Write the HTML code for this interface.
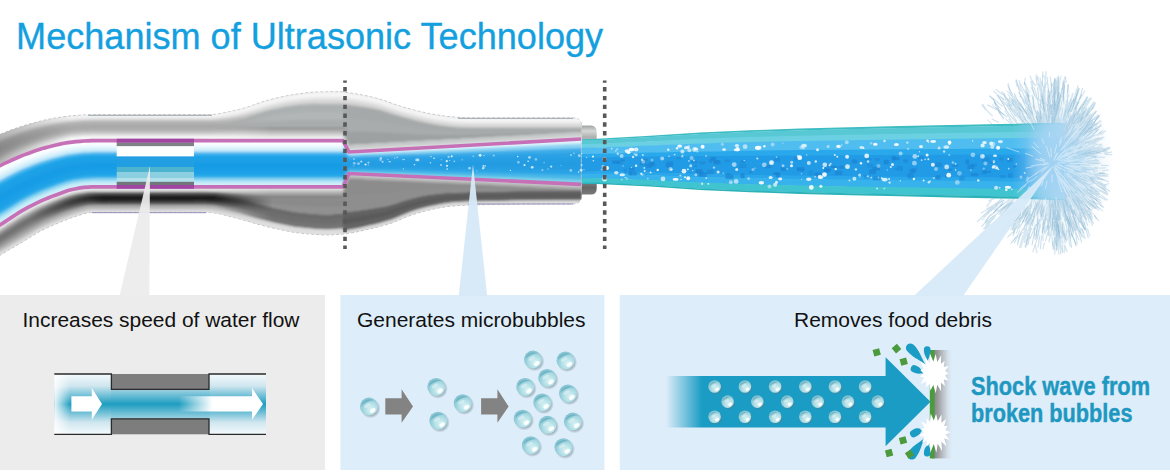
<!DOCTYPE html>
<html><head><meta charset="utf-8">
<style>
html,body{margin:0;padding:0;background:#fff;}
body{width:1170px;height:473px;overflow:hidden;position:relative;font-family:"Liberation Sans",sans-serif;}
svg{position:absolute;left:0;top:0;}
.t{font-family:"Liberation Sans",sans-serif;}
</style></head><body>
<svg width="1170" height="473" viewBox="0 0 1170 473">
<defs>
<filter id="bl" x="-5%" y="-5%" width="110%" height="110%"><feGaussianBlur stdDeviation="0.9"/></filter>
 <linearGradient id="sfg" gradientUnits="userSpaceOnUse" x1="213" y1="0" x2="272" y2="0"><stop offset="0" stop-color="#fff"/><stop offset="1" stop-color="#000"/></linearGradient>
<mask id="sfade" maskUnits="userSpaceOnUse" x="-10" y="60" width="320" height="220"><rect x="-10" y="60" width="320" height="220" fill="url(#sfg)"/></mask>
<linearGradient id="dfg" gradientUnits="userSpaceOnUse" x1="30" y1="0" x2="272" y2="0"><stop offset="0" stop-color="#000"/><stop offset="0.3" stop-color="#fff"/><stop offset="0.76" stop-color="#fff"/><stop offset="1" stop-color="#000"/></linearGradient>
<mask id="dfade" maskUnits="userSpaceOnUse" x="-10" y="60" width="320" height="220"><rect x="-10" y="60" width="320" height="220" fill="url(#dfg)"/></mask>
<linearGradient id="leftdark" gradientUnits="userSpaceOnUse" x1="0" y1="0" x2="72" y2="0"><stop offset="0" stop-color="#555" stop-opacity="0.4"/><stop offset="1" stop-color="#555" stop-opacity="0"/></linearGradient>
<filter id="bl2" x="-5%" y="-5%" width="110%" height="110%"><feGaussianBlur stdDeviation="0.6"/></filter>
<filter id="bl3" x="-5%" y="-5%" width="110%" height="110%"><feGaussianBlur stdDeviation="0.55"/></filter>
<linearGradient id="collar" x1="0" y1="0" x2="0" y2="1">
<stop offset="0" stop-color="#a2a4a4"/><stop offset="0.08" stop-color="#d6d8d8"/><stop offset="0.17" stop-color="#aeb0b0"/><stop offset="0.3" stop-color="#c9d3d6"/><stop offset="0.5" stop-color="#a9c9d2"/><stop offset="0.75" stop-color="#8a9a9e"/><stop offset="0.9" stop-color="#666"/><stop offset="1" stop-color="#7a7a7a"/>
</linearGradient>
<radialGradient id="bg" cx="0.62" cy="0.66" r="0.8">
<stop offset="0" stop-color="#dcf4f5"/><stop offset="0.45" stop-color="#aedde5"/><stop offset="0.8" stop-color="#86c5d2"/><stop offset="1" stop-color="#6fb3c4"/>
</radialGradient>
<radialGradient id="sh" cx="0.5" cy="0.5" r="0.5">
<stop offset="0.55" stop-color="#5f7480" stop-opacity="0.7"/><stop offset="1" stop-color="#5f7480" stop-opacity="0"/>
</radialGradient>
<g id="bub">
<circle cx="1.6" cy="1.9" r="10" fill="url(#sh)"/>
<circle cx="0" cy="0" r="9" fill="url(#bg)"/>
<path d="M-7.4,-0.5 C-6.6,-6.4 -0.5,-8.6 5,-6.2 C0.5,-6 -4.6,-3.8 -7.4,-0.5Z" fill="#5ea7bb" opacity="0.65"/>
<ellipse cx="3.8" cy="4" rx="3.1" ry="1.9" fill="#fff" opacity="0.95" transform="rotate(-38 3.8 4)"/>
<ellipse cx="-1.5" cy="-1" rx="3.6" ry="1.6" fill="#fff" opacity="0.35" transform="rotate(-30 -1.5 -1)"/>
</g>
<linearGradient id="fade3" gradientUnits="userSpaceOnUse" x1="666" y1="0" x2="702" y2="0">
<stop offset="0" stop-color="#1b9cc4" stop-opacity="0"/><stop offset="1" stop-color="#1b9cc4" stop-opacity="1"/>
</linearGradient>
<linearGradient id="wall3" x1="0" y1="0" x2="1" y2="0">
<stop offset="0" stop-color="#7c7c7c"/><stop offset="0.3" stop-color="#9c9ea0"/><stop offset="0.65" stop-color="#c4cbd2" stop-opacity="0.8"/><stop offset="1" stop-color="#dcebf7" stop-opacity="0"/>
</linearGradient>
<linearGradient id="wv" x1="0" y1="0" x2="0" y2="1">
<stop offset="0" stop-color="#f4fafc"/><stop offset="0.2" stop-color="#cfe6ef"/><stop offset="0.5" stop-color="#1d9dc0"/><stop offset="0.8" stop-color="#cfe6ef"/><stop offset="1" stop-color="#f4fafc"/>
</linearGradient>
<linearGradient id="wv2" x1="0" y1="0" x2="0" y2="1">
<stop offset="0" stop-color="#9fd2e2"/><stop offset="0.5" stop-color="#1d9dc0"/><stop offset="1" stop-color="#9fd2e2"/>
</linearGradient>
<linearGradient id="lf" x1="0" y1="0" x2="1" y2="0">
<stop offset="0" stop-color="#fff" stop-opacity="0.9"/><stop offset="1" stop-color="#fff" stop-opacity="0"/>
</linearGradient>
<linearGradient id="arr2" x1="0" y1="0" x2="1" y2="0">
<stop offset="0.03" stop-color="#fff" stop-opacity="0"/><stop offset="0.42" stop-color="#fff" stop-opacity="1"/><stop offset="1" stop-color="#fff"/>
</linearGradient>
<radialGradient id="sbase" cx="0.55" cy="0.5" r="0.5">
<stop offset="0" stop-color="#c4dff0" stop-opacity="0.8"/><stop offset="0.6" stop-color="#d8e9f3" stop-opacity="0.45"/><stop offset="1" stop-color="#e4f0f6" stop-opacity="0"/>
</radialGradient>
<radialGradient id="core" cx="0.5" cy="0.5" r="0.5">
<stop offset="0" stop-color="#9dd0f2" stop-opacity="0.9"/><stop offset="0.45" stop-color="#b0d8f3" stop-opacity="0.6"/><stop offset="1" stop-color="#d4e9f6" stop-opacity="0"/>
</radialGradient>
<linearGradient id="jetfade" x1="0" y1="0" x2="1" y2="0">
<stop offset="0" stop-color="#8fcaf2" stop-opacity="0"/><stop offset="0.55" stop-color="#8fcaf2" stop-opacity="0.8"/><stop offset="1" stop-color="#a5d4f3" stop-opacity="0.95"/>
</linearGradient>
</defs>

<!-- bottom boxes -->
<rect x="0" y="295" width="325" height="175" fill="#ececec"/>
<rect x="340.4" y="295" width="264" height="175" fill="#ddedf9"/>
<rect x="619.8" y="295" width="551" height="175" fill="#ddedf9"/>

<clipPath id="jetclip"><path d="M582,139.2 597,138.8 650,135.7 700,132.5 750,130.3 800,128.6 850,127.3 900,126.1 950,125.1 1000,124.1 1064,122.9 1064,199.7 1000,198.4 950,197.4 900,196.3 850,195.2 800,193.9 750,192.3 700,190.1 650,186.6 597,184 582,184.1 Z"/></clipPath>
<!-- splash -->
<g id="splash"><ellipse cx="1046" cy="163" rx="66" ry="84" fill="url(#sbase)"/><g filter="url(#bl3)"><path d="M1077.8,119.3L1084.6,106.8M1079.3,118.4L1084.4,113M1066.5,134.5L1073.3,119.8M1079.5,100.1L1082.6,88M1073.9,112.6L1077.7,102.4M1073.1,104.5L1078.2,92.8M1077.4,121.6L1084,111.9M1071.6,125.7L1080,113.1M1067.5,139.7L1070.7,135.1M1083,151.1L1094.6,146.7M1068.6,156.2L1076.3,151.6M1073.9,151.8L1078.5,150.9M1084.5,124.1L1090.2,116.2M1071.9,138.7L1075.2,134M1086,127.3L1091.8,121.9M1087,114.5L1089.1,108.3M1084.2,117L1087.9,111M1071.9,130.9L1078.2,119.9M1080.5,109L1087,100.3M1069.3,126.1L1072.4,121.6M1071.1,119.2L1074.9,112.8M1002.6,94.8L995.8,89.2M1008.7,106.8L1001.8,100.5M1095.5,180.7L1106.3,187.1M1084.9,176.7L1093.2,179.3M1090.3,178.3L1094.3,182.7M1074,238.6L1076,246.1M1066.7,210.1L1071.7,227M1059.4,195.3L1061.8,206.9M985.7,109.5L982.5,103.9M1093.3,173.1L1099.5,176M1092.5,174.4L1099.4,175.5M1080.3,168.1L1090.2,169.8M996.1,215L984.7,229.3M1008.5,203.5L997.7,211.4M1094.2,167.2L1098,169M1085.9,167.7L1093.8,169.6M1076,161.6L1082.7,162.7M1073.6,186.7L1083.9,196.7M1080.1,186.5L1086.4,194.2M1069.4,178.1L1076.3,184.1M1075.6,203.9L1083.4,217.5M1078.9,214.3L1085,230.6M1066.4,190.8L1071.7,200.1M1043.4,197.2L1038.8,211.4M1031.5,227.9L1027.2,241.5M1032.6,219L1029.5,231.2M1057.5,125.3L1058.9,116.3M1056.2,115.4L1056.4,106.6M1058.1,100.5L1058.6,93.4M1067.7,230.5L1070.5,235.8M1062.4,196.4L1064.7,207.9M1063.5,214.1L1067.1,228.7M1078.3,216.7L1084.9,230.2M1070.2,204.2L1073.3,214.3M1068,194.8L1074.4,207.3M1090.2,150.6L1101.8,147.7M1083.1,155L1093,151.1M1094.3,152.1L1104.8,148.7M1082.7,194L1093.1,202.9M1087.3,202.4L1094,207.1M1083.2,196.4L1090.4,206.4M1070,136.2L1073.1,129.6M1075.6,130.6L1082.4,120.2M1084.4,120.6L1088,113.9M1076,197.4L1084.8,208M1075.2,198.1L1079.3,201.5M1073,194.5L1080.2,204.3M1078,156.2L1082.7,156.3M1077.2,153.2L1084.9,150M1086,151.1L1094.6,147M1040.2,125.4L1039.4,116.5M1031.9,114.6L1024.7,98.2M1094.3,143.8L1102.4,136.9M1074.1,153.3L1084.4,149.7M1077.6,148.4L1088.5,141.3M1085.9,115.5L1093.9,101.9M1079.9,125.3L1089.4,114M1089.9,111.7L1094.5,103.9M1050.8,108L1047.6,91.2M1049.9,127.3L1047.9,121.4M1050.6,132.3L1049.1,123.1M1095.3,192.7L1100.4,195.1M1086.1,189.5L1091.8,195.3M1086.8,188.9L1096.6,193.6M990.2,209L977,222.2M990.3,215.3L981.6,227M1059.5,238.5L1062.5,252.7M1058.6,219.8L1062.4,237.6M1057.4,198.5L1060.7,211.9M1001.6,113.5L993.9,102.5M1003.9,119.3L997.7,110.2M1070.9,126L1073.2,118.1M1062.8,145.2L1068,137.1M1067.9,126L1069.8,118.1M1077.7,196.3L1085.7,208.9M1080.2,195.6L1088.7,204.3M1075.6,191.2L1083.1,199.3M1074.7,128.9L1079.3,121.3M1069,138.6L1075.3,128.4M1064.4,139.9L1068.5,133.5M1042.1,92.5L1038.7,83.1M1047.4,120.7L1044.7,102.6M1048.3,125L1045.9,114.3M1089.9,189.3L1097.2,196.3M1082.7,189L1090.5,194.2M1089.9,196.9L1097.1,204.6M1064.4,151.9L1075.2,143.5M1073.5,143.3L1078.9,140.2M1078.4,140L1084.9,134.1M1080.2,121L1086.6,107.5M1069.8,136.7L1072.9,133.4M1070.4,132.2L1076.2,124.4M1057.9,117.9L1060.3,107.1M1050.9,109L1048,92.9M1054.9,114.5L1054.9,101.5M1061.8,201L1064.6,211.8M1068,209.2L1071.8,225M1064.3,207.9L1066.6,221.2M1071.3,156.8L1076.9,155.7M1082.3,155.2L1088.5,151.7M1079.5,156.9L1087.1,154.9M1072.9,187.4L1076.9,190.6M1069,182.6L1077.8,195.2M1070.8,182L1081.3,191.1M1035.8,86.2L1031.6,80.8M1045.7,131.8L1043.2,114.6M1044.7,108L1042.1,99.4M1040.7,105.6L1040.4,99.3M1044.5,138.2L1041,125M1043,97.7L1044,86M1065.4,149.6L1072.7,142.1M1072.1,141.2L1078.4,133.2M1078.3,137.4L1085.9,127.4M997.2,110L987.3,104.7M990.8,221.3L985.3,224.5M1007.7,204.3L993.5,216.7M1043.2,110.3L1039.8,103.8M1044.3,121.8L1043.1,104.3M1045.3,129.4L1043.6,123M1092.2,176.9L1095.8,178.4M1081.9,171.8L1086.1,173.9M1088.9,177.7L1094.6,177.2M1080.3,199L1084.5,203M1076.2,195.3L1080.6,200.4M1071.8,187.1L1079.9,199.4M1087.4,161.1L1098.4,160.2M1073.6,163.6L1078,163.4M1085.8,162L1089.8,160.5M1076.1,190.3L1083.9,201.5M1077.4,186.9L1081.8,193M1067.7,178.2L1071,181.7M1054.5,99.9L1054.3,86.7M1054,122.1L1055.5,111M1058.3,109.7L1059.6,91.9M1034.5,125.2L1029,112.3M1083.5,205L1087.9,214.6M1090.5,219.3L1092.6,225.8M1074.1,195L1083.1,205.3M1083,178.4L1089.1,179.7M1092.2,177.3L1097.3,182M1081.4,174.1L1088.3,177.1M1074,167.9L1079.1,169.1M1082.8,167.4L1094.1,169.9M1093.2,176.6L1099,179M1078.5,180.9L1088.9,188.8M1073.3,178.2L1080,181.9M1074.2,178.5L1079.4,184M1094.9,159.5L1099,160.7M1089.4,153.9L1094.3,150.4M1092.9,157L1105,157.4M1043.1,206.1L1040.3,215.5M1039.7,235.9L1038.1,247.4M1044.7,205.8L1040.7,217.3M1015.8,116.4L1008.6,105.1M1087.1,148.1L1097.8,144M1085.7,155.2L1092.9,155.6M1085.8,150.9L1091,150.2M1040.8,224.7L1036,239.2M1045.5,185.6L1042.4,201M1043,209.2L1042,218.5M1060.8,236.4L1063.4,242.6M1058.5,225.9L1060.4,232.3M1056.4,202.4L1059.3,218.5M1055.5,232.5L1058.2,246.8M1055.5,215.8L1057.2,221.2M1056.8,207.5L1058.7,221.5M1020,106.7L1014.1,92.7M1028.1,124.1L1018.7,112.7M1021.6,112L1012.9,102.7M1019.9,108.4L1014,98.9M1025.4,118.6L1017.8,103.8M1045.1,131.5L1042.9,113.4M1042.7,135.8L1037.9,120.6M1039.7,124.4L1036.7,111.8M1048,213.6L1049.1,229.9M1051.2,186.7L1050.5,200.5M1051,214.6L1050.3,224M1052.9,122.1L1052.1,108.3M1052.9,132L1052.9,115M1052.2,97.8L1053.7,91.9M1063.8,134.8L1065.9,127.7M1066.5,127.1L1069.6,120.1M1058.6,148.2L1065.3,133.8M1046.7,148.5L1040.9,132.9M1046,147.5L1041.6,133.5M1060.5,136.8L1066,120.8M1065.2,114.4L1068.6,107.3M1063.9,114.8L1066.2,108.5M1048.8,109.5L1048.2,96.7M1052.7,121.7L1052.9,107.2M1053.2,121.3L1054.9,103M1088,132.7L1096.3,128.4M1093.9,139.6L1104.4,137.2M1082.5,142.6L1086.5,137.8M1059.6,189.9L1061.9,201.7M1059,184.7L1061.3,192.2M1059.4,193.5L1063.3,210.9M1033.7,118.6L1029.4,110.8M1033,124.9L1027.1,109.4M1010,199.1L994.7,210.6M1009.4,205.1L1001.5,216.8M1018.7,213.5L1006.8,228M1040.3,184.8L1031.7,200.5M1061.1,226.7L1065.4,243.8M1056.8,205.9L1059.9,221.8M1059,216.2L1059.8,235.2M998.9,202L989.1,210.5M1002.4,198.1L994.8,204.6M1097.3,185.4L1107.6,192.5M1076.9,171.6L1083.4,172.8M1099.1,181.4L1106.1,186.3M1075.4,192.7L1081.2,200.8M1073.1,190.3L1080.7,201.2M1067.6,179.4L1071.5,182.3M1009.9,115.6L1004.5,107.4M1029.9,236L1027.8,245.3M1034.3,231.5L1035.3,239.7M1037.9,223.1L1033.9,230.2M1082.4,131.7L1090.6,119.8M1084.8,130.4L1087.5,125.6M1071,145.3L1080,137.7M1014.6,230.7L1007.3,237.4M1027.7,216.6L1023.6,230.2M1028.5,210.4L1021.2,219.8M1105.2,154.5L1112.4,154.7M1092.7,154.8L1097.4,155.1M1089.9,160.7L1096.4,160.8M1056.2,229.3L1056.7,245.8M1050.5,213.6L1050.6,227.1M1052.6,212.8L1051.5,230.8M1068.3,214.8L1070.9,227.5M1057.4,181L1062.8,196.8M1063.9,199.9L1067.9,214.7M1092.9,149.1L1102.6,145.5M1077.3,158.5L1085.6,157.5M1075.4,154.8L1086.8,150.8M1088.2,123.1L1098.3,114.9M1085.2,129L1092.4,120.1M1076.5,141.6L1082.7,133.6M998.9,122.4L991.7,118.9M997.9,209.5L987.8,217.8M1058.8,228.1L1059.8,238.5M1062.1,223.5L1064.2,234.1M1058.7,208.7L1059,214.6M1067.4,113.3L1069.9,101.3M1056.6,148.6L1061.3,132.3M1059.7,141.1L1063.7,128.5M1026.3,211.5L1015.2,226.4M1031.5,201.7L1030,208.6M1015.3,219.9L1012.2,230.3M1020.5,220.6L1016.6,228.8M1017.9,225.4L1012.7,230.4M1054.5,237.1L1053.8,249.9M1054,221.8L1055.5,231.2M1052.1,194.7L1052.4,207.3M1086.4,101.7L1091.3,97.8M1084.2,102.1L1088.2,97.1M1069.2,136.7L1073.1,129.6M1049.6,219.6L1046.6,231.3M1050.3,199.3L1050.3,214.6M1049.9,201.8L1049,214.9M1059,213.3L1060.3,219.9M1054.3,181.4L1055.5,196.9M1054.9,188.4L1056.3,204.8M1064.6,245.2L1067.2,251.8M1056.7,197.9L1057.3,210.1M1057.8,230.8L1057.8,245.7M996.3,197.4L988.5,201M1009.1,105.9L1005.8,101.2M1014.8,111.9L1004.1,102.3M1033.9,93.3L1030.7,80.8M1039.3,126L1036.4,116.1M1036.8,116.4L1033.5,103.8M1086.9,128.6L1091.2,124.2M1077.2,139.4L1082,133.8M1080.2,139.4L1086.6,131.9M1016.5,108L1007.1,98.5M1027.7,125.8L1021.3,119.6M1013.6,112.4L1009.1,108.4M1058,190.9L1061.9,203.7M1060,198.8L1063.3,208M1056.5,190.8L1057.2,200.1M1034.7,110.1L1032,94.8M1035.7,123.2L1031.7,112.5M1006,207.5L996.8,213.2M1001.6,201.1L992.5,207.6M1088,193L1098.3,198.9M1074.8,176.7L1078.4,180.5M1080.8,180.4L1087.6,185.5M1018.8,125.2L1009.7,114.9M1034.1,120.2L1029.2,103.5M1030.6,106.6L1027.1,91.8M1052.7,102.9L1053.5,90M1051.8,134.1L1052.7,118M1049.6,99L1048.3,90.9M1099.3,190.1L1108.2,193.9M1074.1,174L1081.1,177.1M1082.4,177.4L1093.2,184M1078.3,230.6L1081.7,242.5M1069.9,217.8L1073.4,234.7M1068.8,209.6L1072.1,221.1M1091.7,142.7L1096,142.8M1086.3,140.4L1093.6,135.2M1072.7,154.4L1079.1,150M1093.5,192.5L1097.3,195.2M1071.7,176.6L1080.7,182.4M1066.3,173.6L1075.4,180.3M1059.7,241.2L1060.7,254.3M1054.5,199.2L1054.9,213.9M1055.4,235.6L1054.8,254.4M1004.6,199.9L995,205.9M1077.7,204.1L1085.7,212.9M1073.6,199.2L1081.1,214.1M1076.9,200.1L1082.3,211.8M1036.1,201.5L1031.4,218.8M1030.5,213.8L1029.5,219.9M1073.9,117.7L1076.9,107.7M1071.1,126.6L1078.2,112.8M1063.3,139.3L1067.8,128.6M1092.6,124.1L1099.5,115.5M1076.4,138.1L1082.5,130M1086.6,132.4L1093.5,123.9M1099.3,184L1110,191.5M1084.3,183.5L1092.8,187.8M1073.1,174.2L1082.3,180.4M1009.7,89.8L1008,83.1M1026.7,114.2L1018.5,103.5M1024.9,103.9L1020.2,95.7M1069.2,156L1079.2,153.5M1078.8,150.2L1086.5,147.8M1069,155.7L1075.8,154.1M1068.2,138.7L1076.3,126.9M1067.8,137.6L1073.2,126.3M1085.8,115.1L1090.1,112M1082.3,135.6L1089.8,127.8M1069.7,142.9L1076.2,135.7M1070.4,144.3L1077.7,138.9M1046.9,125L1046.2,112M1047.1,103.2L1048.4,89.2M1048.7,126.1L1048.8,115.9M1060.8,199.8L1062.3,207M1060.1,194L1064.1,208.5M1065.3,215.5L1068.7,225.5M1052.1,139.3L1051.7,122.8M1052.5,124.6L1051.7,108.2M1051,131.3L1048.6,114.9M1058.7,93.7L1059,85.8M1060.3,110.3L1062.2,99.5M1063.1,97.7L1063.8,91M1063.6,194.2L1068,205.7M1064.8,194.8L1070.7,207.8M1064.2,197.8L1068,205.5M1069.8,164.1L1081.2,164.3M1089.2,169.1L1096.7,168.7M1082.3,165L1090.6,166.1M1062.8,126.3L1066.6,109.7M1073.7,104.7L1076.9,97.8M1071.3,111.8L1074.6,103.6M1040.7,206.1L1036.9,215.4M1044.3,209.3L1043.1,217.2M1042.2,201L1041.5,210.7M1053.3,185.9L1053.6,201.7M1052.8,197.2L1053.7,208.4M1053,198.9L1054.2,208.6M994.9,204.9L987.3,213.9M1020.6,232.6L1017.4,245.2M1034.3,210.9L1029.9,217.1M1030.2,218.5L1025.4,224.8M1079.8,229.9L1082.3,237.5M1070.3,205.9L1075,221.1M1067.9,202.4L1071.8,209.5M1051.9,118.5L1052.4,104M1053.3,140.8L1054.7,126.5M1054.5,123.5L1054.3,111.9M1043.7,104L1041.2,95.4M1049.3,132.5L1049.7,123.2M1044.9,115.8L1043,97.6M1095.3,131.1L1101.2,123.8M1079.3,144.9L1085,139.1M1089.1,133L1099.5,126.7M1066.9,216.2L1069.3,229M1069.3,216.7L1073.4,225.9M1062.6,208.2L1065.5,221.8M1068.1,228.5L1070.7,238.3M1062,202.3L1063.3,212.6M1071.1,219.3L1076.3,230.5M1081.7,221.2L1086.1,230M1078.1,216.9L1084.2,229.2M1071.5,207.7L1074,213.9M1059.3,208.9L1061.1,219.9M1054.5,179.6L1055.7,192.2M1054.2,182.8L1055.7,201M1057.1,91.9L1057.9,80.3M1056.5,130.7L1056.8,119.8M1057.3,101.6L1058,90.1M1096.4,174.3L1108.3,176.3M1083.2,167.4L1094.8,169.6M1072.2,169.6L1081.7,172.3M1086.1,178.7L1095.3,183M1073.7,175.8L1078.7,177.2M1068.5,171.5L1077.8,175.3M1088.3,135.1L1097.3,125.6M1075.2,139.1L1083.6,129.6M1068.9,145.1L1077.7,134.9M1087.3,215.2L1089.5,222.6M1083.9,212.8L1088.5,216.7M1070,188.9L1077.9,198.1M1020.1,230.1L1014.3,243.3M1016.1,227L1013.8,233.8M1032.2,204.3L1025.4,215.5M1008.9,220L1002,226.9M1017.2,208.3L1010.4,213.5M1026.4,198.5L1015.4,211.5M1066.7,201.9L1068.4,207.1M1073.2,216.3L1078.8,233M1066.2,205.1L1070.2,219.2M1091.3,136.1L1099.1,129.2M1088.2,144.1L1098.7,139.1M1077.3,148.7L1082.5,147M1071,191.2L1078.3,201.2M1064.6,187.8L1071.5,199.8M1072.1,197.1L1074.9,204.5M1054.7,112.6L1054.6,96.4M1054.6,117.4L1054.9,100.8M1057.7,113.2L1061.2,95.4M1061.1,137.9L1067,124M1062.4,133L1065.3,126.6M1065.8,113.2L1071.4,97.9M1074,132.6L1078.8,122.9M1086.3,122.6L1092.1,115.2M1080.3,132.4L1084.1,128.3M1059.1,128.2L1061.2,121M1055.2,135.4L1056.6,118.3M1056.1,139.4L1059.4,121.8M1069.4,123.5L1071.3,115.4M1064.9,131.4L1069.9,122.6M1065.9,128.3L1068,122.5M1044.4,222.9L1043.2,229.2M1048.1,187.3L1046.7,204.6M1045,225.8L1044.5,232.7M1057.6,146.1L1060.2,137.3M1060.7,136.4L1064.2,127.9M1060.2,139.7L1064.5,127.7M1081.9,134.1L1087.8,130.7M1065.6,148.6L1074.6,138.7M1071.7,148.4L1078.4,141.7M1073.9,201.2L1079,210.9M1081.4,210.9L1087,220.3M1070.5,188.8L1077.5,197.3M1050.3,180.9L1049.8,192.5M1051.1,178.9L1051.1,191.1M1046.5,185.2L1044.9,193M1065.3,202.8L1069.2,211.7M1066.4,199.8L1073.6,213.6M1070.6,205L1075.8,216M1012.7,203.2L1006.3,206.2M1010.4,210.4L1005.2,214.9M1077.4,193.7L1083.1,203.1M1075.4,190.2L1081.5,198.6M1085.1,205.4L1091.9,210.5M1072.7,137.7L1076.8,135M1068.6,141.5L1076.3,133.8M1084.5,122.4L1090.2,116.6M1021.1,113.6L1012.5,104.4M1021,117.5L1014.4,111.6M1064.7,183.6L1072.6,197M1068.8,192L1071.3,196.6M1077.2,202.5L1082.5,210.4M1054.1,107.9L1053.5,102.1M1051.8,86.3L1055.1,80M1053.2,118.2L1052.4,111.9M1027.9,205.8L1019.7,220M1020.9,212.5L1019,220.2M1058.9,222.6L1060.6,228.6M1059.7,221.2L1062,230.8M1055.5,196.2L1057.3,204.6M1052.4,126.6L1052.5,115.1M1053.1,123.6L1054.4,117.9M1054.4,98.5L1053.2,83.9" stroke="#a4c9de" stroke-width="1.1" fill="none" opacity="0.55"/><path d="M1079.9,116.7L1086.6,109.6M1077.3,114.5L1082.3,107.1M1073.1,125.7L1078.6,114M1080.4,98.3L1085.1,90.5M1071.5,116.8L1075.5,109.1M1071.7,118.4L1076.1,109.9M1079.2,117.1L1083.9,111.7M1071.5,133.8L1076.6,123.8M1066.1,142L1073,130.3M1082.5,148.3L1093.8,142.3M1069.2,154.1L1075.4,152.4M1076.1,152.4L1087.2,149.6M1085.8,126.2L1090.8,117.4M1067.6,143.6L1075.4,133.9M1073.6,137.4L1078.7,132M1083.2,119.6L1090.2,110.2M1063.8,142.5L1071,129.7M1079,115.3L1082.6,110.9M1075.3,109.8L1081.4,93.9M1066.8,127.8L1071.9,115M1080.1,107.6L1083.1,103.5M1003.9,100.2L993.4,91M1023.6,121.5L1018.4,113.9M1099.8,184L1106,188.7M1074.7,169L1086.5,170.4M1072,170.7L1081.3,172.6M1072.2,235.3L1076.6,245.7M1063,205.5L1065.3,220.2M1071,218.6L1074.8,231.1M992.6,116.3L981.6,104.9M1089.3,173.1L1099.5,176.2M1079.7,174.4L1084.2,177.5M1091.5,173.5L1095.3,174.5M990.5,224.4L984.2,228.8M1086.7,162.5L1098.7,162M1080.3,168.5L1084.5,168M1069.4,162.9L1075.7,161.5M1090.7,197.4L1095.4,204.7M1071.6,181.4L1079.4,187.2M1080.3,185.4L1087.1,188.1M1087.4,228.3L1089.8,236.6M1076.5,209.7L1079.4,218.3M1079,211.4L1085,225.1M1026.7,228.8L1024.4,243.1M1041.6,193.6L1038.3,208.6M1041.3,210L1041.3,220.6M1055.6,109.1L1058.3,91.8M1055.9,116L1057.4,110.2M1055.7,127.2L1058.1,115.2M1067.7,229.1L1070,247.1M1068.6,218.1L1073.4,231.6M1070.9,234.4L1074.2,239.3M1079.4,230.7L1081.7,236.1M1074.1,210.6L1076.5,220.2M1075.7,213.1L1080.5,222.1M1098.7,148.7L1110.2,148.6M1094.4,150.6L1100,150.6M1093.4,151.9L1098.8,149.9M1091.2,201.8L1099.2,210.2M1082.9,191.1L1090,197.5M1078.6,187.2L1088.9,197M1085.2,117.2L1087.7,112.7M1080.2,128L1084.7,122.2M1080.6,120.1L1084.5,114.1M1078.7,200L1085.7,212.8M1071.6,189.9L1075.4,196.3M1072.5,188.4L1081.9,197.5M1093.5,152L1100,148.8M1072.1,154.9L1083.2,151.5M1080.5,154L1088.7,152.7M1020.8,91L1015.5,80.7M1028.5,110.9L1022.5,100.1M1026.5,102.2L1021.8,89.7M1098.4,139.5L1102.8,139M1092.8,144.1L1096.2,139.7M1073.2,151.7L1081.8,147.5M1085.6,114L1094.4,102.7M1082.2,118.7L1086.6,108.4M1070.3,137.9L1077.5,130.3M1048.9,104.8L1049.7,91.1M1046.6,106.3L1043.3,96.1M1049.5,111.9L1047.5,104.2M1089.6,189.9L1099.6,197.7M1077,181.3L1082.3,186.3M1089.5,192.6L1097.7,201.8M993.1,216.1L983.4,229.4M993.9,207.5L987,213M1055.9,203.5L1058.1,217M1058.4,205.7L1059.4,211.7M1057.1,208.7L1057.7,215.2M1013.1,123L1008.9,118.9M1074.4,125.1L1077.6,119.3M1070.7,130.3L1075,120.3M1066.5,140.4L1070.3,135.7M1088.5,207.9L1092.4,213.8M1068.3,184.4L1073.9,194M1073.3,189.5L1080.4,199.7M1077.4,119.6L1083.6,110.1M1067.4,137.2L1073.3,126.5M1072.7,128.4L1079.9,114.8M1033.3,83.4L1029.9,75.8M1042.5,96.6L1037.4,83.8M1041.9,94.2L1040,77.5M1095.1,199.1L1103.8,207.8M1095.9,198.9L1100.6,200M1090.8,195.8L1101.1,200.6M1092.5,126.7L1097.9,123.2M1082.6,133.4L1092,122M1089,130.4L1094.9,122.5M1083.7,110.6L1085.7,103.2M1071.1,133.4L1075.5,125.5M1081,116.9L1083.2,110.8M1057.5,93.5L1060.9,76M1054.7,96.4L1055.4,79.6M1055.3,123.6L1056.1,108.5M1072.9,222.4L1076.5,230.2M1061.3,192.1L1062.9,198.8M1065.1,201.7L1068.7,213.2M1093.5,154.6L1101.7,150.7M1079.6,158.8L1084,158.9M1087.4,154.4L1098.6,149.4M1094.4,215.7L1099,221.1M1085.9,199.2L1095.8,206.3M1087,199.7L1095.4,208.6M1044.9,87.9L1046,71.2M1041.1,95.2L1037.7,77M1044.6,92.1L1041.3,80.8M1044.4,102.5L1043,85.7M1041.8,103.8L1040.1,89.6M1045.2,116.1L1045.9,110.3M1076.2,131.2L1085.2,118.7M1082.8,128.4L1087.2,123.7M1075.2,134.9L1078.2,130.4M1004.7,105.6L997,94.9M1007.4,116.9L999.8,111.5M991.7,209.2L981.7,220.4M991.4,213.7L985.2,221.3M1047.6,146.6L1043.2,132.5M1045.6,123.2L1044.1,117.1M1046.1,128.9L1042,115.2M1075.9,172.9L1085,178.7M1065.2,167.3L1076.5,172M1072.1,172L1076.1,174.8M1059.8,173.2L1068.1,184.7M1061.7,173.2L1070.1,182M1061.9,175L1068.9,184.9M1081.2,166.5L1085.3,168.2M1078.2,166.7L1089.2,168.6M1074.3,163.1L1085.2,165M1073.8,185.1L1078.5,190.4M1071.3,181.4L1081.1,190M1078,189.2L1081.7,194.3M1054.1,123.4L1054.1,110.4M1054.9,114.6L1056.3,102M1057.6,115.9L1058.9,103.7M1087.8,213.9L1093.9,223.9M1080,199.7L1085.8,205.1M1064,181.3L1071.9,195.4M1090.8,179.2L1102.1,184.6M1075.8,173L1082.9,175.7M1074.4,170.3L1083.9,173.2M1094.1,178.6L1104.2,179.6M1079,169.3L1082.8,168.5M1078.1,166L1084.9,166.7M1087.6,184.2L1096.9,192.6M1076.4,177.4L1082.7,182.3M1080.6,184.1L1086.9,189.8M1103.3,151.9L1107.6,147.6M1076.4,158.5L1082,158.5M1089.3,157L1096.9,156.5M1044.5,242.4L1042.8,249.3M1044.3,207.7L1042.6,219.2M1047.5,224.6L1044.9,234.3M1003.2,106.8L989.4,95.9M1003.8,117.9L995.9,107.2M1091.9,150.2L1098.5,148.6M1080.3,154.4L1089.3,150.7M1077.8,155.8L1084.1,153.5M1031.8,219.3L1026.3,236.5M1038.1,218.9L1036.7,233M1029.5,224.9L1027.4,235.2M1059,234.2L1061.6,243.2M1057,213.6L1057.1,223.3M1057.7,202.4L1057.6,209.3M1054.5,240.1L1053.6,247.4M1051.7,229.3L1048.9,242.2M1055.3,224.1L1055.8,232.6M1021.3,106.4L1011.2,94.2M1023.3,123.7L1013.2,108.9M1018.9,115.2L1016.4,107.3M1021.7,119.2L1014.5,107.4M1042.6,127.8L1036,110.9M1042.2,131.1L1039.4,117.3M1040.4,120.8L1039.7,111.6M1050.1,225.3L1048.4,235.8M1052.3,197.8L1052.9,209.7M1050.1,207.2L1050.4,219.9M1056.5,92.1L1058.8,77.3M1054.4,102.4L1056.4,92M1053.1,137.9L1053.6,119.5M1065.4,134.5L1072.2,120.4M1057.3,147.8L1060.5,137.7M1061.1,138.6L1063.8,132.4M1035.1,112.2L1032.8,105.2M1038.3,122.5L1037.8,115.5M1068,93.2L1068.2,84.2M1057.9,133.4L1059.7,123.2M1069,104.3L1072.6,95.6M1053.4,100.5L1054.7,83.2M1053.1,127.6L1053,115.5M1053.4,133.2L1055.2,118.9M1101,135.1L1105.7,130.5M1099.1,132.5L1103.9,132.8M1088,142.5L1099.4,137.4M1063.2,211.4L1065.4,221.4M1059.9,193.1L1065.2,209.5M1064.5,205.3L1067.4,210.8M1030.9,104.8L1025.2,89.6M1030.9,111.6L1027.3,106.4M1041.1,134.8L1037.3,125.6M1013.4,202.1L999.7,214.8M1014.8,198.2L1002.9,208.3M1024.7,207.2L1022.3,213.4M1015.4,219.2L1009.4,224.2M1056.8,231L1059.1,245.7M1057.4,204.8L1059.3,223M1057.1,221.1L1057.8,239.8M991.6,200.3L986.4,206.8M1002.3,200.6L996.5,204.6M1099.6,175.7L1105.6,176.4M1089.7,175.9L1098.7,179.8M1097,181.9L1102.7,185.9M1068.5,181.5L1073.7,186.4M1072.2,185.6L1075.3,189.1M1071.6,187L1080.3,200.1M1018.4,117.8L1010.5,104.3M1031.1,228.2L1025.6,244.6M1040.2,218.4L1038.5,234.9M1028.8,235.5L1025.3,242.1M1084.3,138.4L1094.6,129.5M1069.7,146.8L1072.9,143.4M1067.9,150.4L1074.7,144.8M1022.8,228.4L1017.5,242.5M1025.4,212.9L1019.2,222.5M1023.9,213.5L1020.9,220.3M1091.2,154.6L1096.9,153.8M1080.8,154.5L1087.7,152.9M1102.7,150.2L1109.9,147.4M1052.9,216.2L1054.1,225.7M1049.8,194.2L1047.9,211.8M1053.7,213.6L1053.4,224.5M1069.6,206.7L1073.6,215.7M1061,185.1L1066,196.6M1064.6,195.5L1070.2,206.8M1091.7,152.8L1102.9,147.4M1072.9,158.9L1081.2,158.1M1095.9,153.3L1100,151.8M1097.2,123.6L1100.6,120.6M1075.6,140.4L1080.2,135.2M1082.6,134.2L1089.8,126.7M994.7,218.2L985.3,222.5M1011.9,201.8L1005.4,208.4M1057.1,208.4L1059.8,224.9M1058.1,224.2L1059.3,237.4M1057.1,222.1L1059.9,237.4M1064.3,116.5L1065.9,104M1063.7,121.2L1064.9,114.2M1065.7,117.5L1069.4,108.8M1029.9,206.7L1024.6,217.4M1035.5,197.9L1033.2,203.3M1020.8,213.3L1012.2,230.2M1018.9,216.4L1011.2,225.4M1032.1,199.8L1026.5,214.6M1057.3,237.6L1056.7,249.6M1058.5,233.7L1059,249M1051.4,232.3L1053.1,246.3M1085.8,104.2L1091.6,98.2M1073.9,120.6L1076.8,116.3M1084.9,103.4L1087.2,96.2M1049.4,220.1L1046.2,231.3M1047.8,211.7L1044.6,224.3M1051.8,209.2L1053.4,226.2M1058.3,213L1057.8,220.6M1054.3,191.8L1055,210.3M1052.9,180.9L1054.1,193.4M1064.9,244.8L1064.5,252.8M1063.2,223.2L1065.4,235.1M1059.8,208L1060.2,216.4M1005.9,100.6L1004,93.9M1017,116.5L1014.3,108.6M1016.7,104.5L1014.3,95.3M1032.7,88.4L1032.8,80.4M1043.7,129.2L1041.4,110.7M1042.4,126.5L1039.8,114.3M1088.4,132.6L1093.3,129.6M1081.5,141.6L1086.6,136.5M1079.4,145.5L1082.6,142.1M1015.9,106.4L1008.7,97.5M1023.7,109.5L1018.1,101.7M1060.6,202.5L1063.1,216.6M1057.1,200.1L1057.4,207.9M1054.5,178.3L1056,191.7M1029.6,93.3L1024.6,82.1M1037.9,125.3L1033.4,118.1M1030,96.7L1026.1,91.4M1012.3,203.4L1000.3,216.8M1015.2,197.6L1006.8,203.5M1094.7,192.7L1099.6,194.3M1079.2,181.3L1086.6,184.3M1072.4,173.1L1078.4,175.3M1021.5,91.5L1019.1,80.2M1032.6,123L1027.1,109.7M1031.2,122.7L1026.4,116M1049.9,97L1051.1,90M1051.7,120.9L1052.7,108.2M1048.8,126.2L1047.9,115.5M1096.6,188.4L1107.8,195.3M1070.9,174.5L1081.8,181.1M1093.6,191.2L1097.9,195.6M1081.5,228.5L1085.4,238.9M1070.8,217.2L1075.1,229.2M1073.1,224.4L1077.6,230.8M1089.7,138.7L1094.1,134.7M1068.1,153.2L1079,145.2M1075.5,149.6L1079.9,147.9M1091.3,192.6L1097.3,194.9M1080.9,180.4L1091.6,187.2M1090.5,186.1L1097.2,190M1055.8,236.2L1059,254.6M1056.7,223.1L1057.6,238.2M1055.3,232.7L1057.4,249.1M1083.2,211.5L1086.3,218.5M1070.7,193.6L1079.1,204.2M1078.3,205.5L1082.2,213M1023.1,235.3L1019.5,247.8M1030.5,216.8L1022.2,231M1026.3,230.1L1020.7,247.9M1075.5,117.2L1078.7,109.7M1070.6,123.8L1075.9,110.5M1063.4,142.3L1066.8,137.4M1095.4,125.3L1101.5,120.7M1077.1,142.1L1086.2,131.9M1068.8,145L1075.9,139.3M1100.9,195.3L1107.9,200.1M1102,186.7L1105.9,191.3M1079.5,179.1L1086.8,181.5M1016.8,86.3L1016.2,79.3M1040.6,137L1033.4,121.3M1091.3,153.7L1096.6,149.9M1089.6,153.6L1093.7,154.1M1077.2,154.9L1088.5,153.5M1085.5,111.7L1095.2,101.8M1084.3,109.2L1089.9,100.3M1077.8,120.7L1081.3,114.2M1087.3,127.2L1092.5,125M1084.6,133L1089.8,127.9M1082,131.3L1086.7,126M1046.8,84.7L1043.4,74.8M1043.2,102.8L1042.7,92.8M1047.3,105.7L1044.6,99.6M1070.2,215.7L1073,229.6M1060.7,192.9L1062.6,203M1058.7,195L1060.8,205.1M1053.8,122.6L1055.1,108.1M1052.2,139.3L1052.4,124.8M1051.8,149.1L1050.6,135.4M1063.4,94.8L1065,76.4M1063.9,104.6L1063.8,96.6M1061.8,97.4L1063.4,79.5M1073.7,213.3L1077.5,225.2M1074.1,208.8L1077.8,214M1063.3,188.6L1066.1,196.3M1101.7,170.6L1108.5,170M1089.7,164L1100.9,163M1099.4,168.3L1105.8,167.7M1074.3,103.8L1078.8,87.7M1064.3,118.4L1068.3,102.6M1069.6,107.6L1072.8,93M1035.2,244.8L1037.1,253M1028.3,241.8L1024.7,246.9M1041.1,205.9L1040.6,214.5M1053,219.8L1051.5,234.6M1053.2,203.4L1053.1,213.8M1056.8,224.9L1057.6,231.1M993.1,208L983.4,216.8M1002.7,200.1L986.6,208.9M1039.2,202L1036.4,215.8M1034.2,210.5L1028.3,224.2M1033.8,211.4L1031,216.7M1070.3,206.7L1072.9,213.7M1074.6,216.5L1077.9,229.4M1066.3,204.3L1070.6,219.3M1053,138.9L1054.5,125.3M1053,117.9L1052.8,109.8M1054,132L1054.2,119M1049.2,131.9L1048.6,115.1M1050.4,114.6L1049,100.6M1045.6,119.8L1044.4,112.7M1073.1,147L1083.2,137.5M1089.2,137.2L1093.3,135.3M1073.7,147.3L1080.7,143.9M1069.2,214.7L1072.4,220.7M1060.6,188.3L1062.9,195.4M1060.8,195L1062.9,202M1060.9,196.8L1063.4,204.5M1061.4,190.3L1065.1,200.2M1069.1,217.5L1075.1,231.1M1064.9,191.4L1070.4,200.9M1066.9,190.1L1071.2,198M1065.9,195.6L1071.1,206.2M1054.2,183.4L1055.4,199.6M1055.9,188.5L1058.8,205.6M1056.9,195.9L1058.1,205.8M1058.1,102.4L1057.9,89.2M1055.7,128.4L1056.1,113.5M1055.6,112.6L1057,105.2M1082.4,168.1L1088.2,169.1M1099.5,176.2L1106.4,176M1099,173.7L1104.6,172.5M1079.8,178.8L1090.2,186.7M1089.3,179.6L1095.3,180.6M1089.4,186.3L1092.4,190.7M1079.7,135.6L1085.3,132.3M1084,136.2L1093.3,127.8M1085.2,132.1L1094.5,122.6M1072.1,196.5L1074.9,202.6M1083.2,205.7L1088.5,211.9M1074.2,197.1L1081.8,205.4M1025.1,228.6L1023.8,235.6M1039.1,198.4L1033.8,209.8M1012.1,223.1L1000.7,236.3M1014.9,205.9L1007.4,217.4M1020.3,211.8L1011.4,226.6M1076.9,223.5L1082.5,231.9M1078.7,225.2L1080.1,232M1062,186.9L1068.8,202.5M1097.3,135.4L1103.9,131.9M1093.6,136.1L1103.1,132.7M1092.2,144.9L1095.7,142M1086.9,213.2L1092.7,219.2M1077.9,218.4L1078.8,225.3M1073.6,203.9L1078.8,215.6M1057.4,93.4L1057.9,86.2M1054.4,140.9L1057.1,124.7M1055.6,130.5L1055.8,119M1069.9,112.2L1075.3,100.8M1073.2,113.9L1074.7,107.4M1071.2,108.1L1072.3,100M1088.6,117.4L1096.4,110.8M1089.7,119L1096,111.8M1088,127.6L1092,122.5M1060.8,97.7L1063.8,81.6M1062.7,91L1064.2,84.5M1060.4,122.7L1062.7,107.5M1073.8,113.2L1077.1,101M1067.7,127.4L1071.5,120.4M1071,126.4L1074.5,119.6M1042.5,227.1L1043.1,240.8M1049.4,210L1050.7,228M1049.8,188.2L1049,204.1M1064.1,117.1L1065.4,110.5M1063.3,126.5L1064.4,120M1062.2,136.3L1066.8,121.2M1089.7,124.5L1093.4,121.1M1068.5,146.8L1077.2,139.6M1079.8,138.1L1083.8,134.7M1082.9,213.2L1087.9,226.1M1079,211.4L1082.4,220.2M1065,182.4L1071.9,192.9M1047.4,206L1044.9,217.4M1050,183.4L1049.2,191.5M1051.1,191.9L1050.1,201M1079,230.6L1084.1,238.1M1068.9,204.3L1075.8,216.3M1073.5,217.4L1077.2,228.1M1008.5,212.5L1001.8,220.8M1004,206.6L999.8,210.7M1084.8,211.3L1089.6,219M1073.7,188.8L1079,196.1M1083.7,199.8L1093.6,208.9M1089.3,111.8L1094,107M1079.7,130.4L1086,123.9M1086.4,120.5L1090.9,113.7M1014,98.7L1008.8,89.3M1016.6,104.5L1009.3,91.1M1078.1,202.5L1085.7,212.3M1075.7,202.5L1080.1,209M1067,189.8L1072.7,202.7M1052.4,92.9L1050.2,76.7M1052.8,123.3L1051.8,104.9M1054,104.7L1053.1,99M1019.9,213.9L1017.4,222.6M1025.3,207.1L1020.9,219.1M1059.9,221L1062.3,233.6M1057.5,205.7L1059.3,211.2M1055.9,197.7L1056.9,212.5M1054.1,91.4L1055.1,78.7M1054.8,95.5L1055.9,80.6M1054.3,130.1L1054.8,120.7" stroke="#c4dcea" stroke-width="1.4" fill="none" opacity="0.65"/><path d="M1065.2,136.6L1070.1,125.7M1071.3,124.2L1074.7,113.9M1077.4,114.3L1080.8,107.1M1074.3,109.2L1079.1,102M1072.9,102L1078.1,85.3M1064.6,133.4L1070.5,117.2M1064.4,142.5L1068.8,132.9M1076.3,124L1080.6,117.2M1066,139.7L1071.1,131.4M1068.8,157.2L1073.8,156.4M1067,155.7L1073.6,151.2M1077.9,154.6L1085.9,153.8M1075.1,136L1081.5,127.9M1066.4,147.5L1072.7,142.4M1074,135L1080.6,128M1068.1,140.2L1076.8,128.1M1065.6,142.2L1070.6,134M1070,138L1074.4,130.3M1077.1,115.1L1079.9,107.5M1075.1,109.7L1081.3,95M1072.6,121.7L1077.2,111.1M1010.7,106.2L1001.4,91M1012,106.4L1002.9,92.2M1078.1,175.2L1085.5,178M1069.8,172.7L1080.9,177.1M1071.2,174.3L1078.8,180.6M1068,218.7L1069.8,224.8M1069,229.6L1071.6,247.8M1064.4,210L1070.4,226M1013.3,125.4L1005.5,118.9M1076,171L1081.4,172.5M1088.4,167L1094.8,169.2M1093,171.4L1097.9,170.7M1004.5,218.9L992.1,228.6M1087.8,163.5L1098.7,163.4M1076.4,165.2L1080.2,164.6M1072.5,164L1081.4,163.9M1086.6,193.8L1097,200.6M1088.7,199.8L1094.6,202.8M1079.7,185.1L1087.8,191.3M1086.2,229.4L1088.3,238.3M1072.3,198.8L1075.2,206.2M1069.1,191.3L1076.8,202.7M1035.1,228.2L1032,245.3M1035.8,224.1L1030,239M1040.6,198.9L1035.1,212.2M1053.6,109.2L1054.6,91.3M1055.3,109.4L1054.9,100.5M1056.7,115.6L1057.5,104.7M1071.2,232.8L1075.7,243.6M1068.6,221.6L1071.6,235.2M1066.5,214.6L1068.6,221.2M1081.4,228.4L1084.2,233.5M1065,192.3L1071.2,206.5M1069,206L1073.4,215.5M1100.4,151.4L1110.1,147.6M1084.6,152.5L1096.3,147.9M1103.7,152.2L1107.9,151.9M1090.4,196.4L1101.8,203.3M1088.1,201.4L1096.3,208.5M1093.3,201.3L1098.5,208.1M1079,123.3L1088.1,113.5M1080.2,125.9L1083.9,123.2M1077.4,125.2L1083.8,116.6M1081,208.9L1085,214M1061.5,178.8L1068.8,191.2M1066.3,188.6L1068.5,193.5M1093.6,149.2L1099.8,147.7M1081.8,154.1L1091,152.3M1070.4,157.9L1076.4,154.8M1020.6,97.1L1016.6,80.2M1024.1,85L1025.3,77.7M1027.2,96.4L1020.4,83.6M1074.8,153.4L1086.3,148.9M1078.6,149.3L1082,146.2M1098,145.2L1102,144M1074.6,133.5L1079.8,128.5M1078.1,124.5L1083.2,117.3M1077.2,129.8L1085,119.9M1050.9,114.7L1048.2,99.8M1052.4,122.9L1051.1,105.4M1049.7,118.3L1047.5,108M1094.9,190L1099.5,192.1M1086,186.7L1094.1,195.1M1089.2,186.7L1099.6,193.8M997.7,204.6L990.9,211.2M1062.7,242.6L1062.9,252.6M1058.5,197.5L1061.3,207.9M1056.8,216L1058.8,232.8M998.6,108L994.4,102M1004.4,115.2L992,104.7M1070.3,130.3L1076.8,118.3M1071.7,129.8L1074.9,125.5M1063.3,142.9L1066,138.6M1083.7,208.2L1090.8,216.8M1085.6,203.9L1090.1,209.7M1070.9,184.4L1074.6,190M1077.5,119.9L1084.4,111.3M1073,124.6L1079.9,114.7M1071.2,132.6L1073.8,126.5M1036.2,80.6L1036.1,74.5M1044.6,111.6L1041.7,98.5M1048.5,127L1045.6,114.4M1098.5,195.8L1106.1,200.5M1097,202.7L1102.6,207.1M1089.3,191L1092.6,196M1090.5,128.8L1097.8,123M1082.9,135.6L1092.8,129.5M1080.5,135.4L1089.2,128.6M1081.5,111.3L1084.5,101.7M1081,119.6L1085,110.9M1069.5,138.5L1077.4,128.6M1058.6,91.7L1058.3,75.5M1053.1,126.1L1052.9,116.8M1053.8,127.8L1054.4,116.9M1071.9,227.1L1073.7,232.6M1063.7,194.4L1068.7,208M1066,199.3L1070.6,214.4M1095.5,152.6L1101.9,153.5M1090.5,150.5L1094.9,151.4M1088.8,152.2L1093.2,150M1095.4,205.1L1103.3,211.4M1086.7,200.5L1096.6,209.2M1077.5,187.5L1084.2,194.9M1042.2,86.7L1042.8,71.5M1039.1,101.5L1037.4,87.3M1037.9,100.3L1033.6,94.1M1037.9,100.3L1034,87.2M1044.6,111.5L1041.7,93.2M1041.6,119.4L1037.8,101.3M1081.9,127.7L1086.6,121.4M1070,140.5L1072.6,136.3M1075.1,135.3L1082.9,126.6M996,105.5L993.2,98M1006.6,110L997.6,95M1003.6,203.2L992.7,213.7M1040.6,113.5L1040.1,103.8M1043.6,129.5L1040.5,113.3M1046.4,130.5L1046.5,124.3M1089.6,178.7L1095,182.8M1070.7,169.1L1078.4,170.8M1086.3,175.1L1092.8,180M1077,194.7L1083.5,204.9M1074.5,193L1079.6,202.3M1066.1,181.7L1073.8,194.1M1090.6,168.9L1098.3,167.7M1071,162.8L1078.6,161.4M1072.8,166.3L1078.7,168.3M1082.9,188.4L1088.4,190.1M1075.9,187.3L1084.7,195M1065.1,177.8L1072.7,185.8M1058.5,103.8L1062.1,88.2M1055.3,106L1054.2,97.3M1055.9,116.6L1056.2,103.8M1029.8,119.2L1026.9,113.2M1093.6,213.7L1096.6,219M1088.4,213.9L1091.7,220.3M1080.9,198.4L1085.2,202.7M1094.9,175.6L1102.8,180.4M1085.6,174.5L1092.9,178.6M1088.9,176.7L1094.2,180.7M1094.1,173L1104.8,174.1M1078.9,168.8L1086.5,172.4M1085.3,174.7L1090.5,176.5M1091.7,182.9L1098.9,184.1M1067.2,174L1074.3,179.1M1083.6,179L1088,181.2M1096.2,153.3L1107.9,149.9M1083.9,157L1094.4,155.6M1086.9,159L1096.1,157.5M1041.7,235.3L1040.3,249M1045.7,217.7L1042.4,233.2M1047,218.2L1048.7,228.8M1001.2,109.6L989.7,95.6M1000.3,114.4L997.7,108.2M1073.2,158L1078.8,155.4M1089.5,153.1L1095.4,154M1072.2,157.8L1079,154.6M1040.3,204.4L1037,214M1034.7,216.3L1031.3,224.5M1036.7,230.1L1036.2,236.9M1054.5,191.9L1055.1,204.6M1059.1,211.7L1059.1,217.9M1057.6,222.4L1059.2,241.3M1057.8,224.9L1059.8,237.2M1054.6,213L1056.7,227.5M1055.6,198.2L1056,207.1M1026.1,120.7L1021.5,112.8M1024.7,122.8L1019.1,116.9M1021.3,111.3L1012.6,99.7M1024.3,112.7L1018.7,107.7M1041.2,118.9L1037.3,110.6M1041.9,128.7L1040.2,116.6M1048.4,148.9L1045.4,135.8M1047.5,225.8L1049.4,235.8M1050.1,188.2L1050.6,199.9M1050,199.7L1049.6,207.5M1048.7,92.6L1047,76.8M1055,97.6L1054.9,85.1M1055.1,84.8L1055.2,78.1M1065.6,132.5L1071.4,119.5M1065.8,130L1067.5,123.2M1059.5,143.5L1064.5,132.4M1033.3,115.3L1030.7,105.9M1039,122.6L1035.6,115.8M1067,97.4L1068.2,84.2M1062.8,120.6L1064.1,115.1M1065.9,103.4L1069,94.3M1051,100.6L1051.4,83.1M1051.8,108.4L1049,94.6M1054.1,112.2L1054.7,98.7M1091.2,125.6L1100.3,114.6M1092.5,134.9L1097.8,130M1082.2,144.8L1086.1,140.9M1063.5,205.4L1066.9,220.5M1058.2,186.1L1060.7,197.3M1060.8,193.4L1063.7,200.1M1027.1,104.9L1018.7,92.1M1037.9,124L1036.5,116.1M1006,205.7L998.6,214.8M1015.2,207.3L1005.7,221.1M1020.1,223.8L1016.3,233.5M1016.3,222.8L1010.3,229.8M1013.4,217.9L1005.9,225.4M1055.5,221.9L1057,236.9M1063.4,231L1065.2,238.9M1057.6,208.7L1060.2,220.3M997.8,205.1L993.6,210.3M1104.3,184.9L1109.2,183.7M1097.3,177.1L1108.7,181.7M1081.9,174.8L1086.4,176M1076.5,192.8L1082.3,198.5M1064.9,177.7L1068.6,182M1064.4,176L1068.6,179.3M1016.6,121.2L1006.7,105.7M1010.9,119.8L1004.6,110.3M1039.4,219.6L1035.6,235.7M1038.1,202.8L1034.9,209.9M1034.2,208.2L1027.9,225M1064.2,150.5L1073.2,141.3M1071.9,147.6L1082,141.4M1079.4,133.9L1085.3,127.8M1018.9,216.9L1010.1,226M1028.1,207.2L1021.9,214.2M1104.2,153.9L1112.2,151.8M1085.9,155.9L1096.1,156.3M1086.6,155.7L1098.2,150.5M1054.4,237.3L1056.5,245.8M1054.4,208.7L1054.4,227.5M1053.3,203.9L1054,219.5M1072,215.8L1075.9,223.4M1069.4,205.2L1071.7,212.9M1064.7,199.7L1068.6,211M992.5,124.6L987.2,119.8M1082.7,154.7L1088.3,154.8M1088.2,156L1099.6,151.5M1079.3,155L1090.3,153.1M1076.1,139.7L1082.6,132.7M1083,131.2L1092.5,119.7M1094,123.3L1098.2,115.5M994.3,215.4L985.4,222.6M1057.9,223.9L1060.3,238.4M1055.3,209.5L1055.1,222.9M1056.3,206.1L1058.4,220.2M1066.7,107.4L1067.6,99.8M1065.3,120.4L1070.8,105.4M1064.7,115.6L1066.1,108.7M1024.2,219.6L1019.1,228.5M1030.6,211.1L1025.8,221.1M1044.3,180.7L1037.9,198.5M1020.8,212.9L1015.3,221.6M1028.2,210.1L1022.3,223.2M1031.6,206.4L1024.8,222.2M1050.5,211.2L1049.3,221.6M1052.5,218.5L1054,236.3M1052.5,218.5L1052.3,230.4M1078.6,110.2L1087,97.4M1067.8,133.6L1073.6,122.3M1071.2,121.2L1074.1,112.4M1051.4,203.1L1050.1,219M1052.2,195L1052.4,213.4M1052,203.9L1050.4,211.1M1055,199.3L1055.8,208M1057.3,200.9L1059.8,210.8M1054.6,191.9L1055.2,200.6M1065.1,234.1L1066.5,241.8M1062,221L1063,236.2M1063.8,233.4L1065.9,240.2M1004.8,100.5L1000.5,96.3M1011.2,108.8L1008.5,103.3M1013.6,105.4L1011.7,98.4M1034.1,108.3L1033.1,96.5M1040.6,126.4L1037.5,111M1035.2,95.4L1031,87.1M1082,130.9L1088.5,121.2M1086,136.5L1093.7,131.6M1070.9,147.2L1077.2,143.8M1031.1,126L1025.1,118.3M1026.9,115L1025.4,108.5M1060.9,199L1065.5,215.3M1056.6,189.7L1058.9,208.1M1057.5,194.1L1059.9,201.8M1028.6,97.2L1024.2,82.2M1028.9,102.5L1027,94.9M1029,101.4L1028.5,94.5M1010.7,202.8L1004.2,207.8M1003.5,200.8L1000.4,206.5M1075,176.5L1080.6,180M1091.1,187.2L1095.1,188.4M1081.3,179.2L1088.5,181.2M1012.5,94.6L1007.5,85.4M1029.3,107.6L1025.6,95.8M1028.7,117.5L1020,102.4M1048,132.9L1046.4,126M1050.1,118L1049.6,109.7M1048.1,98.9L1050,92.6M1075.9,175.7L1087.4,181.3M1079.6,181.4L1087.1,186.9M1074.6,179.6L1080.6,181.9M1064.2,193.5L1067.8,205.5M1068.2,200.5L1073.9,214.2M1068.3,199.8L1070.8,205.4M1067,152.9L1077,147.8M1069.4,154.3L1074.5,151.9M1070.3,152.4L1077.8,146.3M1069.5,174.7L1075.2,178.1M1083.4,182.4L1091.7,185.1M1084.2,190.2L1090.8,195.4M1053.6,210.8L1053,219.2M1052.5,241.4L1053.1,249.3M1057.1,234.3L1056.4,250.9M1078.6,204L1085.9,219.1M1076.3,204.2L1078.6,209.9M1075.9,196.1L1081.8,203.4M1017.4,235.3L1010.5,243.8M1023.6,231.8L1017.5,238.1M1037.3,203.1L1033.3,217.9M1066.4,137.9L1069,132.7M1073,119.4L1075.9,113.2M1069.1,124.2L1071.6,116M1085.3,128.3L1092.6,122.6M1083.8,132.8L1092.3,126M1078.2,136.4L1086.8,128.3M1073.4,172.2L1085.2,176.6M1096.1,184.1L1105.7,190.5M1074.5,172.8L1082.8,178M1032.4,113.7L1027.5,107.8M1025.6,112.1L1017,99.2M1085,153.7L1096.5,149.7M1082.6,153.2L1087.2,152.5M1088.3,152.6L1094,150.5M1091.6,110.1L1095.9,103M1076.8,123L1082.5,117.5M1078.9,122.9L1081.7,117M1086.7,132.2L1093.3,127M1067.8,148.6L1077.8,138.3M1076.1,139.5L1085.1,129.3M1036.7,84.7L1037.4,75.5M1045,99.8L1045.1,83.7M1049.3,110.5L1050.9,104.4M1066.8,219.4L1069.7,231.9M1064.5,208.6L1066.4,220.8M1062.7,200.5L1065.7,213.2M1051.5,114.3L1053.7,107.9M1052.8,133.8L1052.5,126.6M1051.7,137.3L1050,124.2M1066.2,82.8L1065.5,76.6M1055.9,135.8L1059.5,118.4M1057.4,111.6L1058.6,93.6M1073.4,210.2L1079.9,222.7M1062.2,187.3L1067.1,197.3M1064.8,189.2L1068.6,196.9M1101,165.2L1108.7,165.8M1080.9,166.1L1088.9,164.7M1083.1,169.4L1089.7,170.2M1073.9,101.1L1079.7,88.4M1070.8,111.7L1075.2,101.9M1074.8,101.7L1078.3,88.7M1038.6,234.4L1032.8,252.2M1043,204L1039.8,213.9M1037.9,215.4L1037,225.7M1055,226.6L1054,234.6M1054.7,200.8L1055.9,215.8M1054,187.7L1055.9,202.1M992.7,206.7L980.6,213.2M1028.2,233.8L1025.6,248.1M1030.2,212.7L1025.6,230M1035,213.4L1032.3,226.1M1073.4,226.7L1079.1,240.4M1072.5,220.5L1077,228.4M1067.4,198.9L1071.3,206.9M1054.5,112.5L1054.6,104.2M1052.2,129.4L1053.2,112.7M1053.7,125.7L1054.5,112.9M1044.5,104.1L1041.6,95.4M1050.1,141.4L1049.4,127.1M1048.6,121.2L1047.4,103.7M1093.7,129.9L1101.8,125.6M1085.9,138.4L1090.5,137.3M1083.4,135.8L1091,126.4M1069,216.2L1071.9,227.2M1064,199L1065.8,204M1060.4,194L1065,207.2M1066.2,229.2L1067.2,240.2M1061.7,193.4L1062.9,199.8M1068.3,219.5L1072.7,236.7M1079.5,221L1086,230.2M1074.1,209.4L1075.5,214.9M1066.2,194.3L1070.9,203.6M1057.2,203.7L1058.2,220.8M1055.7,194.4L1057.7,210M1056.1,194.5L1058.2,203.8M1062.1,89.9L1063.6,81.7M1058.2,110.1L1060.5,94.8M1054.4,133.3L1055.2,115.6M1098.8,172.5L1108.5,174.5M1084.4,170.7L1091.8,174.2M1077.3,168.9L1083.2,171.7M1086.9,189.4L1093.3,191.5M1080.5,177L1087.3,180.2M1071.2,171.3L1075.5,174.2M1088.6,128.1L1096.5,123.4M1072.8,144.2L1078.6,138.4M1072.6,147L1080.5,142.5M1087.2,210L1092.6,217.5M1075.2,192.1L1081.4,201.1M1068.9,187.5L1073.5,193.6M1015.9,237.1L1012.4,242.4M1027.9,212.5L1022.5,222.3M1028.5,207.9L1019,220.2M1010,220.1L1000.1,235.9M1015.1,227.4L1013,235.9M1029.1,199.2L1025.5,204M1076,224.8L1080.8,233.6M1062.8,189.5L1067.4,197.9M1070.2,208.8L1073.3,212.7M1098.3,134.2L1103.4,130M1083.5,143.7L1088.3,142.2M1088.1,142.6L1092,140.3M1083.8,222L1086.2,228.9M1073.7,200L1076.2,204.5M1063.4,183.1L1070.4,197.1M1057.3,98.5L1057,86.1M1056.4,114.3L1057.8,102.1M1055.9,104.8L1058.7,92M1067.7,113.4L1073.7,99.5M1061.2,135L1067.5,119.5M1067.9,117.9L1071.7,102.5M1088.3,122.7L1096.5,111M1071.6,144.9L1079.2,139.8M1071.4,141.3L1080.5,132.4M1063,99.5L1064.1,81.7M1063.1,101.9L1064.7,85M1057.4,107.8L1058.5,100.8M1073,106.9L1074.2,98.5M1062.4,139L1065.8,131.1M1068.1,129.9L1071.5,125.6M1047.9,232.1L1045.4,241M1046.3,214.1L1042.7,225.4M1043.4,219L1042.7,232.7M1068.1,118.6L1070.5,114.1M1062.3,132.2L1065.1,122.7M1062,131L1064.2,126M1086.4,125.7L1091.6,117.2M1084.8,132.7L1092,127.1M1069.3,147.5L1074.5,141.2M1080,217.3L1084.9,230M1069.4,192.8L1073.7,202.4M1072.9,199.5L1081.1,210.8M1044.8,205.5L1040.8,216.8M1050,185L1049.4,201.9M1049.4,186.4L1048,195.9M1075.6,232.4L1077.3,244.2M1071.8,210.7L1076.7,225.1M1064.9,198.2L1066.7,204.9M1001.5,203.5L993.5,212.6M1013.4,200.5L1001.8,215.2M1085.1,203.4L1091.7,215.4M1081.1,196.1L1086.4,199.6M1084,204.7L1090.1,209.2M1092.1,120.4L1098.9,116.9M1086.1,116.2L1089.3,110.6M1085.3,128.6L1088.1,123.2M1012.4,96.5L1006.4,90.6M1014.4,102.2L1007.6,94.2M1079.6,212.3L1081.7,218.1M1076.6,200.1L1080.1,203.9M1074.9,197.7L1083.5,210.3M1055.3,94.1L1057.3,77M1052.7,98.5L1053.7,92.8M1051.9,127.4L1051,117.4M1021.1,210.1L1012.5,219.5M1030.3,204.2L1024.5,211.3M1057.7,221.9L1057.6,234.9M1056.6,214.3L1056.1,222.6M1056.3,217.5L1056.3,231.4M1053.9,91L1054.6,78.7M1052.9,107.5L1052.4,99.7M1054.8,120.7L1056,109" stroke="#8ab9d4" stroke-width="0.9" fill="none" opacity="0.5"/></g></g>

<g id="nozzle">
<clipPath id="bodyclip"><path d="M-4,136.1 0,134.3 4,132.7 8,131.1 12,129.6 16,128.2 20,126.9 24,125.6 28,124.4 32,123.3 36,122.2 40,121.2 44,120.2 48,119.4 52,118.6 56,117.9 60,117.3 64,116.7 68,116.2 72,115.8 76,115.5 80,115.2 84,115 88,114.9 92,114.9 96,114.8 100,114.8 205,114.8 211,114.8 215,114.4 220,113.6 225,112.7 230,111.6 235,110.5 240,109.2 245,107.9 250,106.3 255,104.5 260,102.8 265,101.1 270,99.7 275,98.5 280,97.3 285,96.2 290,95.3 295,94.4 300,93.7 305,93 310,92.4 315,92.1 320,92 325,91.9 330,91.8 335,91.8 340,91.8 343,92 346,92.4 349,92.9 350,93 356,93.9 362,95 368,96.2 374,97.6 380,99.2 386,101.2 392,103.4 398,105.5 404,107.3 410,109 416,110.6 422,112 428,113.3 434,114.4 440,115.4 446,116.3 452,116.9 458,117.4 464,117.8 470,118 520,118 L574,118 Q581.3,118.5 581.8,126 L581.8,196 Q581.3,203.3 574,203.8 L520,204 L470,204.9 L464,205.3 L458,205.6 L452,206.1 L446,206.7 L440,207.7 L434,208.9 L428,210.3 L422,211.8 L416,213.6 L410,215.6 L404,217.9 L398,220.5 L392,222.9 L386,224.8 L380,226.4 L374,227.9 L368,229.3 L362,230.7 L356,232 L350,233.1 L349,233.2 L346,233.6 L343,233.9 L340,234.2 L335,234.6 L330,234.9 L325,234.9 L320,234.7 L315,234.4 L310,234 L305,233.6 L300,233.1 L295,232.5 L290,231.6 L285,230.6 L280,229.5 L275,228.4 L270,227.3 L265,226.1 L260,224.8 L255,223.4 L250,221.9 L245,220.5 L240,219 L235,217.7 L230,216.5 L225,215.2 L220,213.9 L215,213 L211,212.5 L205,212.2 L100,212.4 L96,212.5 L92,212.5 L88,212.8 L84,213.8 L80,215 L76,216.2 L72,217.6 L68,219.1 L64,220.6 L60,222.2 L56,223.9 L52,225.6 L48,227.4 L44,229.3 L40,231.3 L36,233.6 L32,236.1 L28,238.6 L24,241.1 L20,243.5 L16,245.8 L12,248.1 L8,250.4 L4,252.8 L0,255.3 L-4,257.9Z"/></clipPath>
<path d="M-4,136.1 0,134.3 4,132.7 8,131.1 12,129.6 16,128.2 20,126.9 24,125.6 28,124.4 32,123.3 36,122.2 40,121.2 44,120.2 48,119.4 52,118.6 56,117.9 60,117.3 64,116.7 68,116.2 72,115.8 76,115.5 80,115.2 84,115 88,114.9 92,114.9 96,114.8 100,114.8 205,114.8 211,114.8 215,114.4 220,113.6 225,112.7 230,111.6 235,110.5 240,109.2 245,107.9 250,106.3 255,104.5 260,102.8 265,101.1 270,99.7 275,98.5 280,97.3 285,96.2 290,95.3 295,94.4 300,93.7 305,93 310,92.4 315,92.1 320,92 325,91.9 330,91.8 335,91.8 340,91.8 343,92 346,92.4 349,92.9 350,93 356,93.9 362,95 368,96.2 374,97.6 380,99.2 386,101.2 392,103.4 398,105.5 404,107.3 410,109 416,110.6 422,112 428,113.3 434,114.4 440,115.4 446,116.3 452,116.9 458,117.4 464,117.8 470,118 520,118 L574,118 Q581.3,118.5 581.8,126 L581.8,196 Q581.3,203.3 574,203.8 L520,204 L470,204.9 L464,205.3 L458,205.6 L452,206.1 L446,206.7 L440,207.7 L434,208.9 L428,210.3 L422,211.8 L416,213.6 L410,215.6 L404,217.9 L398,220.5 L392,222.9 L386,224.8 L380,226.4 L374,227.9 L368,229.3 L362,230.7 L356,232 L350,233.1 L349,233.2 L346,233.6 L343,233.9 L340,234.2 L335,234.6 L330,234.9 L325,234.9 L320,234.7 L315,234.4 L310,234 L305,233.6 L300,233.1 L295,232.5 L290,231.6 L285,230.6 L280,229.5 L275,228.4 L270,227.3 L265,226.1 L260,224.8 L255,223.4 L250,221.9 L245,220.5 L240,219 L235,217.7 L230,216.5 L225,215.2 L220,213.9 L215,213 L211,212.5 L205,212.2 L100,212.4 L96,212.5 L92,212.5 L88,212.8 L84,213.8 L80,215 L76,216.2 L72,217.6 L68,219.1 L64,220.6 L60,222.2 L56,223.9 L52,225.6 L48,227.4 L44,229.3 L40,231.3 L36,233.6 L32,236.1 L28,238.6 L24,241.1 L20,243.5 L16,245.8 L12,248.1 L8,250.4 L4,252.8 L0,255.3 L-4,257.9Z" fill="#e4e4e4" stroke="#a4a4b0" stroke-width="0.7" stroke-dasharray="3 2"/>
<g clip-path="url(#bodyclip)">
<g filter="url(#bl)">
<path d="M205,114.8 211,114.8 215,114.4 220,113.6 225,112.7 230,111.6 235,110.5 240,109.2 245,107.9 250,106.3 255,104.5 260,102.8 265,101.1 270,99.7 275,98.5 280,97.3 285,96.2 290,95.3 295,94.4 300,93.7 305,93 310,92.4 315,92.1 320,92 325,91.9 330,91.8 335,91.8 340,91.8 343,92 343,95.9 340,95.8 335,95.8 330,95.8 325,95.9 320,95.9 315,95.9 310,96.2 305,96.7 300,97.4 295,98 290,98.8 285,99.7 280,100.7 275,101.8 270,103 265,104.4 260,106 255,107.8 250,109.5 245,111.1 240,112.5 235,113.7 230,114.8 225,115.9 220,116.8 215,117.6 211,118 205,118Z" fill="#f4f4f4"/>
<path d="M205,116.8 211,116.8 215,116.4 220,115.6 225,114.7 230,113.6 235,112.5 240,111.3 245,109.9 250,108.3 255,106.5 260,104.8 265,103.2 270,101.8 275,100.6 280,99.4 285,98.4 290,97.5 295,96.7 300,96 305,95.3 310,94.8 315,94.5 320,94.4 325,94.4 330,94.3 335,94.3 340,94.3 343,94.5 343,98.4 340,98.3 335,98.3 330,98.3 325,98.3 320,98.3 315,98.3 310,98.6 305,99 300,99.6 295,100.2 290,101 285,101.8 280,102.8 275,103.9 270,105.1 265,106.4 260,108 255,109.8 250,111.5 245,113.1 240,114.5 235,115.7 230,116.8 225,117.9 220,118.8 215,119.6 211,120 205,120Z" fill="#f6f6f6"/>
<path d="M205,118.8 211,118.8 215,118.4 220,117.6 225,116.7 230,115.6 235,114.5 240,113.3 245,111.9 250,110.3 255,108.6 260,106.8 265,105.2 270,103.9 275,102.7 280,101.6 285,100.5 290,99.6 295,98.9 300,98.3 305,97.7 310,97.2 315,96.9 320,96.8 325,96.8 330,96.8 335,96.8 340,96.8 343,96.9 343,100.9 340,100.8 335,100.8 330,100.8 325,100.8 320,100.8 315,100.7 310,100.9 305,101.4 300,101.9 295,102.5 290,103.1 285,104 280,104.9 275,106 270,107.2 265,108.5 260,110.1 255,111.8 250,113.5 245,115.1 240,116.5 235,117.7 230,118.8 225,119.9 220,120.8 215,121.6 211,122 205,122Z" fill="#e8e8e8"/>
<path d="M205,120.8 211,120.8 215,120.4 220,119.6 225,118.7 230,117.6 235,116.5 240,115.3 245,113.9 250,112.3 255,110.6 260,108.9 265,107.3 270,105.9 275,104.8 280,103.7 285,102.7 290,101.8 295,101.1 300,100.5 305,100 310,99.5 315,99.3 320,99.3 325,99.3 330,99.3 335,99.3 340,99.3 343,99.4 343,103.4 340,103.3 335,103.3 330,103.3 325,103.3 320,103.2 315,103.1 310,103.3 305,103.7 300,104.2 295,104.7 290,105.3 285,106.1 280,107 275,108.1 270,109.2 265,110.5 260,112.1 255,113.8 250,115.5 245,117.1 240,118.5 235,119.7 230,120.8 225,121.9 220,122.8 215,123.6 211,124 205,124Z" fill="#dbdbdb"/>
<path d="M205,122.8 211,122.8 215,122.4 220,121.6 225,120.7 230,119.6 235,118.5 240,117.3 245,115.9 250,114.3 255,112.6 260,110.9 265,109.3 270,108 275,106.8 280,105.8 285,104.8 290,104 295,103.4 300,102.8 305,102.3 310,101.9 315,101.7 320,101.7 325,101.8 330,101.8 335,101.8 340,101.8 343,101.9 343,104.4 340,104.3 335,104.3 330,104.3 325,104.3 320,104.2 315,104.1 310,104.3 305,104.6 300,105.1 295,105.6 290,106.2 285,107 280,107.9 275,108.9 270,110.1 265,111.3 260,112.9 255,114.6 250,116.3 245,117.9 240,119.3 235,120.5 230,121.6 225,122.7 220,123.6 215,124.4 211,124.8 205,124.8Z" fill="#cdcece"/>
<path d="M205,124.8 211,124.8 215,124.4 220,123.6 225,122.7 230,121.6 235,120.5 240,119.3 245,117.9 250,116.3 255,114.6 260,112.9 265,111.3 270,110.1 275,108.9 280,107.9 285,107 290,106.2 295,105.6 300,105.1 305,104.6 310,104.3 315,104.1 320,104.2 325,104.3 330,104.3 335,104.3 340,104.3 343,104.4 343,116.5 340,116.4 335,116.5 330,116.5 325,116.4 320,116.4 315,116.4 310,116.4 305,116.6 300,116.8 295,117.1 290,117.3 285,117.7 280,118.1 275,118.6 270,119.1 265,119.7 260,120.5 255,121.3 250,122.1 245,122.8 240,123.4 235,124 230,124.6 225,125 220,125.5 215,125.8 211,126 205,126Z" fill="#abb0b0"/>
<path d="M205,125.6 211,125.6 215,125.3 220,124.8 225,124.2 230,123.5 235,122.7 240,121.9 245,121 250,119.9 255,118.8 260,117.6 265,116.6 270,115.7 275,115 280,114.3 285,113.7 290,113.2 295,112.8 300,112.4 305,112.1 310,111.9 315,111.8 320,111.8 325,111.9 330,111.9 335,111.9 340,111.9 343,112 343,124.1 340,124.1 335,124.1 330,124.1 325,124.1 320,124 315,124 310,124.1 305,124.1 300,124.2 295,124.2 290,124.3 285,124.4 280,124.5 275,124.7 270,124.8 265,125 260,125.2 255,125.4 250,125.7 245,125.9 240,126.1 235,126.2 230,126.4 225,126.5 220,126.6 215,126.7 211,126.8 205,126.8Z" fill="#b2b6b6"/>
<path d="M205,126.3 211,126.3 215,126.2 220,125.9 225,125.6 230,125.3 235,124.9 240,124.5 245,124 250,123.5 255,122.9 260,122.4 265,121.8 270,121.4 275,121 280,120.7 285,120.4 290,120.1 295,119.9 300,119.8 305,119.6 310,119.5 315,119.4 320,119.5 325,119.5 330,119.5 335,119.5 340,119.5 343,119.5 343,127.1 340,127.1 335,127.1 330,127.1 325,127.1 320,127.1 315,127.1 310,127.1 305,127.1 300,127.1 295,127.1 290,127.1 285,127.1 280,127.1 275,127.1 270,127.1 265,127.1 260,127.1 255,127.1 250,127.1 245,127.1 240,127.1 235,127.1 230,127.1 225,127.1 220,127.1 215,127.1 211,127.1 205,127.1Z" fill="#a9adad"/>
<path d="M205,127.1 211,127.1 215,127.1 220,127.1 225,127.1 230,127.1 235,127.1 240,127.1 245,127.1 250,127.1 255,127.1 260,127.1 265,127.1 270,127.1 275,127.1 280,127.1 285,127.1 290,127.1 295,127.1 300,127.1 305,127.1 310,127.1 315,127.1 320,127.1 325,127.1 330,127.1 335,127.1 340,127.1 343,127.1 343,131.4 340,131.4 335,131.4 330,131.4 325,131.4 320,131.4 315,131.4 310,131.4 305,131.4 300,131.4 295,131.4 290,131.4 285,131.4 280,131.4 275,131.4 270,131.4 265,131.4 260,131.4 255,131.4 250,131.4 245,131.4 240,131.4 235,131.4 230,131.4 225,131.4 220,131.4 215,131.4 211,131.4 205,131.4Z" fill="#989999"/>
<path d="M205,129.8 211,129.8 215,129.8 220,129.8 225,129.8 230,129.8 235,129.8 240,129.8 245,129.8 250,129.8 255,129.8 260,129.8 265,129.8 270,129.8 275,129.8 280,129.8 285,129.8 290,129.8 295,129.8 300,129.8 305,129.8 310,129.8 315,129.8 320,129.8 325,129.8 330,129.8 335,129.8 340,129.8 343,129.8 343,134.1 340,134.1 335,134.1 330,134.1 325,134.1 320,134.1 315,134.1 310,134.1 305,134.1 300,134.1 295,134.1 290,134.1 285,134.1 280,134.1 275,134.1 270,134.1 265,134.1 260,134.1 255,134.1 250,134.1 245,134.1 240,134.1 235,134.1 230,134.1 225,134.1 220,134.1 215,134.1 211,134.1 205,134.1Z" fill="#b0b0b0"/>
<path d="M205,132.5 211,132.5 215,132.5 220,132.5 225,132.5 230,132.5 235,132.5 240,132.5 245,132.5 250,132.5 255,132.5 260,132.5 265,132.5 270,132.5 275,132.5 280,132.5 285,132.5 290,132.5 295,132.5 300,132.5 305,132.5 310,132.5 315,132.5 320,132.5 325,132.5 330,132.5 335,132.5 340,132.5 343,132.5 343,136.8 340,136.8 335,136.8 330,136.8 325,136.8 320,136.8 315,136.8 310,136.8 305,136.8 300,136.8 295,136.8 290,136.8 285,136.8 280,136.8 275,136.8 270,136.8 265,136.8 260,136.8 255,136.8 250,136.8 245,136.8 240,136.8 235,136.8 230,136.8 225,136.8 220,136.8 215,136.8 211,136.8 205,136.8Z" fill="#cacaca"/>
<path d="M205,135.2 211,135.2 215,135.2 220,135.2 225,135.2 230,135.2 235,135.2 240,135.2 245,135.2 250,135.2 255,135.2 260,135.2 265,135.2 270,135.2 275,135.2 280,135.2 285,135.2 290,135.2 295,135.2 300,135.2 305,135.2 310,135.2 315,135.2 320,135.2 325,135.2 330,135.2 335,135.2 340,135.2 343,135.2 343,139.5 340,139.5 335,139.5 330,139.5 325,139.5 320,139.5 315,139.5 310,139.5 305,139.5 300,139.5 295,139.5 290,139.5 285,139.5 280,139.5 275,139.5 270,139.5 265,139.5 260,139.5 255,139.5 250,139.5 245,139.5 240,139.5 235,139.5 230,139.5 225,139.5 220,139.5 215,139.5 211,139.5 205,139.5Z" fill="#e5e5e5"/>
<path d="M205,137.9 211,137.9 215,137.9 220,137.9 225,137.9 230,137.9 235,137.9 240,137.9 245,137.9 250,137.9 255,137.9 260,137.9 265,137.9 270,137.9 275,137.9 280,137.9 285,137.9 290,137.9 295,137.9 300,137.9 305,137.9 310,137.9 315,137.9 320,137.9 325,137.9 330,137.9 335,137.9 340,137.9 343,137.9 343,140.6 340,140.6 335,140.6 330,140.6 325,140.6 320,140.6 315,140.6 310,140.6 305,140.6 300,140.6 295,140.6 290,140.6 285,140.6 280,140.6 275,140.6 270,140.6 265,140.6 260,140.6 255,140.6 250,140.6 245,140.6 240,140.6 235,140.6 230,140.6 225,140.6 220,140.6 215,140.6 211,140.6 205,140.6Z" fill="#f7f7f7"/>
<path d="M205,186.8 211,186.8 215,186.8 220,186.8 225,186.8 230,186.8 235,186.8 240,186.8 245,186.8 250,186.8 255,186.8 260,186.8 265,186.8 270,186.8 275,186.8 280,186.8 285,186.8 290,186.8 295,186.8 300,186.8 305,186.8 310,186.8 315,186.8 320,186.8 325,186.8 330,186.8 335,186.8 340,186.8 343,186.8 343,190.6 340,190.6 335,190.6 330,190.6 325,190.6 320,190.6 315,190.6 310,190.6 305,190.6 300,190.6 295,190.6 290,190.6 285,190.6 280,190.6 275,190.6 270,190.6 265,190.6 260,190.6 255,190.6 250,190.6 245,190.6 240,190.6 235,190.6 230,190.6 225,190.6 220,190.6 215,190.6 211,190.6 205,190.6Z" fill="#e9e9e9"/>
<path d="M205,189.2 211,189.2 215,189.2 220,189.2 225,189.2 230,189.2 235,189.2 240,189.2 245,189.2 250,189.2 255,189.2 260,189.2 265,189.2 270,189.2 275,189.2 280,189.2 285,189.2 290,189.2 295,189.2 300,189.2 305,189.2 310,189.2 315,189.2 320,189.2 325,189.2 330,189.2 335,189.2 340,189.2 343,189.2 343,193 340,193 335,193 330,193 325,193 320,193 315,193 310,193 305,193 300,193 295,193 290,193 285,193 280,193 275,193 270,193 265,193 260,193 255,193 250,193 245,193 240,193 235,193 230,193 225,193 220,193 215,193 211,193 205,193Z" fill="#cecece"/>
<path d="M205,191.6 211,191.6 215,191.6 220,191.6 225,191.6 230,191.6 235,191.6 240,191.6 245,191.6 250,191.6 255,191.6 260,191.6 265,191.6 270,191.6 275,191.6 280,191.6 285,191.6 290,191.6 295,191.6 300,191.6 305,191.6 310,191.6 315,191.6 320,191.6 325,191.6 330,191.6 335,191.6 340,191.6 343,191.6 343,195.4 340,195.4 335,195.4 330,195.4 325,195.4 320,195.4 315,195.4 310,195.4 305,195.4 300,195.4 295,195.4 290,195.4 285,195.4 280,195.4 275,195.4 270,195.4 265,195.4 260,195.4 255,195.4 250,195.4 245,195.4 240,195.4 235,195.4 230,195.4 225,195.4 220,195.4 215,195.4 211,195.4 205,195.4Z" fill="#b0b0b0"/>
<path d="M205,194 211,194 215,194 220,194 225,194 230,194 235,194 240,194 245,194 250,194 255,194 260,194 265,194 270,194 275,194 280,194 285,194 290,194 295,194 300,194 305,194 310,194 315,194 320,194 325,194 330,194 335,194 340,194 343,194 343,197.8 340,197.8 335,197.8 330,197.8 325,197.8 320,197.8 315,197.8 310,197.8 305,197.8 300,197.8 295,197.8 290,197.8 285,197.8 280,197.8 275,197.8 270,197.8 265,197.8 260,197.8 255,197.8 250,197.8 245,197.8 240,197.8 235,197.8 230,197.8 225,197.8 220,197.8 215,197.8 211,197.8 205,197.8Z" fill="#969696"/>
<path d="M205,196.4 211,196.4 215,196.4 220,196.4 225,196.4 230,196.4 235,196.4 240,196.4 245,196.4 250,196.4 255,196.4 260,196.4 265,196.4 270,196.4 275,196.4 280,196.4 285,196.4 290,196.4 295,196.4 300,196.4 305,196.4 310,196.4 315,196.4 320,196.4 325,196.4 330,196.4 335,196.4 340,196.4 343,196.4 343,198.8 340,198.8 335,198.8 330,198.8 325,198.8 320,198.8 315,198.8 310,198.8 305,198.8 300,198.8 295,198.8 290,198.8 285,198.8 280,198.8 275,198.8 270,198.8 265,198.8 260,198.8 255,198.8 250,198.8 245,198.8 240,198.8 235,198.8 230,198.8 225,198.8 220,198.8 215,198.8 211,198.8 205,198.8Z" fill="#7b7b7b"/>
<path d="M205,198.8 211,198.8 215,198.8 220,198.8 225,198.8 230,198.8 235,198.8 240,198.8 245,198.8 250,198.8 255,198.8 260,198.8 265,198.8 270,198.8 275,198.8 280,198.8 285,198.8 290,198.8 295,198.8 300,198.8 305,198.8 310,198.8 315,198.8 320,198.8 325,198.8 330,198.8 335,198.8 340,198.8 343,198.8 343,210.5 340,210.7 335,211.1 330,211.3 325,211.3 320,211.1 315,210.9 310,210.6 305,210.2 300,209.9 295,209.3 290,208.7 285,207.9 280,207 275,206.1 270,205.2 265,204.2 260,203.2 255,202.1 250,200.9 245,199.7 240,198.8 235,198.8 230,198.8 225,198.8 220,198.8 215,198.8 211,198.8 205,198.8Z" fill="#8a8a8a"/>
<path d="M205,198.8 211,198.8 215,198.8 220,198.8 225,198.8 230,198.8 235,198.8 240,198.8 245,199.4 250,200.1 255,200.8 260,201.5 265,202.2 270,202.8 275,203.4 280,203.9 285,204.5 290,205 295,205.4 300,205.7 305,206 310,206.2 315,206.4 320,206.5 325,206.6 330,206.6 335,206.5 340,206.3 343,206.1 343,213.4 340,213.7 335,214.1 330,214.4 325,214.4 320,214.2 315,213.9 310,213.5 305,213.1 300,212.6 295,212 290,211.1 285,210.1 280,209 275,207.9 270,206.8 265,205.6 260,204.3 255,202.9 250,201.4 245,200 240,198.8 235,198.8 230,198.8 225,198.8 220,198.8 215,198.8 211,198.8 205,198.8Z" fill="#909090"/>
<path d="M205,198.8 211,198.8 215,198.8 220,198.8 225,198.8 230,198.8 235,198.8 240,198.8 245,200 250,201.4 255,202.9 260,204.3 265,205.6 270,206.8 275,207.9 280,209 285,210.1 290,211.1 295,212 300,212.6 305,213.1 310,213.5 315,213.9 320,214.2 325,214.4 330,214.4 335,214.1 340,213.7 343,213.4 343,221.4 340,221.7 335,222.1 330,222.4 325,222.4 320,222.2 315,221.9 310,221.5 305,221.1 300,220.6 295,220 290,219.1 285,218.1 280,217 275,215.9 270,214.8 265,213.6 260,212.3 255,210.9 250,209.4 245,208 240,206.7 235,206 230,205.3 225,204.6 220,203.9 215,203.4 211,203.2 205,203Z" fill="#6a6a6a"/>
<path d="M205,201.4 211,201.5 215,201.7 220,202 225,202.4 230,202.9 235,203.3 240,203.7 245,205 250,206.4 255,207.9 260,209.3 265,210.6 270,211.8 275,212.9 280,214 285,215.1 290,216.1 295,217 300,217.6 305,218.1 310,218.5 315,218.9 320,219.2 325,219.4 330,219.4 335,219.1 340,218.7 343,218.4 343,226.4 340,226.7 335,227.1 330,227.4 325,227.4 320,227.2 315,226.9 310,226.5 305,226.1 300,225.6 295,225 290,224.1 285,223.1 280,222 275,220.9 270,219.8 265,218.6 260,217.3 255,215.9 250,214.4 245,213 240,211.6 235,210.5 230,209.4 225,208.2 220,207.1 215,206.3 211,205.9 205,205.6Z" fill="#6e6e6e"/>
<path d="M205,204.1 211,204.3 215,204.6 220,205.2 225,206 230,206.9 235,207.8 240,208.6 245,210 250,211.4 255,212.9 260,214.3 265,215.6 270,216.8 275,217.9 280,219 285,220.1 290,221.1 295,222 300,222.6 305,223.1 310,223.5 315,223.9 320,224.2 325,224.4 330,224.4 335,224.1 340,223.7 343,223.4 343,228.4 340,228.7 335,229.1 330,229.4 325,229.4 320,229.2 315,228.9 310,228.5 305,228.1 300,227.6 295,227 290,226.1 285,225.1 280,224 275,222.9 270,221.8 265,220.6 260,219.3 255,217.9 250,216.4 245,215 240,213.5 235,212.2 230,211 225,209.7 220,208.4 215,207.5 211,207 205,206.7Z" fill="#757575"/>
<path d="M205,206.7 211,207 215,207.5 220,208.4 225,209.7 230,211 235,212.2 240,213.5 245,215 250,216.4 255,217.9 260,219.3 265,220.6 270,221.8 275,222.9 280,224 285,225.1 290,226.1 295,227 300,227.6 305,228.1 310,228.5 315,228.9 320,229.2 325,229.4 330,229.4 335,229.1 340,228.7 343,228.4 343,232.8 340,233.1 335,233.5 330,233.8 325,233.8 320,233.6 315,233.3 310,232.9 305,232.5 300,232 295,231.4 290,230.5 285,229.5 280,228.4 275,227.3 270,226.2 265,225 260,223.7 255,222.3 250,220.8 245,219.4 240,217.9 235,216.6 230,215.4 225,214.1 220,212.8 215,211.9 211,211.4 205,211.1Z" fill="#dbdbdb"/>
<path d="M205,209.4 211,209.8 215,210.2 220,211.2 225,212.4 230,213.7 235,215 240,216.3 245,217.7 250,219.2 255,220.6 260,222 265,223.3 270,224.5 275,225.7 280,226.8 285,227.9 290,228.9 295,229.7 300,230.4 305,230.9 310,231.3 315,231.7 320,231.9 325,232.1 330,232.1 335,231.9 340,231.5 343,231.2 343,233.9 340,234.2 335,234.6 330,234.9 325,234.9 320,234.7 315,234.4 310,234 305,233.6 300,233.1 295,232.5 290,231.6 285,230.6 280,229.5 275,228.4 270,227.3 265,226.1 260,224.8 255,223.4 250,221.9 245,220.5 240,219 235,217.7 230,216.5 225,215.2 220,213.9 215,213 211,212.5 205,212.2Z" fill="#e0e0e0"/>
<path d="M343,92 346,92.4 349,92.9 350,93 356,93.9 362,95 368,96.2 374,97.6 380,99.2 386,101.2 392,103.4 398,105.5 404,107.3 410,109 416,110.6 422,112 428,113.3 434,114.4 440,115.4 446,116.3 452,116.9 458,117.4 464,117.8 470,118 520,118 575,118 582,118 582,121.2 575,121.2 520,121.2 470,121.2 464,121 458,120.6 452,120.1 446,119.5 440,118.6 434,117.6 428,116.5 422,115.2 416,113.8 410,112.2 404,110.5 398,108.8 392,106.7 386,104.6 380,102.7 374,101.1 368,99.9 362,98.8 356,97.8 350,96.9 349,96.8 346,96.3 343,95.9Z" fill="#f4f4f4"/>
<path d="M343,94.5 346,94.8 349,95.3 350,95.4 356,96.3 362,97.3 368,98.5 374,99.8 380,101.4 386,103.3 392,105.5 398,107.5 404,109.3 410,111 416,112.6 422,114 428,115.3 434,116.4 440,117.4 446,118.3 452,118.9 458,119.4 464,119.8 470,120 520,120 575,120 582,120 582,123.2 575,123.2 520,123.2 470,123.2 464,123 458,122.6 452,122.1 446,121.5 440,120.6 434,119.6 428,118.5 422,117.3 416,115.8 410,114.2 404,112.6 398,110.8 392,108.8 386,106.8 380,104.9 374,103.4 368,102.2 362,101.1 356,100.2 350,99.4 349,99.2 346,98.8 343,98.4Z" fill="#f6f6f6"/>
<path d="M343,96.9 346,97.3 349,97.8 350,97.9 356,98.7 362,99.7 368,100.8 374,102 380,103.6 386,105.5 392,107.6 398,109.6 404,111.4 410,113 416,114.6 422,116.1 428,117.3 434,118.4 440,119.4 446,120.3 452,120.9 458,121.4 464,121.8 470,122 520,122 575,122 582,122 582,125.2 575,125.2 520,125.2 470,125.2 464,125 458,124.6 452,124.1 446,123.5 440,122.6 434,121.6 428,120.5 422,119.3 416,117.8 410,116.3 404,114.6 398,112.9 392,110.9 386,108.9 380,107.1 374,105.6 368,104.5 362,103.5 356,102.6 350,101.8 349,101.7 346,101.3 343,100.9Z" fill="#e8e8e8"/>
<path d="M343,99.4 346,99.8 349,100.2 350,100.3 356,101.1 362,102 368,103.1 374,104.3 380,105.7 386,107.6 392,109.7 398,111.7 404,113.4 410,115 416,116.6 422,118.1 428,119.3 434,120.4 440,121.4 446,122.3 452,122.9 458,123.4 464,123.8 470,124 520,124 575,124 582,124 582,127.2 575,127.2 520,127.2 470,127.2 464,127 458,126.6 452,126.1 446,125.5 440,124.6 434,123.6 428,122.5 422,121.3 416,119.8 410,118.3 404,116.7 398,115 392,113 386,111 380,109.2 374,107.8 368,106.7 362,105.8 356,105 350,104.3 349,104.1 346,103.7 343,103.4Z" fill="#dbdbdb"/>
<path d="M343,101.9 346,102.3 349,102.7 350,102.8 356,103.5 362,104.4 368,105.4 374,106.5 380,107.9 386,109.8 392,111.8 398,113.7 404,115.5 410,117.1 416,118.6 422,120.1 428,121.3 434,122.4 440,123.4 446,124.3 452,124.9 458,125.4 464,125.8 470,126 520,126 575,126 582,126 582,128 575,128 520,128 470,128 464,127.8 458,127.4 452,126.9 446,126.3 440,125.4 434,124.4 428,123.3 422,122.1 416,120.7 410,119.1 404,117.5 398,115.8 392,113.9 386,111.9 380,110.1 374,108.7 368,107.7 362,106.7 356,105.9 350,105.2 349,105.1 346,104.7 343,104.4Z" fill="#cdcece"/>
<path d="M343,104.4 346,104.7 349,105.1 350,105.2 356,105.9 362,106.7 368,107.7 374,108.7 380,110.1 386,111.9 392,113.9 398,115.8 404,117.5 410,119.1 416,120.7 422,122.1 428,123.3 434,124.4 440,125.4 446,126.3 452,126.9 458,127.4 464,127.8 470,128 520,128 575,128 582,128 582,130.1 575,130.3 520,132 470,133.5 464,133.6 458,133.5 452,133.5 446,133.4 440,133.2 434,132.9 428,132.5 422,132.1 416,131.6 410,131.1 404,130.5 398,129.9 392,129.2 386,128.4 380,127.8 374,127.3 368,127 362,126.8 356,126.6 350,126.4 349,126.4 346,123.2 343,120Z" fill="#a5a9a9"/>
<path d="M343,114.1 346,116.3 349,118.4 350,118.5 356,118.8 362,119.3 368,119.8 374,120.4 380,121.2 386,122.2 392,123.4 398,124.6 404,125.6 410,126.6 416,127.5 422,128.4 428,129.1 434,129.7 440,130.3 446,130.7 452,131 458,131.2 464,131.4 470,131.4 520,130.5 575,129.4 582,129.3 582,131.4 575,131.8 520,134.4 470,136.9 464,137.1 458,137.4 452,137.6 446,137.8 440,138 434,138.1 428,138.3 422,138.4 416,138.5 410,138.6 404,138.7 398,138.7 392,138.8 386,138.8 380,138.8 374,139 368,139.1 362,139.3 356,139.5 350,139.6 349,139.7 346,134.7 343,129.7Z" fill="#a8acac"/>
<path d="M343,123.9 346,127.8 349,131.7 350,131.7 356,131.7 362,131.8 368,131.8 374,132 380,132.2 386,132.6 392,133 398,133.4 404,133.8 410,134.1 416,134.4 422,134.6 428,134.8 434,135 440,135.1 446,135.1 452,135.1 458,135.1 464,135 470,134.8 520,132.9 575,130.9 582,130.6 582,131.9 575,132.3 520,135.4 470,138.2 464,138.6 458,138.9 452,139.2 446,139.6 440,139.9 434,140.2 428,140.6 422,140.9 416,141.2 410,141.6 404,141.9 398,142.3 392,142.6 386,142.9 380,143.3 374,143.6 368,143.9 362,144.3 356,144.6 350,144.9 349,145 346,139.3 343,133.6Z" fill="#9ea1a1"/>
<path d="M343,133.6 346,139.3 349,145 350,144.9 356,144.6 362,144.3 368,143.9 374,143.6 380,143.3 386,142.9 392,142.6 398,142.3 404,141.9 410,141.6 416,141.2 422,140.9 428,140.6 434,140.2 440,139.9 446,139.6 452,139.2 458,138.9 464,138.6 470,138.2 520,135.4 575,132.3 582,131.9 582,137.5 575,137.9 520,141 470,143.8 464,144.2 458,144.5 452,144.8 446,145.2 440,145.5 434,145.8 428,146.2 422,146.5 416,146.8 410,147.2 404,147.5 398,147.9 392,148.2 386,148.5 380,148.9 374,149.2 368,149.5 362,149.9 356,150.2 350,150.5 349,150.6 346,144.9 343,139.2Z" fill="#c6c9c9"/>
<path d="M343,137.1 346,142.8 349,148.5 350,148.4 356,148.1 362,147.8 368,147.4 374,147.1 380,146.8 386,146.4 392,146.1 398,145.8 404,145.4 410,145.1 416,144.7 422,144.4 428,144.1 434,143.7 440,143.4 446,143.1 452,142.7 458,142.4 464,142.1 470,141.7 520,138.9 575,135.8 582,135.4 582,138.9 575,139.3 520,142.4 470,145.2 464,145.6 458,145.9 452,146.2 446,146.6 440,146.9 434,147.2 428,147.6 422,147.9 416,148.2 410,148.6 404,148.9 398,149.3 392,149.6 386,149.9 380,150.3 374,150.6 368,150.9 362,151.3 356,151.6 350,151.9 349,152 346,146.3 343,140.6Z" fill="#d9dada"/>
<path d="M343,186.8 346,180.2 349,173.5 350,173.5 356,173.8 362,174.1 368,174.4 374,174.7 380,174.9 386,175.2 392,175.5 398,175.8 404,176.1 410,176.3 416,176.6 422,176.9 428,177.2 434,177.5 440,177.7 446,178 452,178.3 458,178.6 464,178.9 470,179.1 520,181.5 575,184 582,184.3 582,188.3 575,188 520,185.5 470,183.1 464,182.9 458,182.6 452,182.3 446,182 440,181.7 434,181.5 428,181.2 422,180.9 416,180.6 410,180.3 404,180.1 398,179.8 392,179.5 386,179.2 380,178.9 374,178.7 368,178.4 362,178.1 356,177.8 350,177.5 349,177.5 346,184.2 343,190.8Z" fill="#cecece"/>
<path d="M343,189.3 346,182.7 349,176 350,176 356,176.3 362,176.6 368,176.9 374,177.2 380,177.4 386,177.7 392,178 398,178.3 404,178.6 410,178.8 416,179.1 422,179.4 428,179.7 434,180 440,180.2 446,180.5 452,180.8 458,181.1 464,181.4 470,181.6 520,184 575,186.5 582,186.8 582,189.3 575,189 520,186.5 470,184.1 464,183.9 458,183.6 452,183.3 446,183 440,182.7 434,182.5 428,182.2 422,181.9 416,181.6 410,181.3 404,181.1 398,180.8 392,180.5 386,180.2 380,179.9 374,179.7 368,179.4 362,179.1 356,178.8 350,178.5 349,178.5 346,185.2 343,191.8Z" fill="#b1b1b1"/>
<path d="M343,191.8 346,185.2 349,178.5 350,178.5 356,178.8 362,179.1 368,179.4 374,179.7 380,179.9 386,180.2 392,180.5 398,180.8 404,181.1 410,181.3 416,181.6 422,181.9 428,182.2 434,182.5 440,182.7 446,183 452,183.3 458,183.6 464,183.9 470,184.1 520,186.5 575,189 582,189.3 582,190.5 575,190.4 520,190.1 470,190.4 464,190.6 458,190.8 452,191 446,191 440,191.3 434,191.8 428,192.5 422,193.3 416,194.3 410,195.4 404,196.8 398,198.4 392,199.9 386,201 380,201.8 374,202.6 368,203.2 362,203.9 356,204.5 350,204.9 349,204.9 346,206.4 343,207.9Z" fill="#8c8c8c"/>
<path d="M343,201.9 346,198.4 349,195 350,195 356,194.8 362,194.6 368,194.3 374,194 380,193.6 386,193.2 392,192.6 398,191.8 404,190.9 410,190.1 416,189.5 422,189 428,188.6 434,188.3 440,188.1 446,188 452,188.1 458,188.1 464,188.1 470,188 520,188.8 575,189.9 582,190.1 582,190.8 575,190.8 520,191 470,191.9 464,192.3 458,192.6 452,192.9 446,193 440,193.4 434,194.2 428,195.1 422,196.1 416,197.4 410,198.9 404,200.7 398,202.8 392,204.8 386,206.2 380,207.3 374,208.3 368,209.2 362,210.1 356,210.9 350,211.5 349,211.5 346,211.7 343,211.9Z" fill="#8e8e8e"/>
<path d="M343,211.9 346,211.7 349,211.5 350,211.5 356,210.9 362,210.1 368,209.2 374,208.3 380,207.3 386,206.2 392,204.8 398,202.8 404,200.7 410,198.9 416,197.4 422,196.1 428,195.1 434,194.2 440,193.4 446,193 452,192.9 458,192.6 464,192.3 470,191.9 520,191 575,190.8 582,190.8 582,195.9 575,195.9 520,196.1 470,197 464,197.3 458,197.7 452,198.1 446,198.5 440,199.2 434,200.2 428,201.3 422,202.7 416,204.2 410,205.9 404,208 398,210.4 392,212.6 386,214.2 380,215.7 374,216.9 368,218 362,219.2 356,220.3 350,221.1 349,221.2 346,221.5 343,221.8Z" fill="#626262"/>
<path d="M343,218.1 346,217.8 349,217.6 350,217.5 356,216.7 362,215.8 368,214.7 374,213.7 380,212.5 386,211.2 392,209.6 398,207.5 404,205.2 410,203.3 416,201.7 422,200.2 428,199 434,197.9 440,197 446,196.4 452,196.1 458,195.8 464,195.4 470,195.1 520,194.2 575,194 582,194 582,199 575,199 520,199.3 470,200.1 464,200.5 458,200.9 452,201.3 446,201.9 440,202.7 434,203.9 428,205.2 422,206.7 416,208.4 410,210.3 404,212.5 398,215.1 392,217.5 386,219.3 380,220.9 374,222.3 368,223.6 362,224.9 356,226.1 350,227.1 349,227.3 346,227.6 343,227.9Z" fill="#5a5a5a"/>
<path d="M343,224.2 346,224 349,223.6 350,223.5 356,222.6 362,221.5 368,220.2 374,219 380,217.7 386,216.3 392,214.5 398,212.3 404,209.8 410,207.7 416,205.9 422,204.3 428,202.9 434,201.7 440,200.6 446,199.8 452,199.4 458,199 464,198.6 470,198.2 520,197.4 575,197.1 582,197.1 582,200.3 575,200.3 520,200.5 470,201.4 464,201.8 458,202.1 452,202.6 446,203.2 440,204.2 434,205.4 428,206.8 422,208.3 416,210.1 410,212.1 404,214.4 398,217 392,219.4 386,221.3 380,222.9 374,224.4 368,225.8 362,227.2 356,228.5 350,229.6 349,229.7 346,230.1 343,230.4Z" fill="#656565"/>
<path d="M343,230.4 346,230.1 349,229.7 350,229.6 356,228.5 362,227.2 368,225.8 374,224.4 380,222.9 386,221.3 392,219.4 398,217 404,214.4 410,212.1 416,210.1 422,208.3 428,206.8 434,205.4 440,204.2 446,203.2 452,202.6 458,202.1 464,201.8 470,201.4 520,200.5 575,200.3 582,200.3 582,203.1 575,203.1 520,203.3 470,204.2 464,204.6 458,204.9 452,205.4 446,206 440,207 434,208.2 428,209.6 422,211.1 416,212.9 410,214.9 404,217.2 398,219.8 392,222.2 386,224.1 380,225.7 374,227.2 368,228.6 362,230 356,231.3 350,232.4 349,232.5 346,232.9 343,233.2Z" fill="#d4d4d4"/>
<path d="M343,232.2 346,231.8 349,231.5 350,231.3 356,230.2 362,228.9 368,227.5 374,226.2 380,224.7 386,223.1 392,221.2 398,218.7 404,216.1 410,213.8 416,211.9 422,210.1 428,208.6 434,207.2 440,205.9 446,205 452,204.4 458,203.9 464,203.5 470,203.2 520,202.3 575,202.1 582,202.1 582,203.8 575,203.8 520,204 470,204.9 464,205.3 458,205.6 452,206.1 446,206.7 440,207.7 434,208.9 428,210.3 422,211.8 416,213.6 410,215.6 404,217.9 398,220.5 392,222.9 386,224.8 380,226.4 374,227.9 368,229.3 362,230.7 356,232 350,233.1 349,233.2 346,233.6 343,233.9Z" fill="#dedede"/>
</g>
<g filter="url(#bl)" mask="url(#sfade)">
<path d="M-4,136.1 0,134.3 4,132.7 8,131.1 12,129.6 16,128.2 20,126.9 24,125.6 28,124.4 32,123.3 36,122.2 40,121.2 44,120.2 48,119.4 52,118.6 56,117.9 60,117.3 64,116.7 68,116.2 72,115.8 76,115.5 80,115.2 84,115 88,114.9 92,114.9 96,114.8 100,114.8 205,114.8 211,114.8 215,114.4 225,112.7 235,110.5 245,107.9 255,104.5 265,101.1 275,98.5 285,96.2 285,101.9 275,103.9 265,106.1 255,109.1 245,112 235,114.2 225,116.2 215,117.6 211,118 205,118 100,118 96,118 92,118 88,118.1 84,118.2 80,118.4 76,118.7 72,119.1 68,119.5 64,120 60,120.6 56,121.3 52,122 48,122.8 44,123.7 40,124.7 36,125.7 32,126.9 28,128 24,129.2 20,130.5 16,131.9 12,133.4 8,134.9 4,136.6 0,138.2 -4,140Z" fill="#f5f5f5"/>
<path d="M-4,138.6 0,136.8 4,135.1 8,133.5 12,132 16,130.5 20,129.2 24,127.9 28,126.7 32,125.5 36,124.4 40,123.4 44,122.4 48,121.5 52,120.8 56,120 60,119.3 64,118.7 68,118.2 72,117.8 76,117.5 80,117.2 84,117 88,116.9 92,116.8 96,116.8 100,116.8 205,116.8 211,116.8 215,116.4 225,114.9 235,112.8 245,110.5 255,107.4 265,104.3 275,101.9 285,99.8 285,105.4 275,107.2 265,109.3 255,111.9 245,114.6 235,116.6 225,118.3 215,119.6 211,120 205,120 100,120 96,120 92,120 88,120.1 84,120.2 80,120.4 76,120.7 72,121.1 68,121.5 64,122 60,122.7 56,123.4 52,124.1 48,125 44,125.9 40,126.9 36,127.9 32,129.1 28,130.3 24,131.5 20,132.9 16,134.3 12,135.8 8,137.3 4,139 0,140.7 -4,142.5Z" fill="#ededed"/>
<path d="M-4,141 0,139.2 4,137.5 8,135.9 12,134.4 16,132.9 20,131.5 24,130.2 28,128.9 32,127.7 36,126.6 40,125.6 44,124.6 48,123.7 52,122.9 56,122.1 60,121.4 64,120.8 68,120.3 72,119.9 76,119.5 80,119.2 84,119 88,118.9 92,118.8 96,118.8 100,118.8 205,118.8 211,118.8 215,118.4 225,117 235,115.2 245,113 255,110.2 265,107.4 275,105.2 285,103.3 285,109 275,110.6 265,112.4 255,114.8 245,117.1 235,118.9 225,120.5 215,121.7 211,122 205,122 100,122 96,122 92,122 88,122.1 84,122.2 80,122.4 76,122.7 72,123.1 68,123.5 64,124.1 60,124.7 56,125.5 52,126.3 48,127.1 44,128 40,129.1 36,130.2 32,131.3 28,132.5 24,133.8 20,135.2 16,136.6 12,138.1 8,139.8 4,141.4 0,143.2 -4,145Z" fill="#d3d3d3"/>
<path d="M-4,143.5 0,141.7 4,140 8,138.3 12,136.7 16,135.2 20,133.8 24,132.4 28,131.2 32,130 36,128.8 40,127.7 44,126.7 48,125.8 52,125 56,124.2 60,123.5 64,122.9 68,122.3 72,121.9 76,121.5 80,121.2 84,121 88,120.9 92,120.8 96,120.8 100,120.8 205,120.8 211,120.8 215,120.5 225,119.2 235,117.5 245,115.6 255,113.1 265,110.5 275,108.6 285,106.9 285,112.5 275,113.9 265,115.5 255,117.6 245,119.7 235,121.3 225,122.7 215,123.7 211,124 205,124 100,124 96,124 92,124 88,124.1 84,124.2 80,124.4 76,124.8 72,125.1 68,125.6 64,126.1 60,126.8 56,127.6 52,128.4 48,129.2 44,130.2 40,131.2 36,132.4 32,133.6 28,134.8 24,136.1 20,137.5 16,139 12,140.5 8,142.2 4,143.9 0,145.6 -4,147.5Z" fill="#b5b5b5"/>
<path d="M-4,146 0,144.1 4,142.4 8,140.7 12,139.1 16,137.5 20,136.1 24,134.7 28,133.4 32,132.2 36,131 40,129.9 44,128.9 48,128 52,127.1 56,126.3 60,125.6 64,124.9 68,124.4 72,123.9 76,123.5 80,123.2 84,123 88,122.9 92,122.8 96,122.8 100,122.8 205,122.8 211,122.8 215,122.5 225,121.4 235,119.9 245,118.2 255,115.9 265,113.6 275,111.9 285,110.4 285,116.1 275,117.3 265,118.7 255,120.5 245,122.3 235,123.6 225,124.8 215,125.7 211,126 205,126 100,126 96,126 92,126 88,126.1 84,126.2 80,126.5 76,126.8 72,127.2 68,127.6 64,128.2 60,128.9 56,129.7 52,130.5 48,131.4 44,132.4 40,133.4 36,134.6 32,135.8 28,137.1 24,138.4 20,139.8 16,141.3 12,142.9 8,144.6 4,146.3 0,148.1 -4,150Z" fill="#afafaf"/>
<path d="M-4,148.5 0,146.6 4,144.8 8,143.1 12,141.5 16,139.9 20,138.4 24,137 28,135.7 32,134.4 36,133.2 40,132.1 44,131.1 48,130.1 52,129.2 56,128.4 60,127.7 64,127 68,126.4 72,126 76,125.6 80,125.2 84,125 88,124.9 92,124.8 96,124.8 100,124.8 205,124.8 211,124.8 215,124.5 225,123.5 235,122.2 245,120.7 255,118.8 265,116.8 275,115.3 285,113.9 285,119.6 275,120.6 265,121.8 255,123.3 245,124.8 235,126 225,127 215,127.8 211,127.9 205,127.9 100,127.9 96,128 92,128 88,128.1 84,128.3 80,128.5 76,128.8 72,129.2 68,129.7 64,130.3 60,131 56,131.8 52,132.6 48,133.5 44,134.5 40,135.6 36,136.8 32,138 28,139.3 24,140.7 20,142.1 16,143.6 12,145.3 8,147 4,148.7 0,150.5 -4,152.4Z" fill="#a9a9a9"/>
<path d="M-4,151 0,149.1 4,147.3 8,145.5 12,143.8 16,142.2 20,140.7 24,139.3 28,138 32,136.7 36,135.5 40,134.3 44,133.2 48,132.3 52,131.4 56,130.5 60,129.7 64,129 68,128.4 72,128 76,127.6 80,127.3 84,127 88,126.9 92,126.8 96,126.8 100,126.8 205,126.8 211,126.8 215,126.5 225,125.7 235,124.6 245,123.3 255,121.6 265,119.9 275,118.6 285,117.5 285,123.1 275,124 265,124.9 255,126.2 245,127.4 235,128.3 225,129.2 215,129.8 211,129.9 205,129.9 100,129.9 96,129.9 92,130 88,130.1 84,130.3 80,130.5 76,130.8 72,131.2 68,131.7 64,132.3 60,133.1 56,133.9 52,134.8 48,135.7 44,136.7 40,137.8 36,139 32,140.2 28,141.6 24,142.9 20,144.4 16,146 12,147.6 8,149.4 4,151.1 0,153 -4,154.9Z" fill="#a9a9a9"/>
<path d="M-4,153.4 0,151.5 4,149.7 8,147.9 12,146.2 16,144.6 20,143 24,141.6 28,140.2 32,138.9 36,137.7 40,136.5 44,135.4 48,134.4 52,133.5 56,132.6 60,131.8 64,131.1 68,130.5 72,130 76,129.6 80,129.3 84,129.1 88,128.9 92,128.8 96,128.7 100,128.7 205,128.7 211,128.7 215,128.6 225,127.9 235,126.9 245,125.9 255,124.5 265,123 275,122 285,121 285,126.7 275,127.3 265,128.1 255,129 245,130 235,130.7 225,131.3 215,131.8 211,131.9 205,131.9 100,131.9 96,131.9 92,132 88,132.1 84,132.3 80,132.5 76,132.8 72,133.3 68,133.7 64,134.4 60,135.1 56,136 52,136.9 48,137.8 44,138.9 40,140 36,141.2 32,142.5 28,143.8 24,145.2 20,146.7 16,148.3 12,150 8,151.8 4,153.6 0,155.4 -4,157.4Z" fill="#b0b0b0"/>
<path d="M-4,155.9 0,154 4,152.1 8,150.3 12,148.6 16,146.9 20,145.3 24,143.9 28,142.5 32,141.1 36,139.9 40,138.7 44,137.6 48,136.5 52,135.6 56,134.7 60,133.9 64,133.1 68,132.5 72,132 76,131.6 80,131.3 84,131.1 88,130.9 92,130.8 96,130.7 100,130.7 205,130.7 211,130.7 215,130.6 225,130 235,129.3 245,128.4 255,127.3 265,126.2 275,125.3 285,124.5 285,130.2 275,130.7 265,131.2 255,131.9 245,132.5 235,133.1 225,133.5 215,133.8 211,133.9 205,133.9 100,133.9 96,133.9 92,134 88,134.1 84,134.3 80,134.5 76,134.9 72,135.3 68,135.8 64,136.4 60,137.2 56,138.1 52,139 48,140 44,141 40,142.2 36,143.4 32,144.7 28,146.1 24,147.5 20,149 16,150.7 12,152.4 8,154.2 4,156 0,157.9 -4,159.9Z" fill="#bcbcbc"/>
<path d="M-4,158.4 0,156.4 4,154.6 8,152.7 12,150.9 16,149.2 20,147.6 24,146.1 28,144.7 32,143.4 36,142.1 40,140.9 44,139.7 48,138.7 52,137.7 56,136.8 60,136 64,135.2 68,134.6 72,134.1 76,133.7 80,133.3 84,133.1 88,132.9 92,132.8 96,132.7 100,132.7 205,132.7 211,132.7 215,132.6 225,132.2 235,131.6 245,131 255,130.2 265,129.3 275,128.7 285,128.1 285,133.7 275,134 265,134.3 255,134.7 245,135.1 235,135.4 225,135.7 215,135.9 211,135.9 205,135.9 100,135.9 96,135.9 92,136 88,136.1 84,136.3 80,136.5 76,136.9 72,137.3 68,137.8 64,138.5 60,139.3 56,140.2 52,141.1 48,142.1 44,143.2 40,144.4 36,145.6 32,146.9 28,148.3 24,149.8 20,151.3 16,153 12,154.7 8,156.6 4,158.4 0,160.4 -4,162.4Z" fill="#d2d2d2"/>
<path d="M-4,160.9 0,158.9 4,157 8,155.1 12,153.3 16,151.6 20,149.9 24,148.4 28,147 32,145.6 36,144.3 40,143.1 44,141.9 48,140.8 52,139.9 56,138.9 60,138 64,137.2 68,136.6 72,136.1 76,135.7 80,135.3 84,135.1 88,134.9 92,134.8 96,134.7 100,134.7 205,134.7 211,134.7 215,134.6 225,134.4 235,134 245,133.6 255,133 265,132.4 275,132 285,131.6 285,137.3 275,137.4 265,137.4 255,137.6 245,137.7 235,137.8 225,137.8 215,137.9 211,137.9 205,137.9 100,137.9 96,137.9 92,137.9 88,138.1 84,138.3 80,138.6 76,138.9 72,139.3 68,139.9 64,140.5 60,141.4 56,142.3 52,143.2 48,144.3 44,145.4 40,146.6 36,147.8 32,149.2 28,150.6 24,152.1 20,153.6 16,155.3 12,157.1 8,159 4,160.9 0,162.8 -4,164.8Z" fill="#e8e8e8"/>
<path d="M-4,163.4 0,161.3 4,159.4 8,157.5 12,155.7 16,153.9 20,152.3 24,150.7 28,149.2 32,147.8 36,146.5 40,145.2 44,144.1 48,143 52,142 56,141 60,140.1 64,139.3 68,138.6 72,138.1 76,137.7 80,137.3 84,137.1 88,136.9 92,136.8 96,136.7 100,136.7 205,136.7 211,136.7 215,136.7 225,136.5 235,136.3 245,136.1 255,135.9 265,135.6 275,135.4 285,135.2 285,138.7 275,138.7 265,138.7 255,138.7 245,138.7 235,138.7 225,138.7 215,138.7 211,138.7 205,138.7 100,138.7 96,138.7 92,138.7 88,138.9 84,139.1 80,139.4 76,139.7 72,140.2 68,140.7 64,141.4 60,142.2 56,143.1 52,144.1 48,145.1 44,146.2 40,147.4 36,148.7 32,150.1 28,151.5 24,153 20,154.6 16,156.3 12,158.1 8,159.9 4,161.8 0,163.8 -4,165.8Z" fill="#fcfcfc"/>
<path d="M-4,228.6 0,226.1 4,223.6 8,220.9 12,218.3 16,215.7 20,213.1 24,210.8 28,208.6 32,206.5 36,204.5 40,202.6 44,200.8 48,199.2 52,197.6 56,196.1 60,194.6 64,193.1 68,191.7 72,190.7 76,189.9 80,189.1 84,188.6 88,188.3 92,188.1 96,188 100,188 205,188 211,188 215,188 225,188 235,188 245,188 255,188 265,188 275,188 285,188 285,192.9 275,192.6 265,192.4 255,192 245,191.7 235,191.4 225,191.1 215,190.9 211,190.8 205,190.8 100,190.8 96,190.8 92,190.9 88,191.1 84,191.5 80,192.1 76,192.9 72,193.8 68,194.9 64,196.2 60,197.7 56,199.3 52,200.8 48,202.4 44,204.1 40,205.9 36,207.8 32,209.8 28,212 24,214.2 20,216.6 16,219.1 12,221.7 8,224.3 4,226.9 0,229.4 -4,231.9Z" fill="#ededed"/>
<path d="M-4,230.7 0,228.2 4,225.6 8,223 12,220.4 16,217.8 20,215.3 24,212.9 28,210.7 32,208.6 36,206.5 40,204.7 44,202.9 48,201.2 52,199.6 56,198.1 60,196.5 64,195 68,193.7 72,192.6 76,191.7 80,191 84,190.4 88,190.1 92,189.8 96,189.7 100,189.7 205,189.7 211,189.8 215,189.8 225,189.9 235,190.1 245,190.3 255,190.5 265,190.7 275,190.9 285,191 285,195.9 275,195.5 265,195.1 255,194.6 245,194 235,193.5 225,193 215,192.6 211,192.6 205,192.5 100,192.5 96,192.5 92,192.6 88,192.9 84,193.3 80,193.9 76,194.8 72,195.7 68,196.8 64,198.2 60,199.7 56,201.2 52,202.8 48,204.4 44,206.1 40,207.9 36,209.9 32,212 28,214.1 24,216.4 20,218.8 16,221.3 12,223.8 8,226.4 4,229 0,231.5 -4,234Z" fill="#d4d4d4"/>
<path d="M-4,232.8 0,230.3 4,227.7 8,225.1 12,222.5 16,220 20,217.5 24,215.1 28,212.9 32,210.7 36,208.6 40,206.7 44,204.9 48,203.2 52,201.6 56,200 60,198.5 64,197 68,195.6 72,194.6 76,193.6 80,192.8 84,192.2 88,191.8 92,191.6 96,191.5 100,191.5 205,191.5 211,191.5 215,191.6 225,191.9 235,192.2 245,192.6 255,193.1 265,193.4 275,193.8 285,194.1 285,199 275,198.4 265,197.8 255,197.1 245,196.3 235,195.6 225,195 215,194.4 211,194.3 205,194.2 100,194.3 96,194.3 92,194.3 88,194.6 84,195.1 80,195.8 76,196.6 72,197.6 68,198.8 64,200.1 60,201.7 56,203.2 52,204.8 48,206.4 44,208.2 40,210 36,212 32,214.1 28,216.3 24,218.6 20,220.9 16,223.4 12,226 8,228.5 4,231.1 0,233.6 -4,236.1Z" fill="#afafaf"/>
<path d="M-4,234.9 0,232.4 4,229.8 8,227.3 12,224.7 16,222.1 20,219.6 24,217.3 28,215 32,212.8 36,210.7 40,208.8 44,206.9 48,205.2 52,203.6 56,202 60,200.5 64,199 68,197.6 72,196.5 76,195.5 80,194.7 84,194 88,193.6 92,193.3 96,193.2 100,193.2 205,193.2 211,193.2 215,193.3 225,193.8 235,194.4 245,195 255,195.6 265,196.2 275,196.7 285,197.1 285,202 275,201.3 265,200.5 255,199.6 245,198.7 235,197.8 225,196.9 215,196.2 211,196.1 205,196 100,196 96,196 92,196.1 88,196.4 84,196.9 80,197.6 76,198.5 72,199.6 68,200.7 64,202.1 60,203.6 56,205.2 52,206.8 48,208.5 44,210.2 40,212 36,214 32,216.2 28,218.4 24,220.7 20,223.1 16,225.6 12,228.1 8,230.6 4,233.2 0,235.7 -4,238.2Z" fill="#919191"/>
<path d="M-4,236.9 0,234.4 4,231.9 8,229.4 12,226.8 16,224.3 20,221.8 24,219.4 28,217.2 32,214.9 36,212.8 40,210.8 44,209 48,207.2 52,205.6 56,204 60,202.5 64,200.9 68,199.5 72,198.4 76,197.4 80,196.5 84,195.8 88,195.3 92,195 96,195 100,195 205,194.9 211,195 215,195.1 225,195.8 235,196.5 245,197.3 255,198.1 265,198.9 275,199.5 285,200.2 285,205.1 275,204.2 265,203.2 255,202.2 245,201 235,199.9 225,198.9 215,198 211,197.8 205,197.7 100,197.8 96,197.8 92,197.8 88,198.1 84,198.7 80,199.5 76,200.4 72,201.5 68,202.7 64,204.1 60,205.6 56,207.2 52,208.8 48,210.5 44,212.2 40,214.1 36,216.1 32,218.3 28,220.6 24,222.9 20,225.3 16,227.7 12,230.2 8,232.7 4,235.3 0,237.8 -4,240.3Z" fill="#7b7b7b"/>
<path d="M-4,239 0,236.5 4,234 8,231.5 12,228.9 16,226.4 20,224 24,221.6 28,219.3 32,217 36,214.9 40,212.8 44,211 48,209.3 52,207.6 56,206 60,204.4 64,202.9 68,201.5 72,200.3 76,199.3 80,198.4 84,197.6 88,197.1 92,196.8 96,196.7 100,196.7 205,196.6 211,196.8 215,196.9 225,197.7 235,198.6 245,199.6 255,200.6 265,201.6 275,202.4 285,203.2 285,208.1 275,207 265,206 255,204.7 245,203.3 235,202 225,200.8 215,199.8 211,199.6 205,199.4 100,199.5 96,199.5 92,199.6 88,199.9 84,200.5 80,201.3 76,202.3 72,203.4 68,204.6 64,206 60,207.6 56,209.2 52,210.8 48,212.5 44,214.2 40,216.1 36,218.2 32,220.4 28,222.7 24,225.1 20,227.4 16,229.9 12,232.3 8,234.8 4,237.4 0,239.9 -4,242.4Z" fill="#707070"/>
<path d="M-4,241.1 0,238.6 4,236.1 8,233.6 12,231.1 16,228.6 20,226.1 24,223.8 28,221.4 32,219.2 36,216.9 40,214.9 44,213 48,211.3 52,209.6 56,208 60,206.4 64,204.9 68,203.5 72,202.2 76,201.2 80,200.2 84,199.4 88,198.8 92,198.5 96,198.5 100,198.5 205,198.4 211,198.5 215,198.7 225,199.6 235,200.7 245,201.9 255,203.2 265,204.3 275,205.3 285,206.3 285,211.1 275,209.9 265,208.7 255,207.2 245,205.6 235,204.1 225,202.7 215,201.6 211,201.3 205,201.1 100,201.3 96,201.3 92,201.3 88,201.6 84,202.3 80,203.2 76,204.2 72,205.3 68,206.6 64,208 60,209.6 56,211.2 52,212.8 48,214.5 44,216.3 40,218.2 36,220.3 32,222.5 28,224.9 24,227.2 20,229.6 16,232 12,234.5 8,236.9 4,239.4 0,242 -4,244.5Z" fill="#727272"/>
<path d="M-4,243.2 0,240.7 4,238.2 8,235.7 12,233.2 16,230.7 20,228.3 24,225.9 28,223.6 32,221.3 36,219 40,216.9 44,215.1 48,213.3 52,211.6 56,210 60,208.4 64,206.8 68,205.4 72,204.2 76,203 80,202.1 84,201.2 88,200.6 92,200.3 96,200.2 100,200.2 205,200.1 211,200.2 215,200.5 225,201.6 235,202.9 245,204.2 255,205.7 265,207 275,208.2 285,209.3 285,214.2 275,212.8 265,211.4 255,209.7 245,207.9 235,206.3 225,204.7 215,203.3 211,203.1 205,202.9 100,203 96,203 92,203.1 88,203.4 84,204.1 80,205 76,206 72,207.2 68,208.5 64,210 60,211.5 56,213.2 52,214.8 48,216.5 44,218.3 40,220.2 36,222.4 32,224.7 28,227 24,229.4 20,231.8 16,234.2 12,236.6 8,239.1 4,241.5 0,244 -4,246.6Z" fill="#7b7b7b"/>
<path d="M-4,245.3 0,242.8 4,240.3 8,237.8 12,235.3 16,232.9 20,230.5 24,228.1 28,225.7 32,223.4 36,221.1 40,219 44,217.1 48,215.3 52,213.6 56,212 60,210.4 64,208.8 68,207.4 72,206.1 76,204.9 80,203.9 84,203 88,202.3 92,202 96,202 100,202 205,201.8 211,202 215,202.3 225,203.5 235,205 245,206.5 255,208.2 265,209.8 275,211.1 285,212.4 285,217.2 275,215.7 265,214.1 255,212.3 245,210.3 235,208.4 225,206.6 215,205.1 211,204.8 205,204.6 100,204.8 96,204.8 92,204.8 88,205.1 84,205.9 80,206.9 76,207.9 72,209.2 68,210.5 64,212 60,213.5 56,215.1 52,216.8 48,218.5 44,220.3 40,222.3 36,224.4 32,226.8 28,229.2 24,231.6 20,233.9 16,236.3 12,238.7 8,241.2 4,243.6 0,246.1 -4,248.7Z" fill="#898989"/>
<path d="M-4,247.4 0,244.9 4,242.4 8,239.9 12,237.4 16,235 20,232.6 24,230.3 28,227.9 32,225.5 36,223.2 40,221.1 44,219.1 48,217.3 52,215.6 56,213.9 60,212.3 64,210.8 68,209.3 72,208 76,206.8 80,205.8 84,204.8 88,204.1 92,203.8 96,203.7 100,203.7 205,203.6 211,203.8 215,204 225,205.5 235,207.1 245,208.9 255,210.7 265,212.5 275,214 285,215.4 285,220.3 275,218.6 265,216.8 255,214.8 245,212.6 235,210.5 225,208.6 215,206.9 211,206.6 205,206.3 100,206.5 96,206.5 92,206.6 88,206.9 84,207.7 80,208.7 76,209.8 72,211.1 68,212.4 64,213.9 60,215.5 56,217.1 52,218.8 48,220.5 44,222.4 40,224.3 36,226.5 32,228.9 28,231.3 24,233.7 20,236.1 16,238.5 12,240.9 8,243.3 4,245.7 0,248.2 -4,250.8Z" fill="#989898"/>
<path d="M-4,249.5 0,247 4,244.5 8,242 12,239.6 16,237.2 20,234.8 24,232.4 28,230 32,227.6 36,225.3 40,223.1 44,221.1 48,219.3 52,217.6 56,215.9 60,214.3 64,212.7 68,211.3 72,209.9 76,208.7 80,207.6 84,206.6 88,205.8 92,205.5 96,205.5 100,205.5 205,205.3 211,205.5 215,205.8 225,207.4 235,209.2 245,211.2 255,213.3 265,215.2 275,216.9 285,218.4 285,223.3 275,221.5 265,219.6 255,217.3 245,214.9 235,212.6 225,210.5 215,208.7 211,208.3 205,208.1 100,208.3 96,208.3 92,208.3 88,208.6 84,209.5 80,210.6 76,211.7 72,213 68,214.4 64,215.9 60,217.5 56,219.1 52,220.8 48,222.6 44,224.4 40,226.4 36,228.6 32,231 28,233.5 24,235.9 20,238.3 16,240.6 12,243 8,245.4 4,247.8 0,250.3 -4,252.9Z" fill="#a8a8a8"/>
<path d="M-4,251.6 0,249 4,246.5 8,244.1 12,241.7 16,239.3 20,237 24,234.6 28,232.2 32,229.7 36,227.4 40,225.2 44,223.2 48,221.4 52,219.6 56,217.9 60,216.3 64,214.7 68,213.2 72,211.8 76,210.6 80,209.5 84,208.4 88,207.6 92,207.3 96,207.2 100,207.2 205,207 211,207.2 215,207.6 225,209.3 235,211.4 245,213.5 255,215.8 265,217.9 275,219.7 285,221.5 285,226.4 275,224.4 265,222.3 255,219.8 245,217.2 235,214.8 225,212.4 215,210.5 211,210 205,209.8 100,210 96,210 92,210.1 88,210.4 84,211.3 80,212.4 76,213.6 72,214.9 68,216.4 64,217.9 60,219.4 56,221.1 52,222.8 48,224.6 44,226.4 40,228.4 36,230.7 32,233.1 28,235.6 24,238.1 20,240.4 16,242.8 12,245.1 8,247.5 4,249.9 0,252.4 -4,255Z" fill="#b9b9b9"/>
<path d="M-4,253.7 0,251.1 4,248.6 8,246.2 12,243.8 16,241.5 20,239.1 24,236.8 28,234.3 32,231.9 36,229.4 40,227.2 44,225.2 48,223.4 52,221.6 56,219.9 60,218.3 64,216.7 68,215.2 72,213.8 76,212.4 80,211.3 84,210.2 88,209.3 92,209 96,209 100,208.9 205,208.7 211,209 215,209.4 225,211.3 235,213.5 245,215.8 255,218.3 265,220.7 275,222.6 285,224.5 285,229.4 275,227.3 265,225 255,222.4 245,219.5 235,216.9 225,214.4 215,212.2 211,211.8 205,211.5 100,211.7 96,211.8 92,211.8 88,212.1 84,213.1 80,214.3 76,215.5 72,216.8 68,218.3 64,219.8 60,221.4 56,223.1 52,224.8 48,226.6 44,228.5 40,230.5 36,232.8 32,235.2 28,237.8 24,240.2 20,242.6 16,244.9 12,247.2 8,249.6 4,252 0,254.5 -4,257.1Z" fill="#cfcfcf"/>
<path d="M-4,255.8 0,253.2 4,250.7 8,248.3 12,246 16,243.6 20,241.3 24,238.9 28,236.5 32,234 36,231.5 40,229.2 44,227.2 48,225.4 52,223.6 56,221.9 60,220.2 64,218.6 68,217.1 72,215.7 76,214.3 80,213.2 84,212 88,211.1 92,210.7 96,210.7 100,210.7 205,210.5 211,210.8 215,211.2 225,213.2 235,215.6 245,218.1 255,220.9 265,223.4 275,225.5 285,227.6 285,230.6 275,228.4 265,226.1 255,223.4 245,220.5 235,217.7 225,215.2 215,213 211,212.5 205,212.2 100,212.4 96,212.5 92,212.5 88,212.8 84,213.8 80,215 76,216.2 72,217.6 68,219.1 64,220.6 60,222.2 56,223.9 52,225.6 48,227.4 44,229.3 40,231.3 36,233.6 32,236.1 28,238.6 24,241.1 20,243.5 16,245.8 12,248.1 8,250.4 4,252.8 0,255.3 -4,257.9Z" fill="#e1e1e1"/>
</g>
<g filter="url(#bl)" mask="url(#dfade)">
<path d="M-4,234.4 0,231.9 4,229.4 8,226.8 12,224.2 16,221.7 20,219.2 24,216.8 28,214.6 32,212.4 36,210.3 40,208.3 44,206.5 48,204.8 52,203.2 56,201.6 60,200.1 64,198.6 68,197.2 72,196.1 76,195.1 80,194.3 84,193.7 88,193.2 92,193 96,192.9 100,192.9 205,192.8 211,192.9 215,193 225,193.4 235,193.9 245,194.5 255,195.1 265,195.6 275,196.1 285,196.5 285,216.1 275,214.7 265,213.1 255,211.3 245,209.4 235,207.6 225,205.9 215,204.5 211,204.2 205,204 100,204.1 96,204.1 92,204.2 88,204.5 84,205.3 80,206.2 76,207.2 72,208.5 68,209.8 64,211.2 60,212.8 56,214.4 52,216.1 48,217.8 44,219.6 40,221.5 36,223.7 32,226 28,228.4 24,230.8 20,233.2 16,235.5 12,238 8,240.4 4,242.9 0,245.4 -4,247.9Z" fill="#565656"/>
<path d="M-4,236.5 0,234 4,231.5 8,228.9 12,226.3 16,223.8 20,221.3 24,219 28,216.7 32,214.5 36,212.3 40,210.3 44,208.5 48,206.8 52,205.2 56,203.6 60,202 64,200.5 68,199.1 72,198 76,197 80,196.1 84,195.4 88,194.9 92,194.7 96,194.6 100,194.6 205,194.5 211,194.6 215,194.7 225,195.3 235,196 245,196.8 255,197.6 265,198.3 275,198.9 285,199.5 285,212.7 275,211.4 265,210.1 255,208.5 245,206.8 235,205.3 225,203.8 215,202.5 211,202.2 205,202 100,202.2 96,202.2 92,202.2 88,202.5 84,203.2 80,204.1 76,205.1 72,206.3 68,207.6 64,209 60,210.6 56,212.2 52,213.8 48,215.6 44,217.3 40,219.2 36,221.4 32,223.6 28,226 24,228.4 20,230.7 16,233.1 12,235.6 8,238 4,240.5 0,243 -4,245.6Z" fill="#303030"/>
<path d="M-4,238.2 0,235.7 4,233.2 8,230.7 12,228.1 16,225.6 20,223.1 24,220.8 28,218.5 32,216.2 36,214.1 40,212.1 44,210.2 48,208.5 52,206.8 56,205.2 60,203.7 64,202.1 68,200.8 72,199.6 76,198.6 80,197.7 84,196.9 88,196.4 92,196.1 96,196.1 100,196.1 205,196 211,196.1 215,196.2 225,197 235,197.8 245,198.7 255,199.7 265,200.6 275,201.3 285,202.1 285,209.3 275,208.2 265,207 255,205.7 245,204.2 235,202.9 225,201.6 215,200.5 211,200.2 205,200.1 100,200.2 96,200.2 92,200.3 88,200.6 84,201.2 80,202.1 76,203 72,204.2 68,205.4 64,206.8 60,208.4 56,210 52,211.6 48,213.3 44,215.1 40,216.9 36,219 32,221.3 28,223.6 24,225.9 20,228.3 16,230.7 12,233.2 8,235.7 4,238.2 0,240.7 -4,243.2Z" fill="#1c1c1c"/>
</g>
<path d="M-4,136.1 0,134.3 4,132.7 8,131.1 12,129.6 16,128.2 20,126.9 24,125.6 28,124.4 32,123.3 36,122.2 40,121.2 44,120.2 48,119.4 52,118.6 56,117.9 60,117.3 64,116.7 68,116.2 72,115.8 72,140.2 68,140.7 64,141.4 60,142.2 56,143.1 52,144.1 48,145.1 44,146.2 40,147.4 36,148.7 32,150.1 28,151.5 24,153 20,154.6 16,156.3 12,158.1 8,159.9 4,161.8 0,163.8 -4,165.8Z" fill="url(#leftdark)"/>
<g filter="url(#bl)">
<path d="M-4,167.7 0,165.7 4,163.7 8,161.8 12,160 16,158.2 20,156.5 24,154.9 28,153.4 32,152 36,150.6 40,149.3 44,148.1 48,147 52,146 56,145 60,144.1 64,143.3 68,142.6 72,142.1 76,141.6 80,141.3 84,141 88,140.8 92,140.6 96,140.6 100,140.6 205,140.6 211,140.6 343,140.6 343,145.2 211,145.2 205,145.2 100,145.2 96,145.2 92,145.3 88,145.4 84,145.6 80,145.9 76,146.3 72,146.8 68,147.4 64,148.1 60,149 56,150 52,151 48,152.1 44,153.3 40,154.5 36,155.9 32,157.3 28,158.8 24,160.3 20,162 16,163.8 12,165.7 8,167.6 4,169.6 0,171.6 -4,173.7Z" fill="#fcfeff"/>
<path d="M-4,171.5 0,169.4 4,167.4 8,165.4 12,163.5 16,161.7 20,159.9 24,158.3 28,156.8 32,155.3 36,153.9 40,152.6 44,151.3 48,150.2 52,149.1 56,148.1 60,147.2 64,146.3 68,145.6 72,145 76,144.6 80,144.2 84,143.9 88,143.7 92,143.5 96,143.5 100,143.5 205,143.5 211,143.5 343,143.5 343,148.1 211,148.1 205,148.1 100,148.1 96,148.1 92,148.2 88,148.3 84,148.5 80,148.8 76,149.3 72,149.8 68,150.4 64,151.2 60,152.1 56,153.1 52,154.2 48,155.3 44,156.5 40,157.8 36,159.2 32,160.6 28,162.2 24,163.8 20,165.5 16,167.3 12,169.2 8,171.2 4,173.3 0,175.3 -4,177.4Z" fill="#f5fcfe"/>
<path d="M-4,175.2 0,173.1 4,171.1 8,169.1 12,167.1 16,165.2 20,163.4 24,161.7 28,160.1 32,158.6 36,157.2 40,155.8 44,154.6 48,153.4 52,152.3 56,151.2 60,150.2 64,149.3 68,148.6 72,148 76,147.5 80,147.1 84,146.8 88,146.6 92,146.4 96,146.4 100,146.4 205,146.4 211,146.4 343,146.4 343,151 211,151 205,151 100,151 96,151 92,151 88,151.2 84,151.4 80,151.8 76,152.2 72,152.7 68,153.4 64,154.2 60,155.2 56,156.2 52,157.3 48,158.5 44,159.7 40,161 36,162.5 32,164 28,165.5 24,167.2 20,168.9 16,170.8 12,172.8 8,174.9 4,176.9 0,179 -4,181.2Z" fill="#e0f4fc"/>
<path d="M-4,178.9 0,176.8 4,174.7 8,172.7 12,170.7 16,168.7 20,166.9 24,165.1 28,163.5 32,162 36,160.5 40,159.1 44,157.8 48,156.6 52,155.4 56,154.4 60,153.3 64,152.4 68,151.6 72,151 76,150.4 80,150 84,149.7 88,149.5 92,149.3 96,149.3 100,149.3 205,149.3 211,149.3 343,149.3 343,153.9 211,153.9 205,153.9 100,153.9 96,153.9 92,153.9 88,154.1 84,154.4 80,154.7 76,155.1 72,155.7 68,156.4 64,157.2 60,158.3 56,159.3 52,160.5 48,161.7 44,162.9 40,164.3 36,165.7 32,167.3 28,168.9 24,170.6 20,172.4 16,174.4 12,176.4 8,178.5 4,180.6 0,182.7 -4,184.9Z" fill="#c1e8f9"/>
<path d="M-4,182.6 0,180.5 4,178.4 8,176.3 12,174.2 16,172.2 20,170.3 24,168.5 28,166.9 32,165.3 36,163.8 40,162.3 44,161 48,159.8 52,158.6 56,157.5 60,156.4 64,155.4 68,154.6 72,153.9 76,153.4 80,152.9 84,152.6 88,152.4 92,152.2 96,152.1 100,152.1 205,152.1 211,152.1 343,152.1 343,156.8 211,156.8 205,156.8 100,156.8 96,156.8 92,156.8 88,157 84,157.3 80,157.6 76,158.1 72,158.7 68,159.4 64,160.3 60,161.3 56,162.5 52,163.6 48,164.9 44,166.2 40,167.6 36,169 32,170.6 28,172.3 24,174 20,175.9 16,177.9 12,180 8,182.1 4,184.3 0,186.4 -4,188.6Z" fill="#4bb8ee"/>
<path d="M-4,186.4 0,184.2 4,182.1 8,179.9 12,177.8 16,175.8 20,173.8 24,172 28,170.3 32,168.6 36,167.1 40,165.6 44,164.2 48,162.9 52,161.7 56,160.6 60,159.5 64,158.4 68,157.6 72,156.9 76,156.3 80,155.8 84,155.5 88,155.3 92,155.1 96,155 100,155 205,155 211,155 343,155 343,159.7 211,159.7 205,159.7 100,159.7 96,159.7 92,159.7 88,159.9 84,160.2 80,160.5 76,161 72,161.6 68,162.4 64,163.3 60,164.4 56,165.6 52,166.8 48,168 44,169.4 40,170.8 36,172.3 32,173.9 28,175.7 24,177.4 20,179.4 16,181.4 12,183.5 8,185.7 4,187.9 0,190.1 -4,192.3Z" fill="#1ea3e8"/>
<path d="M-4,190.1 0,187.9 4,185.7 8,183.5 12,181.4 16,179.3 20,177.3 24,175.4 28,173.6 32,172 36,170.4 40,168.9 44,167.4 48,166.1 52,164.9 56,163.7 60,162.6 64,161.5 68,160.6 72,159.9 76,159.3 80,158.8 84,158.4 88,158.2 92,158 96,157.9 100,157.9 205,157.9 211,157.9 343,157.9 343,162.5 211,162.5 205,162.5 100,162.5 96,162.5 92,162.6 88,162.8 84,163.1 80,163.4 76,164 72,164.6 68,165.4 64,166.3 60,167.5 56,168.7 52,169.9 48,171.2 44,172.6 40,174.1 36,175.6 32,177.3 28,179 24,180.9 20,182.8 16,184.9 12,187.1 8,189.3 4,191.6 0,193.8 -4,196.1Z" fill="#1ca1e7"/>
<path d="M-4,193.8 0,191.6 4,189.4 8,187.2 12,185 16,182.8 20,180.7 24,178.8 28,177 32,175.3 36,173.6 40,172.1 44,170.7 48,169.3 52,168 56,166.8 60,165.6 64,164.5 68,163.6 72,162.8 76,162.2 80,161.7 84,161.3 88,161.1 92,160.9 96,160.8 100,160.8 205,160.8 211,160.8 343,160.8 343,165.4 211,165.4 205,165.4 100,165.4 96,165.4 92,165.5 88,165.7 84,166 80,166.3 76,166.9 72,167.6 68,168.4 64,169.4 60,170.6 56,171.8 52,173.1 48,174.4 44,175.8 40,177.3 36,178.9 32,180.6 28,182.4 24,184.3 20,186.3 16,188.4 12,190.7 8,193 4,195.2 0,197.5 -4,199.8Z" fill="#1a9ee5"/>
<path d="M-4,197.6 0,195.3 4,193.1 8,190.8 12,188.5 16,186.3 20,184.2 24,182.2 28,180.4 32,178.6 36,176.9 40,175.4 44,173.9 48,172.5 52,171.2 56,169.9 60,168.7 64,167.6 68,166.6 72,165.8 76,165.1 80,164.6 84,164.2 88,164 92,163.8 96,163.7 100,163.7 205,163.7 211,163.7 343,163.7 343,168.3 211,168.3 205,168.3 100,168.3 96,168.3 92,168.4 88,168.6 84,168.9 80,169.3 76,169.8 72,170.5 68,171.3 64,172.4 60,173.6 56,174.9 52,176.2 48,177.6 44,179 40,180.6 36,182.2 32,183.9 28,185.8 24,187.7 20,189.8 16,191.9 12,194.2 8,196.6 4,198.9 0,201.2 -4,203.5Z" fill="#189ce4"/>
<path d="M-4,201.3 0,199 4,196.7 8,194.4 12,192.1 16,189.8 20,187.7 24,185.6 28,183.7 32,181.9 36,180.2 40,178.6 44,177.1 48,175.7 52,174.3 56,173.1 60,171.8 64,170.6 68,169.6 72,168.8 76,168.1 80,167.5 84,167.1 88,166.8 92,166.6 96,166.6 100,166.6 205,166.6 211,166.6 343,166.6 343,171.2 211,171.2 205,171.2 100,171.2 96,171.2 92,171.3 88,171.5 84,171.8 80,172.2 76,172.8 72,173.5 68,174.3 64,175.5 60,176.7 56,178 52,179.4 48,180.8 44,182.3 40,183.8 36,185.5 32,187.3 28,189.1 24,191.1 20,193.2 16,195.5 12,197.8 8,200.2 4,202.6 0,204.9 -4,207.2Z" fill="#189de5"/>
<path d="M-4,205 0,202.7 4,200.4 8,198 12,195.7 16,193.4 20,191.1 24,189.1 28,187.1 32,185.3 36,183.5 40,181.9 44,180.3 48,178.9 52,177.5 56,176.2 60,174.9 64,173.6 68,172.5 72,171.7 76,171 80,170.4 84,170 88,169.7 92,169.5 96,169.5 100,169.5 205,169.5 211,169.5 343,169.5 343,174.1 211,174.1 205,174.1 100,174.1 96,174.1 92,174.2 88,174.4 84,174.7 80,175.1 76,175.7 72,176.5 68,177.3 64,178.5 60,179.8 56,181.2 52,182.5 48,184 44,185.5 40,187.1 36,188.8 32,190.6 28,192.5 24,194.5 20,196.7 16,199 12,201.4 8,203.8 4,206.2 0,208.6 -4,211Z" fill="#1a9fe6"/>
<path d="M-4,208.7 0,206.4 4,204 8,201.6 12,199.2 16,196.9 20,194.6 24,192.5 28,190.5 32,188.6 36,186.8 40,185.1 44,183.5 48,182.1 52,180.6 56,179.3 60,178 64,176.7 68,175.5 72,174.7 76,174 80,173.3 84,172.9 88,172.6 92,172.4 96,172.4 100,172.4 205,172.4 211,172.4 343,172.4 343,177 211,177 205,177 100,177 96,177 92,177 88,177.3 84,177.6 80,178 76,178.7 72,179.4 68,180.3 64,181.5 60,182.9 56,184.3 52,185.7 48,187.2 44,188.7 40,190.3 36,192.1 32,193.9 28,195.9 24,197.9 20,200.2 16,202.5 12,204.9 8,207.4 4,209.9 0,212.3 -4,214.7Z" fill="#1ca2e7"/>
<path d="M-4,212.5 0,210.1 4,207.7 8,205.3 12,202.8 16,200.4 20,198.1 24,195.9 28,193.9 32,191.9 36,190.1 40,188.4 44,186.8 48,185.2 52,183.8 56,182.4 60,181 64,179.7 68,178.5 72,177.7 76,176.9 80,176.3 84,175.8 88,175.5 92,175.3 96,175.3 100,175.3 205,175.3 211,175.3 343,175.3 343,179.9 211,179.9 205,179.9 100,179.9 96,179.9 92,179.9 88,180.2 84,180.5 80,180.9 76,181.6 72,182.4 68,183.3 64,184.6 60,186 56,187.4 52,188.8 48,190.3 44,191.9 40,193.6 36,195.4 32,197.3 28,199.3 24,201.4 20,203.6 16,206 12,208.5 8,211 4,213.6 0,216 -4,218.4Z" fill="#30adea"/>
<path d="M-4,216.2 0,213.8 4,211.4 8,208.9 12,206.4 16,203.9 20,201.5 24,199.3 28,197.2 32,195.3 36,193.4 40,191.6 44,190 48,188.4 52,186.9 56,185.5 60,184.1 64,182.7 68,181.5 72,180.6 76,179.8 80,179.2 84,178.7 88,178.4 92,178.2 96,178.1 100,178.1 205,178.1 211,178.1 343,178.1 343,182.8 211,182.8 205,182.8 100,182.8 96,182.8 92,182.8 88,183.1 84,183.4 80,183.9 76,184.5 72,185.4 68,186.3 64,187.6 60,189 56,190.5 52,192 48,193.5 44,195.1 40,196.8 36,198.7 32,200.6 28,202.6 24,204.8 20,207.1 16,209.5 12,212.1 8,214.7 4,217.2 0,219.7 -4,222.1Z" fill="#88d5f2"/>
<path d="M-4,219.9 0,217.5 4,215 8,212.5 12,209.9 16,207.4 20,205 24,202.7 28,200.6 32,198.6 36,196.7 40,194.9 44,193.2 48,191.6 52,190.1 56,188.6 60,187.2 64,185.8 68,184.5 72,183.6 76,182.8 80,182.1 84,181.6 88,181.3 92,181.1 96,181 100,181 205,181 211,181 343,181 343,185.6 211,185.6 205,185.6 100,185.6 96,185.6 92,185.7 88,185.9 84,186.3 80,186.8 76,187.5 72,188.3 68,189.3 64,190.6 60,192.1 56,193.6 52,195.1 48,196.7 44,198.4 40,200.1 36,202 32,203.9 28,206 24,208.2 20,210.6 16,213.1 12,215.7 8,218.3 4,220.9 0,223.4 -4,225.9Z" fill="#c2ebf8"/>
<path d="M-4,223.6 0,221.2 4,218.7 8,216.1 12,213.5 16,211 20,208.5 24,206.1 28,204 32,201.9 36,200 40,198.1 44,196.4 48,194.8 52,193.2 56,191.8 60,190.3 64,188.8 68,187.5 72,186.6 76,185.7 80,185 84,184.5 88,184.2 92,184 96,183.9 100,183.9 205,183.9 211,183.9 343,183.9 343,186.8 211,186.8 205,186.8 100,186.8 96,186.8 92,186.9 88,187.1 84,187.4 80,187.9 76,188.7 72,189.5 68,190.5 64,191.9 60,193.4 56,194.9 52,196.4 48,198 44,199.6 40,201.4 36,203.3 32,205.3 28,207.4 24,209.6 20,211.9 16,214.5 12,217.1 8,219.7 4,222.4 0,224.9 -4,227.4Z" fill="#d3f1fa"/>
<path d="M343,140.6 346,146.3 349,152 350,151.9 356,151.6 362,151.3 368,150.9 374,150.6 380,150.3 386,149.9 392,149.6 398,149.3 404,148.9 410,148.6 416,148.2 422,147.9 428,147.6 434,147.2 440,146.9 446,146.6 452,146.2 458,145.9 464,145.6 470,145.2 520,142.4 575,139.3 582,138.9 582,146.2 575,146.5 520,148.7 470,150.6 464,150.9 458,151.1 452,151.4 446,151.6 440,151.8 434,152.1 428,152.3 422,152.5 416,152.8 410,153 404,153.3 398,153.5 392,153.7 386,154 380,154.2 374,154.4 368,154.7 362,154.9 356,155.2 350,155.4 349,155.4 346,151.7 343,148Z" fill="#e2f5fc"/>
<path d="M343,145.2 346,149.7 349,154.2 350,154.1 356,153.8 362,153.6 368,153.3 374,153 380,152.7 386,152.5 392,152.2 398,151.9 404,151.6 410,151.4 416,151.1 422,150.8 428,150.5 434,150.3 440,150 446,149.7 452,149.4 458,149.2 464,148.9 470,148.6 520,146.3 575,143.8 582,143.5 582,150.7 575,151 520,152.6 470,154 464,154.2 458,154.4 452,154.6 446,154.7 440,154.9 434,155.1 428,155.3 422,155.4 416,155.6 410,155.8 404,156 398,156.2 392,156.3 386,156.5 380,156.7 374,156.9 368,157 362,157.2 356,157.4 350,157.6 349,157.6 346,155.1 343,152.6Z" fill="#8cd3f3"/>
<path d="M343,149.8 346,153.1 349,156.3 350,156.3 356,156.1 362,155.8 368,155.6 374,155.4 380,155.2 386,155 392,154.8 398,154.6 404,154.3 410,154.1 416,153.9 422,153.7 428,153.5 434,153.3 440,153.1 446,152.9 452,152.6 458,152.4 464,152.2 470,152 520,150.2 575,148.3 582,148 582,155.3 575,155.4 520,156.5 470,157.4 464,157.5 458,157.7 452,157.8 446,157.9 440,158 434,158.1 428,158.2 422,158.3 416,158.5 410,158.6 404,158.7 398,158.8 392,158.9 386,159 380,159.1 374,159.3 368,159.4 362,159.5 356,159.6 350,159.7 349,159.7 346,158.5 343,157.2Z" fill="#3cace8"/>
<path d="M343,154.5 346,156.5 349,158.4 350,158.4 356,158.3 362,158.1 368,158 374,157.8 380,157.7 386,157.5 392,157.4 398,157.2 404,157.1 410,156.9 416,156.8 422,156.6 428,156.5 434,156.3 440,156.2 446,156 452,155.8 458,155.7 464,155.5 470,155.4 520,154.1 575,152.7 582,152.6 582,159.8 575,159.9 520,160.4 470,160.8 464,160.9 458,160.9 452,161 446,161 440,161.1 434,161.1 428,161.2 422,161.2 416,161.3 410,161.4 404,161.4 398,161.5 392,161.5 386,161.6 380,161.6 374,161.7 368,161.7 362,161.8 356,161.8 350,161.9 349,161.9 346,161.9 343,161.9Z" fill="#2ba1e5"/>
<path d="M343,159.1 346,159.8 349,160.6 350,160.6 356,160.5 362,160.4 368,160.3 374,160.2 380,160.1 386,160 392,160 398,159.9 404,159.8 410,159.7 416,159.6 422,159.5 428,159.4 434,159.3 440,159.2 446,159.1 452,159.1 458,159 464,158.9 470,158.8 520,158 575,157.2 582,157.1 582,164.4 575,164.4 520,164.3 470,164.2 464,164.2 458,164.2 452,164.2 446,164.2 440,164.2 434,164.2 428,164.2 422,164.1 416,164.1 410,164.1 404,164.1 398,164.1 392,164.1 386,164.1 380,164.1 374,164.1 368,164.1 362,164.1 356,164 350,164 349,164 346,165.3 343,166.5Z" fill="#279ee3"/>
<path d="M343,163.7 346,163.2 349,162.8 350,162.7 356,162.7 362,162.7 368,162.7 374,162.6 380,162.6 386,162.6 392,162.5 398,162.5 404,162.5 410,162.5 416,162.4 422,162.4 428,162.4 434,162.3 440,162.3 446,162.3 452,162.3 458,162.2 464,162.2 470,162.2 520,161.9 575,161.7 582,161.6 582,168.9 575,168.8 520,168.2 470,167.6 464,167.5 458,167.5 452,167.4 446,167.3 440,167.3 434,167.2 428,167.1 422,167 416,167 410,166.9 404,166.8 398,166.8 392,166.7 386,166.6 380,166.6 374,166.5 368,166.4 362,166.3 356,166.3 350,166.2 349,166.2 346,168.6 343,171.1Z" fill="#249be1"/>
<path d="M343,168.3 346,166.6 349,164.9 350,164.9 356,164.9 362,165 368,165 374,165 380,165.1 386,165.1 392,165.1 398,165.2 404,165.2 410,165.2 416,165.3 422,165.3 428,165.3 434,165.4 440,165.4 446,165.4 452,165.5 458,165.5 464,165.5 470,165.6 520,165.8 575,166.1 582,166.2 582,173.4 575,173.3 520,172.1 470,171 464,170.9 458,170.7 452,170.6 446,170.5 440,170.3 434,170.2 428,170.1 422,169.9 416,169.8 410,169.7 404,169.5 398,169.4 392,169.3 386,169.2 380,169 374,168.9 368,168.8 362,168.6 356,168.5 350,168.4 349,168.3 346,172 343,175.7Z" fill="#259de2"/>
<path d="M343,172.9 346,170 349,167.1 350,167.1 356,167.2 362,167.3 368,167.3 374,167.4 380,167.5 386,167.6 392,167.7 398,167.8 404,167.9 410,168 416,168.1 422,168.2 428,168.3 434,168.4 440,168.5 446,168.6 452,168.7 458,168.8 464,168.9 470,169 520,169.7 575,170.6 582,170.7 582,178 575,177.8 520,176 470,174.4 464,174.2 458,174 452,173.8 446,173.6 440,173.4 434,173.2 428,173 422,172.8 416,172.6 410,172.5 404,172.3 398,172.1 392,171.9 386,171.7 380,171.5 374,171.3 368,171.1 362,170.9 356,170.7 350,170.5 349,170.5 346,175.4 343,180.3Z" fill="#2ca4e6"/>
<path d="M343,177.6 346,173.4 349,169.2 350,169.2 356,169.4 362,169.5 368,169.7 374,169.9 380,170 386,170.2 392,170.3 398,170.5 404,170.6 410,170.8 416,170.9 422,171.1 428,171.3 434,171.4 440,171.6 446,171.7 452,171.9 458,172 464,172.2 470,172.4 520,173.7 575,175.1 582,175.3 582,182.5 575,182.2 520,179.9 470,177.8 464,177.5 458,177.3 452,177 446,176.8 440,176.5 434,176.2 428,176 422,175.7 416,175.5 410,175.2 404,175 398,174.7 392,174.5 386,174.2 380,174 374,173.7 368,173.4 362,173.2 356,172.9 350,172.7 349,172.6 346,178.8 343,185Z" fill="#49b7e8"/>
<path d="M343,182.2 346,176.8 349,171.3 350,171.4 356,171.6 362,171.8 368,172 374,172.3 380,172.5 386,172.7 392,172.9 398,173.1 404,173.3 410,173.6 416,173.8 422,174 428,174.2 434,174.4 440,174.7 446,174.9 452,175.1 458,175.3 464,175.5 470,175.7 520,177.6 575,179.6 582,179.8 582,184.3 575,184 520,181.5 470,179.1 464,178.9 458,178.6 452,178.3 446,178 440,177.7 434,177.5 428,177.2 422,176.9 416,176.6 410,176.3 404,176.1 398,175.8 392,175.5 386,175.2 380,174.9 374,174.7 368,174.4 362,174.1 356,173.8 350,173.5 349,173.5 346,180.2 343,186.8Z" fill="#7dd1ea"/>
</g>
<rect x="116.7" y="142.2" width="77.3" height="4.2" fill="#7e8284"/>
<rect x="116.7" y="146.3" width="77.3" height="10.3" fill="#fdfefe"/>
<rect x="116.7" y="156.6" width="77.3" height="10.6" fill="#229fe2"/>
<rect x="116.7" y="167" width="77.3" height="5" fill="#4cb4cf"/>
<rect x="116.7" y="172" width="77.3" height="6" fill="#8ccfe0"/>
<rect x="116.7" y="178" width="77.3" height="3.8" fill="#b2e1ec"/>
<rect x="116.7" y="181.8" width="77.3" height="3.6" fill="#70767a"/>
<path d="M-4,167.7 0,165.7 4,163.7 8,161.8 12,160 16,158.2 20,156.5 24,154.9 28,153.4 32,152 36,150.6 40,149.3 44,148.1 48,147 52,146 56,145 60,144.1 64,143.3 68,142.6 72,142.1 76,141.6 80,141.3 84,141 88,140.8 92,140.6 96,140.6 100,140.6 205,140.6 211,140.6 343,140.6 346,146.3 349,152 581,139" fill="none" stroke="#c670b8" stroke-width="3.7" stroke-linejoin="round"/>
<path d="M-4,227.4 0,224.9 4,222.4 8,219.7 12,217.1 16,214.5 20,211.9 24,209.6 28,207.4 32,205.3 36,203.3 40,201.4 44,199.6 48,198 52,196.4 56,194.9 60,193.4 64,191.9 68,190.5 72,189.5 76,188.7 80,187.9 84,187.4 88,187.1 92,186.9 96,186.8 100,186.8 205,186.8 211,186.8 343,186.8 346,180.2 349,173.5 581,184.3" fill="none" stroke="#c670b8" stroke-width="3.7" stroke-linejoin="round"/>
<path d="M116.7,140.6H194M116.7,186.8H194" stroke="#a046a2" stroke-width="3.7" fill="none"/>
</g>
<path d="M88,115.3H212M458,118.3H573" stroke="#8f9ea3" stroke-width="0.9" fill="none"/>
<path d="M92,212.7H206M468,204H573" stroke="#8d86b6" stroke-width="0.9" fill="none"/>
<path d="M581.8,125.5 L591,125.5 Q596.7,126 596.7,132 L596.7,188.5 Q596.7,194.5 591,194.5 L581.8,194.5Z" fill="url(#collar)"/>
</g>
<!-- jet -->
<g id="jet"><g filter="url(#bl2)"><path d="M582,139.2 597,138.8 650,135.7 700,132.5 750,130.3 800,128.6 850,127.3 900,126.1 950,125.1 1000,124.1 1064,122.9 1064,125.2 1000,126.3 950,127.3 900,128.2 850,129.3 800,130.6 750,132.1 700,134.2 650,137.3 597,140.2 582,140.5 Z" fill="#3dbcc2"/><path d="M582,140.3 597,139.9 650,137 700,133.9 750,131.8 800,130.2 850,129 900,127.9 950,126.9 1000,126 1064,124.8 1064,132.1 1000,133 950,133.8 900,134.6 850,135.4 800,136.4 750,137.7 700,139.4 650,141.8 597,144.2 582,144.6 Z" fill="#58c9d4"/><path d="M582,144.1 597,143.8 650,141.3 700,138.8 750,137.1 800,135.8 850,134.7 900,133.9 950,133.1 1000,132.3 1064,131.4 1064,138.3 1000,139 950,139.6 900,140.2 850,140.9 800,141.7 750,142.7 700,144 650,145.9 597,147.8 582,148.2 Z" fill="#6ad0e2"/><path d="M582,147.7 597,147.4 650,145.4 700,143.4 750,142 800,141 850,140.2 900,139.5 950,138.8 1000,138.2 1064,137.5 1064,149 1000,149.4 950,149.7 900,150 850,150.4 800,150.8 750,151.3 700,152.1 650,153 597,154.2 582,154.5 Z" fill="#4fbdf0"/><path d="M582,154 597,153.7 650,152.5 700,151.5 750,150.7 800,150.1 850,149.7 900,149.3 950,148.9 1000,148.6 1064,148.2 1064,155.2 1000,155.3 950,155.5 900,155.6 850,155.8 800,156 750,156.3 700,156.7 650,157.1 597,157.8 582,158.1 Z" fill="#2ba8ec"/><path d="M582,157.6 597,157.3 650,156.6 700,156.1 750,155.7 800,155.4 850,155.1 900,154.9 950,154.7 1000,154.6 1064,154.4 1064,179 1000,178.3 950,177.9 900,177.4 850,176.9 800,176.3 750,175.5 700,174.5 650,172.8 597,171.8 582,172 Z" fill="#219be6"/><path d="M582,171.5 597,171.3 650,172.3 700,174 750,174.9 800,175.6 850,176.2 900,176.7 950,177.1 1000,177.6 1064,178.2 1064,182.8 1000,182.1 950,181.5 900,180.9 850,180.3 800,179.5 750,178.6 700,177.4 650,175.4 597,174.1 582,174.2 Z" fill="#2aa6ea"/><path d="M582,173.8 597,173.6 650,174.9 700,176.9 750,178 800,178.9 850,179.6 900,180.2 950,180.7 1000,181.3 1064,182 1064,190.5 1000,189.5 950,188.7 900,187.9 850,187 800,186.1 750,184.8 700,183.2 650,180.5 597,178.6 582,178.7 Z" fill="#37b2ec"/><path d="M582,178.3 597,178.1 650,179.9 700,182.6 750,184.2 800,185.4 850,186.4 900,187.2 950,188 1000,188.7 1064,189.7 1064,197.8 1000,196.5 950,195.6 900,194.6 850,193.5 800,192.3 750,190.7 700,188.7 650,185.3 597,182.9 582,183 Z" fill="#3fc4d0"/><path d="M582,182.8 597,182.6 650,185 700,188.4 750,190.4 800,191.9 850,193.2 900,194.2 950,195.2 1000,196.2 1064,197.4 1064,199.7 1000,198.4 950,197.4 900,196.3 850,195.2 800,193.9 750,192.3 700,190.1 650,186.6 597,184 582,184.1 Z" fill="#2db2ba"/></g>
<rect x="796.6" y="167" width="7.6" height="3.4" rx="1" fill="#1a80cf" opacity="0.53"/><rect x="851.7" y="159.6" width="5.6" height="3.9" rx="1" fill="#1a80cf" opacity="0.63"/><rect x="650.4" y="161.7" width="3.5" height="4.4" rx="1" fill="#1a80cf" opacity="0.59"/><rect x="629.1" y="171.4" width="7.8" height="4" rx="1" fill="#1a80cf" opacity="0.57"/><rect x="676.3" y="157.1" width="5.6" height="2.2" rx="1" fill="#1a80cf" opacity="0.42"/><rect x="710.7" y="157.1" width="5.3" height="3.3" rx="1" fill="#1a80cf" opacity="0.64"/><rect x="823.8" y="168.7" width="5.5" height="4" rx="1" fill="#1a80cf" opacity="0.51"/><rect x="725.5" y="174.4" width="8" height="4.5" rx="1" fill="#1a80cf" opacity="0.60"/><rect x="740.6" y="160.6" width="4.4" height="2.2" rx="1" fill="#1a80cf" opacity="0.62"/><rect x="775.4" y="172.4" width="4.9" height="4.9" rx="1" fill="#1a80cf" opacity="0.65"/><rect x="612.2" y="160.4" width="7.6" height="3.4" rx="1" fill="#1a80cf" opacity="0.69"/><rect x="774.1" y="157.5" width="6.1" height="4.3" rx="1" fill="#1a80cf" opacity="0.44"/><rect x="647.6" y="162.1" width="7.8" height="4.3" rx="1" fill="#1a80cf" opacity="0.39"/><rect x="712.5" y="158.4" width="3.3" height="4.4" rx="1" fill="#1a80cf" opacity="0.41"/><rect x="840.2" y="164.9" width="4" height="4.2" rx="1" fill="#1a80cf" opacity="0.40"/><rect x="874.6" y="158.1" width="5.1" height="2.6" rx="1" fill="#1a80cf" opacity="0.44"/><rect x="1008.1" y="173.3" width="4.5" height="4.7" rx="1" fill="#1a80cf" opacity="0.42"/><rect x="772.9" y="172.5" width="6.2" height="2.3" rx="1" fill="#1a80cf" opacity="0.70"/><rect x="699" y="161.2" width="6.9" height="3" rx="1" fill="#1a80cf" opacity="0.45"/><rect x="641.9" y="158.5" width="5.9" height="2.7" rx="1" fill="#1a80cf" opacity="0.56"/><rect x="763.7" y="164.8" width="7.8" height="3.5" rx="1" fill="#1a80cf" opacity="0.55"/><rect x="965.5" y="159.4" width="3.8" height="4.7" rx="1" fill="#1a80cf" opacity="0.64"/><rect x="713.8" y="159.9" width="6.7" height="4.8" rx="1" fill="#1a80cf" opacity="0.42"/><rect x="999.7" y="175" width="6" height="3.3" rx="1" fill="#1a80cf" opacity="0.39"/><rect x="627.8" y="171.1" width="4.2" height="4.1" rx="1" fill="#1a80cf" opacity="0.44"/><rect x="948.1" y="168.4" width="4.5" height="2.5" rx="1" fill="#1a80cf" opacity="0.60"/><rect x="640.1" y="160.6" width="5.8" height="4.6" rx="1" fill="#1a80cf" opacity="0.57"/><rect x="726.3" y="173" width="4" height="2" rx="1" fill="#1a80cf" opacity="0.44"/><rect x="793.8" y="157.2" width="3.9" height="3.1" rx="1" fill="#1a80cf" opacity="0.55"/><rect x="665.7" y="162.7" width="7.5" height="4.9" rx="1" fill="#1a80cf" opacity="0.58"/><rect x="894" y="167.9" width="3.7" height="2.1" rx="1" fill="#1a80cf" opacity="0.36"/><rect x="983.4" y="170.8" width="7.8" height="2.1" rx="1" fill="#1a80cf" opacity="0.57"/><rect x="808.8" y="170.4" width="4.6" height="5" rx="1" fill="#1a80cf" opacity="0.38"/><rect x="834.8" y="170.7" width="7.5" height="4.2" rx="1" fill="#1a80cf" opacity="0.60"/><rect x="935.7" y="175.2" width="4.8" height="4.1" rx="1" fill="#1a80cf" opacity="0.67"/><rect x="967.4" y="164.5" width="7" height="4.6" rx="1" fill="#1a80cf" opacity="0.55"/><rect x="867" y="163.6" width="5.9" height="3.8" rx="1" fill="#1a80cf" opacity="0.38"/><rect x="872.9" y="176.3" width="7.4" height="4.2" rx="1" fill="#1a80cf" opacity="0.49"/><rect x="911.9" y="167.9" width="5.2" height="4.5" rx="1" fill="#1a80cf" opacity="0.38"/><rect x="918.1" y="156.2" width="6" height="3.4" rx="1" fill="#1a80cf" opacity="0.43"/><rect x="896.9" y="166.1" width="6.1" height="4.8" rx="1" fill="#1a80cf" opacity="0.44"/><rect x="616.6" y="161.7" width="6.4" height="2.6" rx="1" fill="#1a80cf" opacity="0.41"/><rect x="981.5" y="169.9" width="5.2" height="4.7" rx="1" fill="#1a80cf" opacity="0.46"/><rect x="883.7" y="159.8" width="5.2" height="4.4" rx="1" fill="#1a80cf" opacity="0.67"/><rect x="971.1" y="163.8" width="5.9" height="2.9" rx="1" fill="#1a80cf" opacity="0.40"/><rect x="814.6" y="172.6" width="7.2" height="4.1" rx="1" fill="#1a80cf" opacity="0.68"/><rect x="724.9" y="159.5" width="5.3" height="2.8" rx="1" fill="#1a80cf" opacity="0.42"/><rect x="780.9" y="168.2" width="5.5" height="2.9" rx="1" fill="#1a80cf" opacity="0.64"/><rect x="1012.7" y="165.4" width="3.4" height="2.1" rx="1" fill="#1a80cf" opacity="0.66"/><rect x="628.9" y="167.5" width="5.9" height="2.9" rx="1" fill="#1a80cf" opacity="0.63"/><rect x="619.8" y="159.3" width="5.3" height="2.1" rx="1" fill="#1a80cf" opacity="0.64"/><rect x="708.9" y="159.1" width="3.2" height="3.9" rx="1" fill="#1a80cf" opacity="0.51"/><rect x="869" y="169.3" width="7" height="4.9" rx="1" fill="#1a80cf" opacity="0.59"/><rect x="693.3" y="164.9" width="3.9" height="2" rx="1" fill="#1a80cf" opacity="0.52"/><rect x="903.4" y="159.4" width="4.4" height="3" rx="1" fill="#1a80cf" opacity="0.59"/><rect x="824.3" y="168.2" width="6.8" height="3.2" rx="1" fill="#1a80cf" opacity="0.63"/><rect x="981.7" y="157.3" width="7.7" height="4.2" rx="1" fill="#1a80cf" opacity="0.40"/><rect x="797" y="168.3" width="7.5" height="3.1" rx="1" fill="#1a80cf" opacity="0.55"/><rect x="970.8" y="172.9" width="7.7" height="3.4" rx="1" fill="#1a80cf" opacity="0.58"/><rect x="695.6" y="169.1" width="7.1" height="3.9" rx="1" fill="#1a80cf" opacity="0.60"/><rect x="699" y="172.2" width="7.9" height="4.9" rx="1" fill="#1a80cf" opacity="0.54"/><rect x="934.6" y="162.4" width="7.5" height="4.6" rx="1" fill="#1a80cf" opacity="0.47"/><rect x="645.8" y="163.8" width="5.8" height="4.3" rx="1" fill="#1a80cf" opacity="0.52"/><rect x="623.6" y="168.8" width="3.3" height="4.4" rx="1" fill="#1a80cf" opacity="0.41"/><rect x="748.7" y="170.9" width="3.7" height="2.4" rx="1" fill="#1a80cf" opacity="0.53"/><rect x="907.2" y="173.4" width="6.4" height="4.8" rx="1" fill="#1a80cf" opacity="0.52"/><rect x="999.3" y="157.2" width="4.1" height="3.6" rx="1" fill="#1a80cf" opacity="0.45"/><rect x="909.4" y="169.1" width="5.6" height="4.5" rx="1" fill="#1a80cf" opacity="0.55"/><rect x="739.2" y="163.4" width="7.2" height="4.7" rx="1" fill="#1a80cf" opacity="0.42"/><rect x="959.1" y="176.5" width="5.6" height="3.7" rx="1" fill="#1a80cf" opacity="0.42"/><rect x="830.6" y="166" width="6" height="2.1" rx="1" fill="#1a80cf" opacity="0.69"/><rect x="822.5" y="163.9" width="7" height="3.7" rx="1" fill="#1a80cf" opacity="0.52"/><rect x="893.9" y="157" width="5.7" height="3.2" rx="1" fill="#1a80cf" opacity="0.68"/><rect x="988.8" y="161.3" width="5.4" height="2.4" rx="1" fill="#1a80cf" opacity="0.50"/><rect x="944.8" y="174.9" width="5.4" height="3" rx="1" fill="#1a80cf" opacity="0.42"/><rect x="864.1" y="174.8" width="3.6" height="4.3" rx="1" fill="#1a80cf" opacity="0.36"/><rect x="691.2" y="160.6" width="6.4" height="3" rx="1" fill="#1a80cf" opacity="0.47"/><rect x="864.9" y="157.9" width="6.7" height="2.4" rx="1" fill="#1a80cf" opacity="0.53"/><rect x="714.2" y="160.1" width="5.7" height="3.3" rx="1" fill="#1a80cf" opacity="0.48"/><rect x="780.7" y="166.3" width="3.8" height="2.6" rx="1" fill="#1a80cf" opacity="0.57"/><rect x="872.5" y="166.7" width="7.3" height="3.8" rx="1" fill="#1a80cf" opacity="0.65"/><rect x="706.9" y="169.6" width="7.1" height="4.7" rx="1" fill="#1a80cf" opacity="0.46"/><rect x="740.5" y="173.3" width="4.1" height="5" rx="1" fill="#1a80cf" opacity="0.66"/><rect x="666.6" y="160.8" width="6.6" height="2.8" rx="1" fill="#1a80cf" opacity="0.38"/><rect x="951.5" y="164.6" width="6.9" height="2.4" rx="1" fill="#1a80cf" opacity="0.49"/><rect x="891.6" y="156" width="4" height="4" rx="1" fill="#1a80cf" opacity="0.67"/><rect x="1007.1" y="157.9" width="5.5" height="4.3" rx="1" fill="#1a80cf" opacity="0.53"/><rect x="891.8" y="159.6" width="3.4" height="2.3" rx="1" fill="#1a80cf" opacity="0.36"/><rect x="837.1" y="166.2" width="5.8" height="2.4" rx="1" fill="#1a80cf" opacity="0.41"/><rect x="695.2" y="171.1" width="8" height="4.8" rx="1" fill="#1a80cf" opacity="0.38"/><circle cx="626.9" cy="178.6" r="1.2" fill="#fff" opacity="0.40"/><circle cx="642.1" cy="159.8" r="1.2" fill="#fff" opacity="0.66"/><circle cx="787.1" cy="169" r="0.7" fill="#fff" opacity="0.73"/><circle cx="617.8" cy="153.7" r="1.2" fill="#fff" opacity="0.62"/><circle cx="921.6" cy="160.1" r="0.9" fill="#fff" opacity="0.71"/><circle cx="641.2" cy="173.7" r="1" fill="#fff" opacity="0.89"/><circle cx="948.7" cy="175.2" r="2.4" fill="#fff" opacity="0.90"/><circle cx="1008.7" cy="168.6" r="0.9" fill="#fff" opacity="0.65"/><circle cx="1027.5" cy="181.1" r="1" fill="#fff" opacity="0.52"/><circle cx="650.6" cy="172.4" r="0.9" fill="#fff" opacity="0.84"/><circle cx="776.5" cy="182.2" r="1.5" fill="#fff" opacity="0.77"/><circle cx="933.8" cy="178.1" r="1.2" fill="#fff" opacity="0.47"/><circle cx="680.4" cy="175.5" r="1" fill="#fff" opacity="0.63"/><circle cx="604.6" cy="159" r="2" fill="#fff" opacity="0.89"/><circle cx="621.6" cy="156" r="2" fill="#fff" opacity="0.53"/><circle cx="694" cy="160.4" r="0.9" fill="#fff" opacity="0.67"/><circle cx="769.5" cy="186.6" r="2" fill="#fff" opacity="0.48"/><circle cx="652" cy="160" r="1.5" fill="#fff" opacity="0.36"/><circle cx="867.7" cy="176.2" r="1" fill="#fff" opacity="0.62"/><circle cx="819.6" cy="176.7" r="2" fill="#fff" opacity="0.58"/><circle cx="642.8" cy="154.9" r="1" fill="#fff" opacity="0.68"/><circle cx="820.9" cy="186.3" r="1.5" fill="#fff" opacity="0.86"/><circle cx="643.3" cy="161.7" r="2" fill="#fff" opacity="0.40"/><circle cx="859.9" cy="177.1" r="0.7" fill="#fff" opacity="0.58"/><circle cx="1008.3" cy="159" r="0.9" fill="#fff" opacity="0.86"/><circle cx="835.7" cy="169.1" r="1.2" fill="#fff" opacity="0.92"/><circle cx="783" cy="165.7" r="1.5" fill="#fff" opacity="0.54"/><circle cx="830.7" cy="163.8" r="1" fill="#fff" opacity="0.69"/><circle cx="723.3" cy="173.3" r="1" fill="#fff" opacity="0.37"/><circle cx="936" cy="169.1" r="2" fill="#fff" opacity="0.44"/><circle cx="928.3" cy="159.3" r="1" fill="#fff" opacity="0.80"/><circle cx="621.8" cy="179.6" r="1" fill="#fff" opacity="0.39"/><circle cx="993.9" cy="161.3" r="1.2" fill="#fff" opacity="0.50"/><circle cx="928.6" cy="142.1" r="0.7" fill="#fff" opacity="0.91"/><circle cx="914.4" cy="163.2" r="2.4" fill="#fff" opacity="0.50"/><circle cx="907.3" cy="142.6" r="1.2" fill="#fff" opacity="0.62"/><circle cx="688.6" cy="146.4" r="1.5" fill="#fff" opacity="0.44"/><circle cx="758" cy="148.6" r="1.2" fill="#fff" opacity="0.62"/><circle cx="714" cy="167.6" r="1.2" fill="#fff" opacity="0.57"/><circle cx="923.6" cy="180.5" r="0.9" fill="#fff" opacity="0.92"/><circle cx="919.4" cy="151.8" r="0.7" fill="#fff" opacity="0.65"/><circle cx="734.2" cy="164.6" r="2.4" fill="#fff" opacity="0.57"/><circle cx="718.1" cy="171.9" r="1.5" fill="#fff" opacity="0.77"/><circle cx="682.7" cy="155.4" r="0.9" fill="#fff" opacity="0.46"/><circle cx="708.3" cy="183.8" r="0.9" fill="#fff" opacity="0.88"/><circle cx="617.2" cy="149.2" r="1" fill="#fff" opacity="0.51"/><circle cx="611.7" cy="148.6" r="0.9" fill="#fff" opacity="0.67"/><circle cx="631.5" cy="149.6" r="2" fill="#fff" opacity="0.45"/><circle cx="702.1" cy="183.7" r="1.2" fill="#fff" opacity="0.64"/><circle cx="691.6" cy="157.9" r="2" fill="#fff" opacity="0.43"/><circle cx="978.3" cy="180.4" r="1.2" fill="#fff" opacity="0.84"/><circle cx="871.3" cy="177.6" r="0.9" fill="#fff" opacity="0.62"/><circle cx="925.1" cy="159.3" r="0.9" fill="#fff" opacity="0.57"/><circle cx="884.3" cy="188.5" r="1" fill="#fff" opacity="0.52"/><circle cx="930.2" cy="181.1" r="0.9" fill="#fff" opacity="0.61"/><circle cx="760.6" cy="146.7" r="1" fill="#fff" opacity="0.40"/><circle cx="636.1" cy="165.8" r="1.2" fill="#fff" opacity="0.84"/><circle cx="801.6" cy="179.3" r="0.7" fill="#fff" opacity="0.40"/><circle cx="692.8" cy="170.6" r="0.7" fill="#fff" opacity="0.77"/><circle cx="815.2" cy="176.8" r="1" fill="#fff" opacity="0.52"/><circle cx="662.2" cy="158.6" r="2" fill="#fff" opacity="0.55"/><circle cx="994.2" cy="155.7" r="1.2" fill="#fff" opacity="0.69"/><circle cx="999.6" cy="187.8" r="1" fill="#fff" opacity="0.61"/><circle cx="949.3" cy="155" r="1" fill="#fff" opacity="0.48"/><circle cx="1021" cy="177.1" r="1.5" fill="#fff" opacity="0.50"/><circle cx="757.3" cy="158.5" r="1" fill="#fff" opacity="0.76"/><circle cx="854.4" cy="178.8" r="2" fill="#fff" opacity="0.69"/><circle cx="946.7" cy="166.9" r="2.4" fill="#fff" opacity="0.70"/><circle cx="677.1" cy="148.2" r="1.2" fill="#fff" opacity="0.88"/><circle cx="722.4" cy="144.3" r="1.5" fill="#fff" opacity="0.38"/><circle cx="669" cy="156.2" r="0.7" fill="#fff" opacity="0.74"/><circle cx="949.9" cy="142.8" r="1.5" fill="#fff" opacity="0.53"/><circle cx="837.3" cy="156.8" r="1" fill="#fff" opacity="0.79"/><circle cx="991.1" cy="143.4" r="2" fill="#fff" opacity="0.74"/><circle cx="642.4" cy="174.6" r="1.2" fill="#fff" opacity="0.50"/><circle cx="695.9" cy="174.8" r="1.5" fill="#fff" opacity="0.55"/><circle cx="799.7" cy="157.7" r="2.4" fill="#fff" opacity="0.93"/><circle cx="892.5" cy="164.4" r="1.5" fill="#fff" opacity="0.83"/><circle cx="631.5" cy="167.5" r="0.7" fill="#fff" opacity="0.60"/><circle cx="959.4" cy="173.3" r="2.4" fill="#fff" opacity="0.35"/><circle cx="764.4" cy="146.3" r="1.2" fill="#fff" opacity="0.92"/><circle cx="878.5" cy="165.9" r="2" fill="#fff" opacity="0.36"/><circle cx="647.8" cy="178.6" r="0.9" fill="#fff" opacity="0.50"/><circle cx="670.6" cy="169" r="2" fill="#fff" opacity="0.45"/><circle cx="688.9" cy="161.1" r="1" fill="#fff" opacity="0.51"/><circle cx="985.4" cy="163.5" r="2" fill="#fff" opacity="0.42"/><circle cx="881.9" cy="178.1" r="0.9" fill="#fff" opacity="0.90"/><circle cx="927.6" cy="140.7" r="1.2" fill="#fff" opacity="0.90"/><circle cx="615.8" cy="150.8" r="0.9" fill="#fff" opacity="0.57"/><circle cx="855.9" cy="169.4" r="1.2" fill="#fff" opacity="0.71"/><circle cx="697.4" cy="151.5" r="1" fill="#fff" opacity="0.59"/><circle cx="996.1" cy="187.7" r="2" fill="#fff" opacity="0.68"/><circle cx="955.5" cy="163.8" r="1" fill="#fff" opacity="0.64"/><circle cx="775.1" cy="184.8" r="2" fill="#fff" opacity="0.68"/><circle cx="1016.3" cy="164.1" r="0.9" fill="#fff" opacity="0.59"/><circle cx="694.6" cy="149.5" r="2.4" fill="#fff" opacity="0.58"/><circle cx="829.5" cy="165.3" r="1" fill="#fff" opacity="0.82"/><circle cx="625.2" cy="177.6" r="0.7" fill="#fff" opacity="0.87"/><circle cx="993.8" cy="162.4" r="0.9" fill="#fff" opacity="0.78"/><circle cx="863.6" cy="148.2" r="0.9" fill="#fff" opacity="0.81"/><circle cx="663" cy="178.9" r="2.4" fill="#fff" opacity="0.66"/><circle cx="877.1" cy="188.6" r="1" fill="#fff" opacity="0.66"/><circle cx="623" cy="165.9" r="0.9" fill="#fff" opacity="0.35"/><circle cx="957.3" cy="182.4" r="2.4" fill="#fff" opacity="0.43"/><circle cx="753" cy="169.4" r="1.5" fill="#fff" opacity="0.41"/><circle cx="808.8" cy="163.1" r="2" fill="#fff" opacity="0.70"/><circle cx="972.9" cy="154.8" r="2.4" fill="#fff" opacity="0.46"/><circle cx="684" cy="171.2" r="2.4" fill="#fff" opacity="0.85"/><circle cx="690.7" cy="165.8" r="1.5" fill="#fff" opacity="0.65"/><circle cx="1011.8" cy="189.3" r="1" fill="#fff" opacity="0.54"/><circle cx="633.1" cy="157" r="1.2" fill="#fff" opacity="0.75"/><circle cx="629.2" cy="149.2" r="0.9" fill="#fff" opacity="0.41"/><circle cx="771.5" cy="162.7" r="2.4" fill="#fff" opacity="0.85"/><circle cx="884.5" cy="141" r="1.2" fill="#fff" opacity="0.78"/><circle cx="806.7" cy="155" r="0.7" fill="#fff" opacity="0.62"/><circle cx="604.6" cy="179.2" r="2.4" fill="#fff" opacity="0.78"/><circle cx="992.2" cy="146.9" r="2" fill="#fff" opacity="0.58"/><circle cx="834.8" cy="155.1" r="1" fill="#fff" opacity="0.80"/><circle cx="841.7" cy="145.1" r="0.9" fill="#fff" opacity="0.47"/><circle cx="918.2" cy="156.3" r="1" fill="#fff" opacity="0.69"/><circle cx="914.8" cy="156.4" r="2.4" fill="#fff" opacity="0.58"/><circle cx="644.3" cy="167.9" r="0.9" fill="#fff" opacity="0.76"/><circle cx="908.1" cy="149" r="1.2" fill="#fff" opacity="0.37"/><circle cx="801.5" cy="173.8" r="0.7" fill="#fff" opacity="0.49"/><circle cx="668.3" cy="149.8" r="1.2" fill="#fff" opacity="0.81"/><circle cx="748.6" cy="178.4" r="1.5" fill="#fff" opacity="0.43"/><circle cx="689.4" cy="150.2" r="2" fill="#fff" opacity="0.58"/><circle cx="744.2" cy="160.6" r="0.7" fill="#fff" opacity="0.79"/><circle cx="866.7" cy="155.9" r="2.4" fill="#fff" opacity="0.82"/><circle cx="887.2" cy="170" r="0.7" fill="#fff" opacity="0.51"/><circle cx="682.1" cy="156.5" r="1.2" fill="#fff" opacity="0.41"/><circle cx="764.3" cy="164.8" r="2.4" fill="#fff" opacity="0.53"/><circle cx="644.7" cy="171.1" r="1" fill="#fff" opacity="0.81"/><circle cx="992.8" cy="167.4" r="1" fill="#fff" opacity="0.72"/><circle cx="823.3" cy="168" r="0.9" fill="#fff" opacity="0.94"/><circle cx="824.5" cy="174.6" r="2.4" fill="#fff" opacity="0.91"/><circle cx="846.8" cy="142.2" r="2" fill="#fff" opacity="0.47"/><circle cx="636.2" cy="154.8" r="1.5" fill="#fff" opacity="0.60"/><circle cx="745.1" cy="146.7" r="2.4" fill="#fff" opacity="0.57"/><circle cx="801.4" cy="147.3" r="2" fill="#fff" opacity="0.43"/><circle cx="993.3" cy="167.2" r="1.5" fill="#fff" opacity="0.39"/><circle cx="998.1" cy="147.7" r="2" fill="#fff" opacity="0.95"/><circle cx="955.6" cy="170" r="0.7" fill="#fff" opacity="0.91"/><circle cx="601.7" cy="169.5" r="1" fill="#fff" opacity="0.49"/><circle cx="849.5" cy="180.4" r="0.9" fill="#fff" opacity="0.71"/><circle cx="952.9" cy="162.5" r="1.2" fill="#fff" opacity="0.46"/><circle cx="1029.3" cy="188.3" r="2" fill="#fff" opacity="0.43"/><circle cx="928.9" cy="182.2" r="1.2" fill="#fff" opacity="0.72"/><circle cx="878.5" cy="177.5" r="0.9" fill="#fff" opacity="0.47"/><circle cx="803.6" cy="148.2" r="1.2" fill="#fff" opacity="0.42"/><circle cx="776.5" cy="157.1" r="0.9" fill="#fff" opacity="0.51"/><circle cx="847.1" cy="156.7" r="2" fill="#fff" opacity="0.82"/><circle cx="913.9" cy="179" r="1.2" fill="#fff" opacity="0.93"/><circle cx="861" cy="163.2" r="1.2" fill="#fff" opacity="0.89"/><circle cx="997.2" cy="168.3" r="1.2" fill="#fff" opacity="0.80"/><circle cx="811.3" cy="187.4" r="2.4" fill="#fff" opacity="0.89"/><circle cx="900.3" cy="180.7" r="0.7" fill="#fff" opacity="0.69"/><circle cx="993.8" cy="166.3" r="1.5" fill="#fff" opacity="0.66"/><circle cx="782.9" cy="143.1" r="0.7" fill="#fff" opacity="0.53"/><circle cx="868.1" cy="161.5" r="1.2" fill="#fff" opacity="0.71"/><circle cx="927.1" cy="155" r="1.5" fill="#fff" opacity="0.88"/><circle cx="706.3" cy="178.2" r="0.9" fill="#fff" opacity="0.65"/><circle cx="772.6" cy="144.5" r="2" fill="#fff" opacity="0.41"/><circle cx="995.8" cy="167.3" r="2" fill="#fff" opacity="0.59"/><circle cx="702.6" cy="146.7" r="2" fill="#fff" opacity="0.93"/><circle cx="889.6" cy="182.6" r="1.2" fill="#fff" opacity="0.69"/><circle cx="671.4" cy="169.6" r="1.2" fill="#fff" opacity="0.69"/><circle cx="993" cy="144.1" r="2.4" fill="#fff" opacity="0.43"/><circle cx="983.7" cy="168.8" r="1.2" fill="#fff" opacity="0.35"/><circle cx="706.1" cy="156" r="1" fill="#fff" opacity="0.45"/><circle cx="791.7" cy="162.2" r="1.5" fill="#fff" opacity="0.59"/><circle cx="755.1" cy="168.1" r="0.7" fill="#fff" opacity="0.53"/><circle cx="797.9" cy="156" r="1" fill="#fff" opacity="0.65"/><circle cx="1006.3" cy="189.9" r="1.2" fill="#fff" opacity="0.88"/><circle cx="688.2" cy="178.3" r="2" fill="#fff" opacity="0.89"/><circle cx="685" cy="177.3" r="1" fill="#fff" opacity="0.89"/><circle cx="607" cy="167.9" r="2" fill="#fff" opacity="0.95"/><circle cx="687.9" cy="169.3" r="0.9" fill="#fff" opacity="0.92"/><circle cx="1024.7" cy="172.9" r="1" fill="#fff" opacity="0.79"/><circle cx="736.1" cy="181.4" r="2.4" fill="#fff" opacity="0.60"/><circle cx="982.4" cy="156.4" r="2.4" fill="#fff" opacity="0.62"/><circle cx="634.4" cy="154.1" r="1" fill="#fff" opacity="0.42"/><circle cx="900.6" cy="153.4" r="2" fill="#fff" opacity="0.49"/><circle cx="889.1" cy="178.9" r="1" fill="#fff" opacity="0.83"/><circle cx="828.1" cy="146.6" r="1.5" fill="#fff" opacity="0.49"/><circle cx="730.9" cy="182.3" r="2" fill="#fff" opacity="0.49"/><circle cx="657.7" cy="169.9" r="1.2" fill="#fff" opacity="0.94"/><circle cx="791.5" cy="165.8" r="1.5" fill="#fff" opacity="0.89"/><circle cx="603" cy="166.3" r="1.5" fill="#fff" opacity="0.50"/><circle cx="949.4" cy="144" r="1" fill="#fff" opacity="0.94"/><circle cx="682.4" cy="151.6" r="2" fill="#fff" opacity="0.68"/><circle cx="681.1" cy="179.4" r="0.7" fill="#fff" opacity="0.72"/><circle cx="998.6" cy="169.4" r="0.7" fill="#fff" opacity="0.91"/><circle cx="817.5" cy="149.7" r="1.5" fill="#fff" opacity="0.82"/><circle cx="995.7" cy="155.7" r="1.2" fill="#fff" opacity="0.82"/><circle cx="824.8" cy="164.8" r="2.4" fill="#fff" opacity="0.73"/><circle cx="1027.8" cy="177.9" r="1.5" fill="#fff" opacity="0.45"/><circle cx="939.1" cy="148" r="1.5" fill="#fff" opacity="0.61"/><circle cx="890.8" cy="167.1" r="1" fill="#fff" opacity="0.82"/><circle cx="944.1" cy="151.5" r="1.2" fill="#fff" opacity="0.68"/><circle cx="970.9" cy="170.2" r="1" fill="#fff" opacity="0.37"/><circle cx="859.6" cy="174.9" r="1.5" fill="#fff" opacity="0.62"/><circle cx="983.1" cy="155.9" r="1.5" fill="#fff" opacity="0.36"/><circle cx="815.8" cy="161.5" r="1.2" fill="#fff" opacity="0.78"/><circle cx="972.7" cy="140.9" r="0.7" fill="#fff" opacity="0.89"/><circle cx="847.5" cy="166.7" r="2.4" fill="#fff" opacity="0.78"/><circle cx="871.1" cy="143.2" r="1.2" fill="#fff" opacity="0.38"/><circle cx="736.7" cy="169.5" r="1.5" fill="#fff" opacity="0.82"/><circle cx="932.9" cy="164.7" r="2" fill="#fff" opacity="0.84"/><circle cx="674.6" cy="154.6" r="0.9" fill="#fff" opacity="0.65"/><ellipse cx="875.3" cy="144.3" rx="2.3" ry="1.5" fill="#fff" opacity="0.94"/><ellipse cx="631.6" cy="149.5" rx="2.8" ry="1.8" fill="#fff" opacity="0.95"/><ellipse cx="616.3" cy="172.8" rx="2.2" ry="1.7" fill="#fff" opacity="0.72"/><ellipse cx="628.5" cy="152.5" rx="2.2" ry="1.4" fill="#fff" opacity="0.91"/><ellipse cx="780.2" cy="179" rx="2.1" ry="1.4" fill="#fff" opacity="0.85"/><ellipse cx="1007.9" cy="187.3" rx="3.1" ry="1.5" fill="#fff" opacity="0.91"/><ellipse cx="984.5" cy="142.5" rx="2.3" ry="1.5" fill="#fff" opacity="0.84"/><ellipse cx="679.7" cy="146.1" rx="2.5" ry="1.7" fill="#fff" opacity="0.86"/><ellipse cx="686.7" cy="147.7" rx="2.8" ry="1.6" fill="#fff" opacity="0.77"/><ellipse cx="622.3" cy="174.7" rx="2.8" ry="1.5" fill="#fff" opacity="0.79"/><ellipse cx="675.6" cy="179.4" rx="3" ry="1.4" fill="#fff" opacity="0.95"/><ellipse cx="946.3" cy="147" rx="2.9" ry="1.8" fill="#fff" opacity="0.71"/><ellipse cx="770.6" cy="177.6" rx="2" ry="1.5" fill="#fff" opacity="0.80"/><ellipse cx="804.1" cy="145.7" rx="2.8" ry="1.9" fill="#fff" opacity="0.74"/><ellipse cx="695.9" cy="149" rx="2.5" ry="1.6" fill="#fff" opacity="0.73"/><ellipse cx="761.3" cy="182.7" rx="2.7" ry="1.8" fill="#fff" opacity="0.90"/><ellipse cx="1000.4" cy="141.6" rx="2.6" ry="1.6" fill="#fff" opacity="0.73"/><ellipse cx="921" cy="146.6" rx="2" ry="1.7" fill="#fff" opacity="0.82"/><ellipse cx="982.6" cy="145.4" rx="2.1" ry="2" fill="#fff" opacity="0.79"/><ellipse cx="896.4" cy="144.6" rx="2.5" ry="1.5" fill="#fff" opacity="0.91"/><ellipse cx="736.9" cy="149.7" rx="3.1" ry="1.5" fill="#fff" opacity="0.79"/><ellipse cx="949.5" cy="142.2" rx="1.8" ry="1.6" fill="#fff" opacity="0.92"/><ellipse cx="838.5" cy="146.4" rx="2.3" ry="1.6" fill="#fff" opacity="0.92"/><ellipse cx="627.3" cy="150.9" rx="2.7" ry="1.7" fill="#fff" opacity="0.80"/><ellipse cx="724.1" cy="149.6" rx="1.9" ry="1.4" fill="#fff" opacity="0.83"/><ellipse cx="736.9" cy="145.6" rx="2.2" ry="1.5" fill="#fff" opacity="0.76"/><ellipse cx="820.6" cy="177.2" rx="2.5" ry="1.9" fill="#fff" opacity="0.84"/><ellipse cx="861.6" cy="147.5" rx="2.2" ry="1.4" fill="#fff" opacity="0.70"/><ellipse cx="933.2" cy="141.5" rx="3" ry="1.4" fill="#fff" opacity="0.86"/><ellipse cx="808.8" cy="179.3" rx="2.7" ry="1.7" fill="#fff" opacity="0.86"/><ellipse cx="758.1" cy="147.8" rx="3.2" ry="2" fill="#fff" opacity="0.92"/><ellipse cx="737.5" cy="149.2" rx="2" ry="2.1" fill="#fff" opacity="0.92"/><ellipse cx="636.1" cy="149.4" rx="2.2" ry="1.9" fill="#fff" opacity="0.79"/><ellipse cx="884.7" cy="179.6" rx="3" ry="1.8" fill="#fff" opacity="0.81"/><circle cx="524.5" cy="165.1" r="1.1" fill="#fff" opacity="0.80"/><circle cx="382.6" cy="161.8" r="1.1" fill="#fff" opacity="0.52"/><circle cx="397.1" cy="157.4" r="0.8" fill="#fff" opacity="0.53"/><circle cx="418.1" cy="159.9" r="1.4" fill="#fff" opacity="0.59"/><circle cx="517.7" cy="156.6" r="0.8" fill="#fff" opacity="0.76"/><circle cx="380.9" cy="158.1" r="1.1" fill="#fff" opacity="0.58"/><circle cx="483.4" cy="167.8" r="1.4" fill="#fff" opacity="0.57"/><circle cx="358.5" cy="163.7" r="1.4" fill="#fff" opacity="0.49"/><circle cx="368.4" cy="162.6" r="1.1" fill="#fff" opacity="0.51"/><circle cx="528.1" cy="161.3" r="0.8" fill="#fff" opacity="0.89"/><circle cx="447" cy="165.8" r="1.1" fill="#fff" opacity="0.80"/><circle cx="387.8" cy="159.5" r="0.6" fill="#fff" opacity="0.68"/><circle cx="570.8" cy="170.4" r="1.4" fill="#fff" opacity="0.46"/><circle cx="431" cy="156.6" r="0.8" fill="#fff" opacity="0.54"/><circle cx="449.6" cy="160.5" r="0.6" fill="#fff" opacity="0.64"/><circle cx="441.3" cy="159.7" r="0.6" fill="#fff" opacity="0.48"/><circle cx="353.7" cy="165.9" r="0.6" fill="#fff" opacity="0.40"/><circle cx="434.1" cy="158.2" r="0.8" fill="#fff" opacity="0.90"/><circle cx="451.7" cy="156.3" r="1.1" fill="#fff" opacity="0.80"/><circle cx="448.6" cy="156.8" r="1.1" fill="#fff" opacity="0.54"/><circle cx="581.1" cy="170.2" r="1.4" fill="#fff" opacity="0.69"/><circle cx="581.6" cy="153.5" r="0.6" fill="#fff" opacity="0.87"/><circle cx="483.5" cy="165.8" r="1.1" fill="#fff" opacity="0.58"/><circle cx="535.9" cy="159.4" r="1.4" fill="#fff" opacity="0.41"/><circle cx="403.3" cy="168.8" r="0.6" fill="#fff" opacity="0.78"/><circle cx="416.6" cy="159.9" r="1.4" fill="#fff" opacity="0.60"/><circle cx="548" cy="169" r="0.6" fill="#fff" opacity="0.87"/><circle cx="469.6" cy="168.2" r="1.4" fill="#fff" opacity="0.53"/><circle cx="574" cy="153.2" r="0.8" fill="#fff" opacity="0.51"/><circle cx="446.8" cy="161.2" r="1.1" fill="#fff" opacity="0.81"/><circle cx="441" cy="165" r="1.1" fill="#fff" opacity="0.56"/><circle cx="368.3" cy="164.9" r="0.6" fill="#fff" opacity="0.53"/><circle cx="404.1" cy="159.3" r="0.6" fill="#fff" opacity="0.77"/><circle cx="485.3" cy="165.9" r="0.8" fill="#fff" opacity="0.57"/><circle cx="390" cy="161.7" r="0.8" fill="#fff" opacity="0.62"/><circle cx="354.3" cy="163.3" r="1.4" fill="#fff" opacity="0.45"/><circle cx="584" cy="169.8" r="0.8" fill="#fff" opacity="0.41"/><circle cx="394.6" cy="158.1" r="0.6" fill="#fff" opacity="0.69"/><circle cx="430.5" cy="162.8" r="0.8" fill="#fff" opacity="0.65"/><circle cx="542.4" cy="170.1" r="1.1" fill="#fff" opacity="0.43"/><circle cx="447.2" cy="169.1" r="0.8" fill="#fff" opacity="0.79"/><circle cx="480.1" cy="155.3" r="1.4" fill="#fff" opacity="0.86"/><circle cx="365.5" cy="164.5" r="1.1" fill="#fff" opacity="0.84"/><circle cx="561" cy="165.3" r="0.6" fill="#fff" opacity="0.46"/><circle cx="532.2" cy="167.3" r="1.4" fill="#fff" opacity="0.73"/><circle cx="454.3" cy="161.4" r="0.8" fill="#fff" opacity="0.59"/><circle cx="484" cy="155.7" r="0.6" fill="#fff" opacity="0.66"/><circle cx="462.2" cy="159.8" r="0.6" fill="#fff" opacity="0.70"/><circle cx="579.3" cy="155.7" r="1.4" fill="#fff" opacity="0.56"/><circle cx="414.5" cy="164.7" r="0.8" fill="#fff" opacity="0.77"/><circle cx="593.4" cy="160.7" r="0.8" fill="#fff" opacity="0.78"/><circle cx="571" cy="155.1" r="0.8" fill="#fff" opacity="0.82"/><circle cx="510.4" cy="170.4" r="0.6" fill="#fff" opacity="0.80"/><circle cx="476.8" cy="170.7" r="0.6" fill="#fff" opacity="0.49"/><circle cx="361.3" cy="161.6" r="1.1" fill="#fff" opacity="0.63"/><circle cx="482.9" cy="168.8" r="0.8" fill="#fff" opacity="0.64"/><circle cx="586.7" cy="157.4" r="0.6" fill="#fff" opacity="0.68"/><circle cx="544.1" cy="162.7" r="0.8" fill="#fff" opacity="0.44"/><circle cx="473.2" cy="156.2" r="0.6" fill="#fff" opacity="0.80"/><circle cx="389" cy="161.7" r="0.6" fill="#fff" opacity="0.57"/><circle cx="578.6" cy="172" r="0.8" fill="#fff" opacity="0.82"/><circle cx="380.6" cy="159.7" r="1.4" fill="#fff" opacity="0.42"/><circle cx="518.4" cy="162.3" r="1.4" fill="#fff" opacity="0.44"/><circle cx="593" cy="156.6" r="1.1" fill="#fff" opacity="0.84"/><circle cx="529.5" cy="157.4" r="1.4" fill="#fff" opacity="0.59"/><circle cx="551.2" cy="166.6" r="1.1" fill="#fff" opacity="0.73"/><circle cx="402.9" cy="159.6" r="0.8" fill="#fff" opacity="0.49"/><circle cx="493.7" cy="155.5" r="1.1" fill="#fff" opacity="0.46"/><circle cx="581.6" cy="165" r="1.1" fill="#fff" opacity="0.55"/><circle cx="354" cy="159" r="0.8" fill="#fff" opacity="0.77"/>
<rect x="1012" y="120" width="52.5" height="84" fill="url(#jetfade)" clip-path="url(#jetclip)"/>
<ellipse cx="1064" cy="162" rx="40" ry="62" fill="url(#core)"/>
<path d="M1046,166.9L1034.8,174.1M1030.4,196.1L1026,202.7M1045.6,197.9L1043.6,208.7M1061.7,178.2L1069.6,190.4M1074.9,131.6L1079.9,124.6M1026.3,184.9L1017.2,192.6M1070.7,163.3L1083.9,163.6M1085.4,158.2L1091.4,157.3M1080.2,172.8L1091.5,176.7M1068.4,184.8L1073.6,191.6M1055.4,160.2L1061.4,155.1M1054.2,158.4L1056.8,153.2M1060.6,150.6L1064,145.7M1069.6,166.4L1081.3,168.7M1065.3,168L1074,171.2M1075.7,128.1L1079.9,122M1057.1,164.4L1062.8,166M1065.5,151.5L1071.8,146.1M1066.3,174.1L1077.4,182.7M1036.9,176.2L1030.7,181.7M1054.3,168.7L1058.6,179.6M1059.5,165.5L1074,170.3M1063.6,181.2L1066.8,186.3M1065.5,155.9L1077.9,149.3M1077.9,176.1L1088.3,181.4M1073.7,179L1085.9,187.9M1048.6,165.9L1041.2,172.1M1057.3,160.4L1069.7,154.2M1087.5,167.8L1100.2,169.5M1045.1,161.4L1035.6,159.2M1058.7,178.3L1061.2,184M1072.3,137.8L1078.9,129.7M1066.9,173.4L1072.5,177.3M1080.3,184.8L1089.9,192.3M1048.8,163.7L1042.7,165.1M1069,163.7L1076.2,163.9M1061.4,183.2L1065.3,191.5M1055.9,197L1057.4,209.7M1070.8,150L1081,142.9M1056.4,169.4L1060.5,175.3M1057.9,157.3L1063.7,151.7M1076.1,168.9L1082.2,170.4M1073.1,150.2L1085,142.9M1061.6,150.1L1065.4,144.9M1051.5,157.2L1050.8,147.9M1055.1,165.4L1060.7,169.9M1065.8,144.4L1074.1,133.2M1055,164.8L1064.8,170.6M1079.6,165.3L1094.2,166.6M1057.4,159.5L1067.9,152.5M1074.1,152.5L1084.8,147.5M1066.3,188L1070,194.6M1059.8,176.2L1067.1,188.3M1093.1,158.8L1104.5,157.6M1059.2,146L1061.6,140.4M1057.5,175L1063.5,188M1034.2,129.8L1028.5,119.2M1070,142.7L1079.1,132.3M1074.7,179.9L1079.6,183.6M1054.4,153.7L1056.8,144.5M1054.8,166.4L1064.2,178.1M1031.4,179.7L1019.7,189.1M1072.8,156.4L1079.1,154.5M1043.4,181.6L1041.1,186.5M1079.6,194.4L1085.3,201M1071.6,186.6L1074.9,190.7M1092.1,149.6L1102.3,146.2M1066.6,154.8L1075.6,149.7M1067.1,159.6L1073.7,158.1M1080.3,176.9L1090.2,181.8M1061,157.8L1070.8,152.1M1074.5,135.8L1078.4,131.1M1066,137.2L1073.2,124.1M1062,175.6L1068.4,183.7M1082,165.9L1094.8,167.1M1085.7,179.7L1094.8,184.2M1062.3,162.1L1073.4,161.2M1090.1,151.2L1097.6,148.9M1077.1,172.8L1089.8,177.8M1060.4,157.7L1065.8,154.3M1080.8,184.3L1086.3,188.4M1044.1,143.9L1041.7,138.2M1075,184.2L1082.3,191M1040.7,153.6L1031.6,146.1M1071.8,160.5L1078.5,159.7M1072.7,149.9L1079.7,145.4M1081,150.6L1093.8,145.1M1041.1,181.2L1038.2,186.1M1050.1,157.4L1046,145.7M1072,163.5L1077.4,163.6M1070.5,138.8L1078.7,128.1M1070.4,165.6L1081.4,167.1M1049.7,136.9L1049.2,131.9M1033.2,156.2L1025.1,153.3M1060.4,157.3L1069,151.6M1032.9,166.7L1025.6,168.1M1074.9,133.6L1083,123.3M1064.5,181.7L1070.6,190.7M1052.1,174.3L1052.1,182.7M1082.2,172.6L1089,174.8M1070.2,171L1083.9,177M1019.2,152L1006.3,147.7M1075.1,132.3L1079.1,127M1067.9,157.4L1075.5,154.7M1088.3,159.3L1093.5,158.7M1069.4,193L1071.9,197.4M1058.8,157L1069.1,147.8M1048.3,163.1L1043.3,163.2M1059,160.8L1072.7,156.6M1053.9,167.4L1057.7,176.2M1068.4,197.4L1071,202.8M1063.3,186.7L1067.1,194.8M1087.9,156.4L1093.6,155.4M1054.3,166.5L1058.8,173.1M1087,171.3L1097.3,173.7M1056.8,172.1L1063,183.6M1069.2,139.5L1074.4,132.3M1045.3,160.4L1039.9,158.3M1058.6,156.3L1065.3,149.6M1047.2,181L1045.1,189.1M1068,170.8L1078.9,176.1M1071.5,148L1075.4,145M1041,179.8L1037.8,184.7M1067.9,156.9L1076.7,153.6M1055,157.8L1058.2,152.4M1060.6,161.3L1066.9,160M1065.9,165.2L1078,167.1M1080.4,139.3L1088.7,132.5M1056.9,163L1065,162.9M1069.8,148.9L1073.9,145.7M1076.5,193L1082.6,200.4M1044.6,164L1031.3,165.9M1073.3,168.3L1080.2,170.1M1066.8,196.9L1070.3,205.2M1057.7,179.7L1062,192.2M1073.1,130.3L1077.7,123.2M1072.6,190.4L1076.8,196.1M1074.9,138.8L1079,134.5M1037.6,172.7L1025.7,180.6M1089.7,172.8L1094.7,174M1074,152.6L1085.3,147.2M1053.6,160.3L1056.1,156.2M1061.5,180L1065.2,186.5M1064.6,161.2L1071.6,160.2M1092.9,155.1L1102,153.3M1067.4,136.1L1072.5,127.2M1058.7,176L1061.8,181.9M1069.8,196.5L1074.7,205.9M1059.3,143.4L1061.8,136.9M1071.6,178.6L1082.3,187.2M1075.9,182.6L1086.5,191.3M1068.3,154.9L1079.3,149.4M1065,190.5L1071.4,204.1M1085.7,163.9L1100.6,164.4M1076.5,194.3L1081.8,201.1M1069.3,139.2L1074.7,131.7M1079.5,139.4L1083.5,136M1038.5,147.8L1033.5,142.2" stroke="#e4f2fa" stroke-width="1" fill="none" opacity="0.6" filter="url(#bl2)"/>
</g>


<!-- dotted lines -->
<path d="M345,80.4V249" stroke="#585858" stroke-width="3.6" stroke-dasharray="4.4 4.4" stroke-dashoffset="2.1" fill="none"/>
<path d="M604.7,80.4V249" stroke="#585858" stroke-width="3.6" stroke-dasharray="4.4 4.4" stroke-dashoffset="2.1" fill="none"/>

<!-- pointers -->
<polygon points="150,166 149.3,296 119.5,296" fill="#ececec" opacity="0.93"/>
<polygon points="473,164.5 487.2,296 458.7,296" fill="#d6e9f8" opacity="0.95"/>
<polygon points="1054,165 963,296 913.8,296" fill="#d6e9f8" opacity="0.93"/>

<!-- title & labels -->
<text class="t" x="16.1" y="49" font-size="36.3" fill="#149fdf" stroke="#149fdf" stroke-width="0.35" textLength="587" lengthAdjust="spacingAndGlyphs">Mechanism of Ultrasonic Technology</text>
<text class="t" x="22.5" y="327" font-size="20.5" fill="#111" textLength="277" lengthAdjust="spacingAndGlyphs">Increases speed of water flow</text>
<text class="t" x="357" y="327" font-size="20.5" fill="#111" textLength="228.5" lengthAdjust="spacingAndGlyphs">Generates microbubbles</text>
<text class="t" x="794" y="327" font-size="20.5" fill="#111" textLength="198" lengthAdjust="spacingAndGlyphs">Removes food debris</text>
<text class="t" x="971" y="395.3" font-size="26" font-weight="bold" fill="#1f98c1" stroke="#1f98c1" stroke-width="0.45" textLength="179" lengthAdjust="spacingAndGlyphs">Shock wave from</text>
<text class="t" x="971" y="421.6" font-size="26" font-weight="bold" fill="#1f98c1" stroke="#1f98c1" stroke-width="0.45" textLength="161.5" lengthAdjust="spacingAndGlyphs">broken bubbles</text>

<!-- box 1 diagram -->
<g id="d1">
<rect x="54.3" y="374" width="57.2" height="60.3" fill="url(#wv)"/>
<rect x="209" y="374" width="57" height="60.3" fill="url(#wv)"/>
<rect x="111" y="389.4" width="98.4" height="29.4" fill="url(#wv2)"/>
<rect x="54.3" y="374" width="16" height="60.3" fill="url(#lf)"/>
<rect x="111.4" y="374" width="97.6" height="15.4" fill="#7d7d7d"/>
<rect x="111.4" y="418.8" width="97.6" height="15.5" fill="#7d7d7d"/>
<path d="M54.3,374H111.4V389.4H209V374H266 M54.3,434.3H111.4V418.8H209V434.3H266" fill="none" stroke="#2a2a2a" stroke-width="1.3"/>
<polygon points="71.4,396.3 91.8,396.3 91.8,388 102,404 91.8,419.8 91.8,411.5 71.4,411.5" fill="#fff"/>
<polygon points="176,396.3 252,396.3 252,388 263,404 252,419.8 252,411.5 176,411.5" fill="url(#arr2)"/>
</g>

<!-- box 2 diagram -->
<g id="d2">
<use href="#bub" transform="translate(369,406.5) scale(1)"/><use href="#bub" transform="translate(436.3,386.9) scale(1)"/><use href="#bub" transform="translate(462.8,403.2) scale(1)"/><use href="#bub" transform="translate(438.3,420.7) scale(1)"/><use href="#bub" transform="translate(533,359.5) scale(1)"/><use href="#bub" transform="translate(565.6,360.4) scale(1)"/><use href="#bub" transform="translate(547.2,377.9) scale(1)"/><use href="#bub" transform="translate(525.2,386.9) scale(1)"/><use href="#bub" transform="translate(568,393.4) scale(1)"/><use href="#bub" transform="translate(542.3,402.4) scale(1)"/><use href="#bub" transform="translate(522.7,418.7) scale(1)"/><use href="#bub" transform="translate(547.6,424.8) scale(1)"/><use href="#bub" transform="translate(572.9,421.5) scale(1)"/><use href="#bub" transform="translate(530.9,445.2) scale(1)"/><use href="#bub" transform="translate(563.5,447.2) scale(1)"/>
<polygon points="385.3,398.3 401.6,398.3 401.6,389.3 413,406.5 401.6,422.8 401.6,414.6 385.3,414.6" fill="#838383"/>
<polygon points="481.1,398.3 497.4,398.3 497.4,389.3 508.6,406.5 497.4,422.8 497.4,414.6 481.1,414.6" fill="#838383"/>
</g>

<!-- box 3 diagram -->
<g id="d3">
<rect x="932" y="350" width="21" height="108.4" fill="url(#wall3)"/>
<polygon points="666,375.9 885.6,375.9 885.6,357.2 930.5,401.7 885.6,446.2 885.6,427.5 666,427.5" fill="url(#fade3)"/>
<use href="#bub" transform="translate(714.6,386.5) scale(0.7)"/><use href="#bub" transform="translate(744.9,386.5) scale(0.7)"/><use href="#bub" transform="translate(775.1,386.5) scale(0.7)"/><use href="#bub" transform="translate(805.3,386.5) scale(0.7)"/><use href="#bub" transform="translate(834.9,386.5) scale(0.7)"/><use href="#bub" transform="translate(865.1,386.5) scale(0.7)"/><use href="#bub" transform="translate(727.6,401.6) scale(0.7)"/><use href="#bub" transform="translate(757.3,401.6) scale(0.7)"/><use href="#bub" transform="translate(787.2,401.6) scale(0.7)"/><use href="#bub" transform="translate(817.7,401.6) scale(0.7)"/><use href="#bub" transform="translate(847.9,401.6) scale(0.7)"/><use href="#bub" transform="translate(877.8,401.6) scale(0.7)"/><use href="#bub" transform="translate(714.6,416.7) scale(0.7)"/><use href="#bub" transform="translate(744.9,416.7) scale(0.7)"/><use href="#bub" transform="translate(775.1,416.7) scale(0.7)"/><use href="#bub" transform="translate(805.3,416.7) scale(0.7)"/><use href="#bub" transform="translate(834.9,416.7) scale(0.7)"/><use href="#bub" transform="translate(865.1,416.7) scale(0.7)"/>
<rect x="929.8" y="350" width="4.8" height="108.4" fill="#4c9a3e"/>

<g fill="#1b9cc4"><path d="M22,0 C13.2,-2.1 7.8,-4.8 0,-4.6 A4.6,4.6 0 1 0 0,4.6 C7.8,4.8 13.2,2.1 22,0Z" transform="translate(910.5,348) rotate(47.6)"/><path d="M11.5,0 C6.9,-1.5 5.6,-3.5 0,-3.3 A3.3,3.3 0 1 0 0,3.3 C5.6,3.5 6.9,1.5 11.5,0Z" transform="translate(927.2,349.5) rotate(87)"/><path d="M11,0 C6.6,-1.6 6.1,-3.8 0,-3.6 A3.6,3.6 0 1 0 0,3.6 C6.1,3.8 6.6,1.6 11,0Z" transform="translate(914.3,368.8) rotate(26)"/><path d="M10.7,0 C6.4,-1.7 6.5,-4 0,-3.8 A3.8,3.8 0 1 0 0,3.8 C6.5,4 6.4,1.7 10.7,0Z" transform="translate(913.8,433.5) rotate(-27.8)"/><path d="M21,0 C12.6,-2.1 7.8,-4.8 0,-4.6 A4.6,4.6 0 1 0 0,4.6 C7.8,4.8 12.6,2.1 21,0Z" transform="translate(912,455) rotate(-53.5)"/><path d="M9.5,0 C5.7,-1.5 5.6,-3.5 0,-3.3 A3.3,3.3 0 1 0 0,3.3 C5.6,3.5 5.7,1.5 9.5,0Z" transform="translate(927.2,453.2) rotate(-85)"/></g>
<g fill="#4c9a3e">
<rect x="-3.4" y="-3.4" width="6.8" height="6.8" transform="translate(876.7,352.3) rotate(-15)"/>
<rect x="-3.4" y="-3.4" width="6.8" height="6.8" transform="translate(896.5,348.6) rotate(-40)"/>
<rect x="-3.4" y="-3.4" width="6.8" height="6.8" transform="translate(903.7,361.6) rotate(-15)"/>
<rect x="-3.4" y="-3.4" width="6.8" height="6.8" transform="translate(889.1,453) rotate(-15)"/>
<rect x="-3.4" y="-3.4" width="6.8" height="6.8" transform="translate(903,440.3) rotate(-15)"/>
<rect x="-3.4" y="-3.4" width="6.8" height="6.8" transform="translate(909.6,454.2) rotate(-35)"/>
</g>
<polygon points="948.5,373.3 945.1,375.5 948.4,380.4 943.7,379.6 945.1,386.1 940.9,382.8 941.1,391.2 937.3,384.7 935.7,393.3 933.3,385.1 930.5,390.5 929.4,383.9 926.1,387.4 926.2,381.3 920.7,384.3 924,377.6 920.2,376.7 923.3,373.3 920.3,369.9 924,369 920.3,362 926.2,365.3 925.3,357.8 929.4,362.7 929.9,353.2 933.3,361.5 935.7,353.9 937.3,361.9 941.2,355.3 940.9,363.8 944.6,361 943.7,367 948.7,366 945.1,371.1" fill="#fff"/><polygon points="950.2,432.3 945.6,434.5 949.5,439.7 944.2,438.6 946.5,446.3 941.4,441.8 942.1,451.3 937.8,443.7 936.3,452.7 933.8,444.1 930.3,452.7 929.9,442.9 926.6,446.5 926.7,440.3 922.1,442.5 924.5,436.6 918.7,436.2 923.8,432.3 919.6,428.6 924.5,428 921,421.2 926.7,424.3 926.4,417.9 929.9,421.7 930.7,413.6 933.8,420.5 936.1,413.8 937.8,420.9 941.6,414.6 941.4,422.8 946.1,418.9 944.2,426 947.5,425.9 945.6,430.1" fill="#fff"/>
</g>
</svg>
</body></html>
